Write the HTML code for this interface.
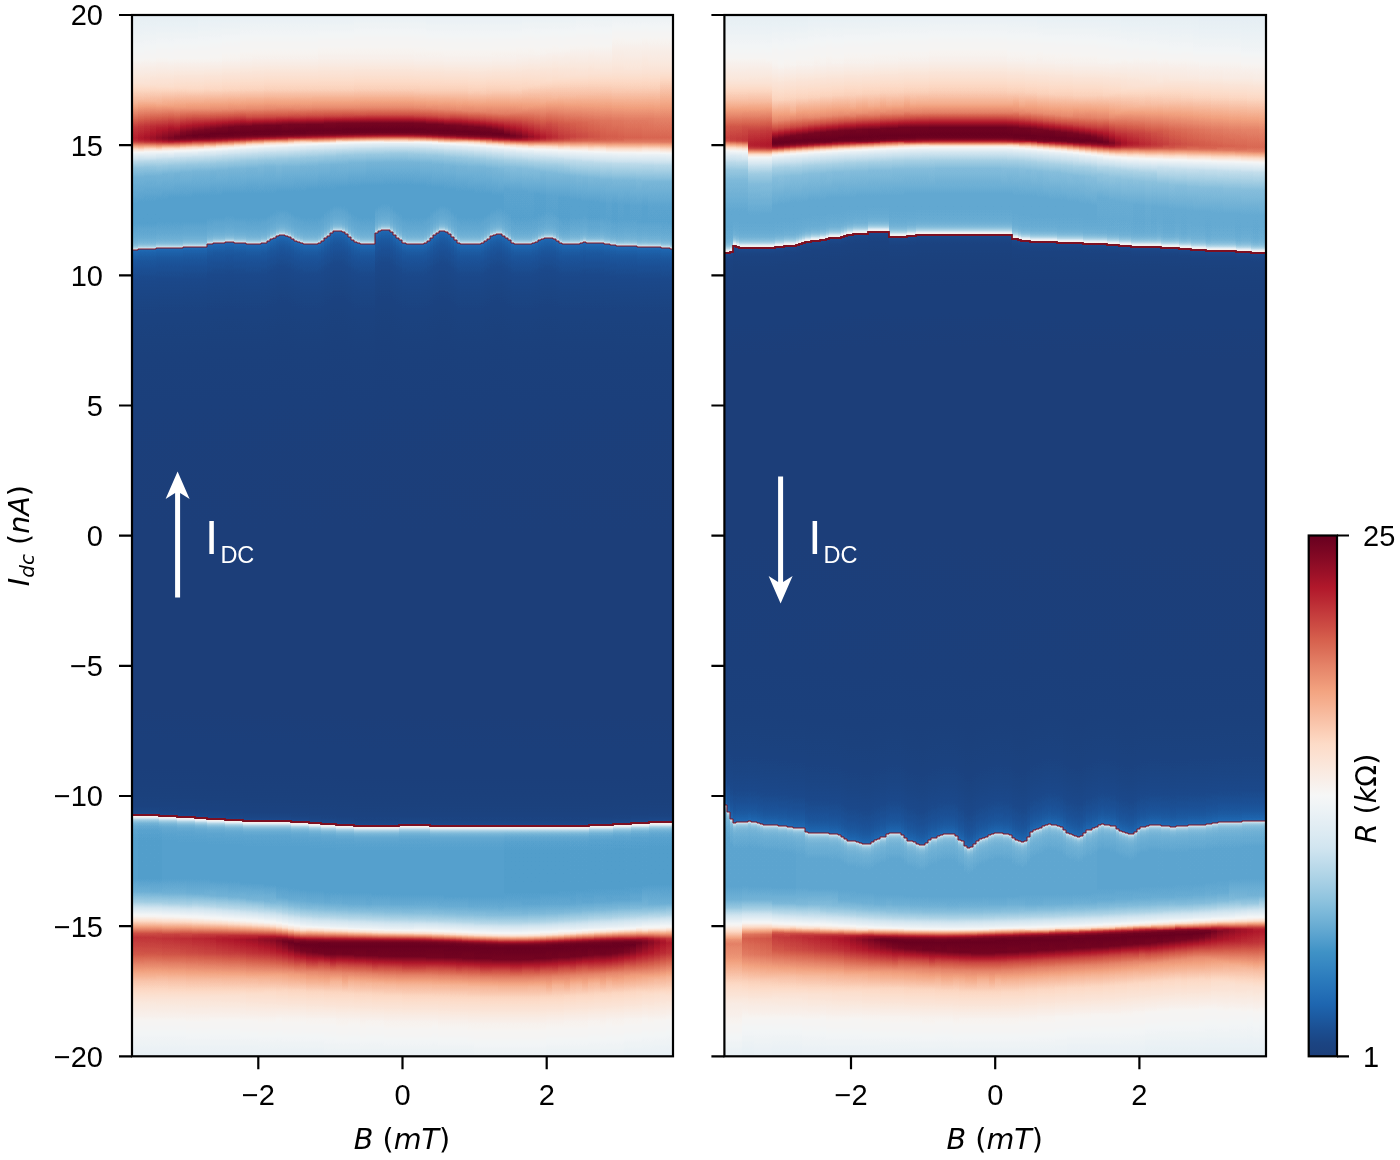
<!DOCTYPE html>
<html lang="en"><head><meta charset="utf-8"><title>Figure</title>
<style>
html,body{margin:0;padding:0;background:#fff;}
body{width:1400px;height:1160px;overflow:hidden;}
svg{display:block;}
.t{font-family:"Liberation Sans",Arial,Helvetica,sans-serif;font-size:29px;fill:#000;}
.m{font-family:"DejaVu Sans","Liberation Sans",sans-serif;font-size:28.6px;fill:#000;}
.i{font-style:oblique;}
.w{font-family:"Liberation Sans",Arial,Helvetica,sans-serif;fill:#fff;}
</style></head><body>
<svg width="1400" height="1160" viewBox="0 0 1400 1160">

<defs>
<filter id="cm" filterUnits="userSpaceOnUse" x="127" y="10" width="1144" height="1051" color-interpolation-filters="sRGB"><feComponentTransfer><feFuncR type="table" tableValues="0.11 0.107 0.106 0.106 0.111 0.117 0.137 0.159 0.183 0.212 0.241 0.298 0.361 0.422 0.481 0.539 0.595 0.648 0.701 0.751 0.8 0.837 0.866 0.896 0.923 0.951 0.968 0.974 0.98 0.985 0.989 0.989 0.981 0.974 0.966 0.958 0.946 0.925 0.903 0.881 0.858 0.834 0.806 0.778 0.75 0.72 0.688 0.628 0.568 0.512 0.458 0.404"/><feFuncG type="table" tableValues="0.247 0.262 0.286 0.32 0.358 0.396 0.43 0.464 0.498 0.532 0.566 0.605 0.645 0.683 0.719 0.754 0.784 0.812 0.839 0.864 0.888 0.906 0.92 0.934 0.948 0.962 0.958 0.936 0.915 0.893 0.872 0.842 0.799 0.755 0.714 0.672 0.628 0.577 0.526 0.473 0.42 0.365 0.308 0.251 0.196 0.143 0.092 0.072 0.052 0.034 0.017 0"/><feFuncB type="table" tableValues="0.478 0.504 0.542 0.593 0.639 0.686 0.708 0.728 0.746 0.76 0.774 0.792 0.812 0.832 0.849 0.866 0.88 0.894 0.908 0.922 0.936 0.945 0.951 0.957 0.962 0.966 0.95 0.913 0.876 0.839 0.803 0.759 0.705 0.651 0.597 0.544 0.494 0.456 0.417 0.377 0.335 0.297 0.271 0.244 0.218 0.192 0.168 0.158 0.149 0.14 0.131 0.122"/></feComponentTransfer></filter>
<linearGradient id="gsu" x2="0" y2="1"><stop offset="0" stop-color="#8c8c8c" stop-opacity="0.000"/><stop offset=".231" stop-color="#8c8c8c" stop-opacity="0.032"/><stop offset=".423" stop-color="#8c8c8c" stop-opacity="0.052"/><stop offset=".577" stop-color="#8c8c8c" stop-opacity="0.079"/><stop offset=".692" stop-color="#8c8c8c" stop-opacity="0.111"/><stop offset=".769" stop-color="#8c8c8c" stop-opacity="0.148"/><stop offset=".827" stop-color="#8c8c8c" stop-opacity="0.195"/><stop offset=".885" stop-color="#8c8c8c" stop-opacity="0.280"/><stop offset=".923" stop-color="#8c8c8c" stop-opacity="0.378"/><stop offset=".962" stop-color="#8c8c8c" stop-opacity="0.536"/><stop offset="1" stop-color="#8c8c8c" stop-opacity="0.800"/></linearGradient>
<linearGradient id="gsd" x2="0" y2="1"><stop offset="0" stop-color="#8c8c8c" stop-opacity="0.800"/><stop offset=".038" stop-color="#8c8c8c" stop-opacity="0.536"/><stop offset=".077" stop-color="#8c8c8c" stop-opacity="0.378"/><stop offset=".115" stop-color="#8c8c8c" stop-opacity="0.280"/><stop offset=".173" stop-color="#8c8c8c" stop-opacity="0.195"/><stop offset=".231" stop-color="#8c8c8c" stop-opacity="0.148"/><stop offset=".308" stop-color="#8c8c8c" stop-opacity="0.111"/><stop offset=".423" stop-color="#8c8c8c" stop-opacity="0.079"/><stop offset=".577" stop-color="#8c8c8c" stop-opacity="0.052"/><stop offset=".769" stop-color="#8c8c8c" stop-opacity="0.032"/><stop offset="1" stop-color="#8c8c8c" stop-opacity="0.000"/></linearGradient>
<linearGradient id="gru" x2="0" y2="1"><stop offset="0" stop-color="#8c8c8c" stop-opacity="0.000"/><stop offset=".231" stop-color="#8c8c8c" stop-opacity="0.012"/><stop offset=".423" stop-color="#8c8c8c" stop-opacity="0.028"/><stop offset=".577" stop-color="#8c8c8c" stop-opacity="0.066"/><stop offset=".692" stop-color="#8c8c8c" stop-opacity="0.141"/><stop offset=".769" stop-color="#8c8c8c" stop-opacity="0.246"/><stop offset=".827" stop-color="#8c8c8c" stop-opacity="0.381"/><stop offset=".885" stop-color="#8c8c8c" stop-opacity="0.598"/><stop offset=".923" stop-color="#8c8c8c" stop-opacity="0.812"/><stop offset=".962" stop-color="#8c8c8c" stop-opacity="1.000"/><stop offset="1" stop-color="#8c8c8c" stop-opacity="1.000"/></linearGradient>
<linearGradient id="grd" x2="0" y2="1"><stop offset="0" stop-color="#8c8c8c" stop-opacity="1.000"/><stop offset=".038" stop-color="#8c8c8c" stop-opacity="1.000"/><stop offset=".077" stop-color="#8c8c8c" stop-opacity="0.812"/><stop offset=".115" stop-color="#8c8c8c" stop-opacity="0.598"/><stop offset=".173" stop-color="#8c8c8c" stop-opacity="0.381"/><stop offset=".231" stop-color="#8c8c8c" stop-opacity="0.246"/><stop offset=".308" stop-color="#8c8c8c" stop-opacity="0.141"/><stop offset=".423" stop-color="#8c8c8c" stop-opacity="0.066"/><stop offset=".577" stop-color="#8c8c8c" stop-opacity="0.028"/><stop offset=".769" stop-color="#8c8c8c" stop-opacity="0.012"/><stop offset="1" stop-color="#8c8c8c" stop-opacity="0.000"/></linearGradient>
<linearGradient id="scl" x2="0" y2="1"><stop offset="0" stop-color="#1d1d1d"/><stop offset=".003" stop-color="#1b1b1b"/><stop offset=".006" stop-color="#181818"/><stop offset=".010" stop-color="#161616"/><stop offset=".016" stop-color="#131313"/><stop offset=".022" stop-color="#111"/><stop offset=".034" stop-color="#0e0e0e"/><stop offset=".055" stop-color="#0a0a0a"/><stop offset=".086" stop-color="#070707"/><stop offset=".129" stop-color="#040404"/><stop offset=".190" stop-color="#020202"/><stop offset=".276" stop-color="#010101"/><stop offset=".500" stop-color="#000"/><stop offset=".724" stop-color="#000"/><stop offset=".810" stop-color="#000"/><stop offset=".871" stop-color="#010101"/><stop offset=".914" stop-color="#010101"/><stop offset=".945" stop-color="#020202"/><stop offset=".966" stop-color="#030303"/><stop offset=".978" stop-color="#040404"/><stop offset=".984" stop-color="#050505"/><stop offset=".990" stop-color="#060606"/><stop offset=".994" stop-color="#080808"/><stop offset=".997" stop-color="#0a0a0a"/><stop offset="1" stop-color="#0d0d0d"/></linearGradient>
<linearGradient id="scr" x2="0" y2="1"><stop offset="0" stop-color="#0d0d0d"/><stop offset=".003" stop-color="#0a0a0a"/><stop offset=".006" stop-color="#080808"/><stop offset=".010" stop-color="#060606"/><stop offset=".016" stop-color="#050505"/><stop offset=".022" stop-color="#040404"/><stop offset=".034" stop-color="#030303"/><stop offset=".055" stop-color="#020202"/><stop offset=".086" stop-color="#010101"/><stop offset=".129" stop-color="#010101"/><stop offset=".190" stop-color="#000"/><stop offset=".276" stop-color="#000"/><stop offset=".500" stop-color="#000"/><stop offset=".724" stop-color="#010101"/><stop offset=".810" stop-color="#020202"/><stop offset=".871" stop-color="#040404"/><stop offset=".914" stop-color="#070707"/><stop offset=".945" stop-color="#0a0a0a"/><stop offset=".966" stop-color="#0e0e0e"/><stop offset=".978" stop-color="#111"/><stop offset=".984" stop-color="#131313"/><stop offset=".990" stop-color="#161616"/><stop offset=".994" stop-color="#181818"/><stop offset=".997" stop-color="#1b1b1b"/><stop offset="1" stop-color="#1d1d1d"/></linearGradient>
<linearGradient id="l0" x2="0" y2="1"><stop offset="0" stop-color="#747474"/><stop offset=".038" stop-color="#7f7f7f"/><stop offset=".065" stop-color="#919191"/><stop offset=".084" stop-color="#aaa"/><stop offset=".108" stop-color="#dadada"/><stop offset=".118" stop-color="#e3e3e3"/><stop offset=".120" stop-color="#e0e0e0"/><stop offset=".122" stop-color="#d7d7d7"/><stop offset=".130" stop-color="#8d8d8d"/><stop offset=".133" stop-color="#797979"/><stop offset=".141" stop-color="#5c5c5c"/><stop offset=".147" stop-color="#4d4d4d"/><stop offset=".156" stop-color="#434343"/><stop offset=".181" stop-color="#3a3a3a"/><stop offset=".829" stop-color="#3a3a3a"/><stop offset=".842" stop-color="#424242"/><stop offset=".852" stop-color="#555"/><stop offset=".866" stop-color="#858585"/><stop offset=".882" stop-color="#d2d2d2"/><stop offset=".886" stop-color="#dbdbdb"/><stop offset=".902" stop-color="#cfcfcf"/><stop offset=".928" stop-color="#a3a3a3"/><stop offset=".946" stop-color="#8f8f8f"/><stop offset=".969" stop-color="#808080"/><stop offset="1" stop-color="#767676"/></linearGradient>
<linearGradient id="l1" x2="0" y2="1"><stop offset="0" stop-color="#747474"/><stop offset=".038" stop-color="#7f7f7f"/><stop offset=".065" stop-color="#919191"/><stop offset=".081" stop-color="#a6a6a6"/><stop offset=".107" stop-color="#dadada"/><stop offset=".118" stop-color="#e6e6e6"/><stop offset=".120" stop-color="#e3e3e3"/><stop offset=".122" stop-color="#d8d8d8"/><stop offset=".132" stop-color="#7e7e7e"/><stop offset=".136" stop-color="#6b6b6b"/><stop offset=".141" stop-color="#5b5b5b"/><stop offset=".147" stop-color="#4d4d4d"/><stop offset=".156" stop-color="#434343"/><stop offset=".180" stop-color="#3a3a3a"/><stop offset=".829" stop-color="#393939"/><stop offset=".842" stop-color="#424242"/><stop offset=".852" stop-color="#555"/><stop offset=".866" stop-color="#848484"/><stop offset=".882" stop-color="#d2d2d2"/><stop offset=".886" stop-color="#dbdbdb"/><stop offset=".902" stop-color="#cfcfcf"/><stop offset=".928" stop-color="#a3a3a3"/><stop offset=".946" stop-color="#8f8f8f"/><stop offset=".969" stop-color="#808080"/><stop offset="1" stop-color="#767676"/></linearGradient>
<linearGradient id="l2" x2="0" y2="1"><stop offset="0" stop-color="#747474"/><stop offset=".039" stop-color="#808080"/><stop offset=".066" stop-color="#929292"/><stop offset=".082" stop-color="#a8a8a8"/><stop offset=".107" stop-color="#dcdcdc"/><stop offset=".118" stop-color="#e9e9e9"/><stop offset=".120" stop-color="#e5e5e5"/><stop offset=".122" stop-color="#dbdbdb"/><stop offset=".129" stop-color="#939393"/><stop offset=".132" stop-color="#7c7c7c"/><stop offset=".140" stop-color="#5d5d5d"/><stop offset=".146" stop-color="#4e4e4e"/><stop offset=".155" stop-color="#434343"/><stop offset=".179" stop-color="#3a3a3a"/><stop offset=".829" stop-color="#393939"/><stop offset=".842" stop-color="#424242"/><stop offset=".852" stop-color="#545454"/><stop offset=".866" stop-color="#848484"/><stop offset=".882" stop-color="#d2d2d2"/><stop offset=".886" stop-color="#dbdbdb"/><stop offset=".901" stop-color="#d0d0d0"/><stop offset=".928" stop-color="#a3a3a3"/><stop offset=".946" stop-color="#8f8f8f"/><stop offset=".969" stop-color="#808080"/><stop offset="1" stop-color="#767676"/></linearGradient>
<linearGradient id="l3" x2="0" y2="1"><stop offset="0" stop-color="#747474"/><stop offset=".040" stop-color="#808080"/><stop offset=".067" stop-color="#949494"/><stop offset=".083" stop-color="#aaa"/><stop offset=".107" stop-color="#dedede"/><stop offset=".118" stop-color="#ececec"/><stop offset=".120" stop-color="#e9e9e9"/><stop offset=".122" stop-color="#ddd"/><stop offset=".129" stop-color="#929292"/><stop offset=".132" stop-color="#7b7b7b"/><stop offset=".140" stop-color="#5c5c5c"/><stop offset=".146" stop-color="#4e4e4e"/><stop offset=".155" stop-color="#434343"/><stop offset=".179" stop-color="#3a3a3a"/><stop offset=".829" stop-color="#393939"/><stop offset=".842" stop-color="#414141"/><stop offset=".852" stop-color="#545454"/><stop offset=".866" stop-color="#848484"/><stop offset=".882" stop-color="#d2d2d2"/><stop offset=".886" stop-color="#dbdbdb"/><stop offset=".901" stop-color="#d0d0d0"/><stop offset=".928" stop-color="#a3a3a3"/><stop offset=".946" stop-color="#8f8f8f"/><stop offset=".969" stop-color="#808080"/><stop offset="1" stop-color="#767676"/></linearGradient>
<linearGradient id="l4" x2="0" y2="1"><stop offset="0" stop-color="#747474"/><stop offset=".040" stop-color="#818181"/><stop offset=".068" stop-color="#959595"/><stop offset=".085" stop-color="#adadad"/><stop offset=".108" stop-color="#e2e2e2"/><stop offset=".118" stop-color="#f0f0f0"/><stop offset=".120" stop-color="#ececec"/><stop offset=".122" stop-color="#dfdfdf"/><stop offset=".131" stop-color="#818181"/><stop offset=".134" stop-color="#707070"/><stop offset=".139" stop-color="#5e5e5e"/><stop offset=".146" stop-color="#4f4f4f"/><stop offset=".154" stop-color="#444"/><stop offset=".178" stop-color="#3a3a3a"/><stop offset=".829" stop-color="#393939"/><stop offset=".842" stop-color="#414141"/><stop offset=".852" stop-color="#545454"/><stop offset=".867" stop-color="#878787"/><stop offset=".882" stop-color="#d3d3d3"/><stop offset=".887" stop-color="#dbdbdb"/><stop offset=".902" stop-color="#cfcfcf"/><stop offset=".927" stop-color="#a4a4a4"/><stop offset=".945" stop-color="#909090"/><stop offset=".969" stop-color="#808080"/><stop offset="1" stop-color="#767676"/></linearGradient>
<linearGradient id="l5" x2="0" y2="1"><stop offset="0" stop-color="#747474"/><stop offset=".040" stop-color="#818181"/><stop offset=".068" stop-color="#959595"/><stop offset=".086" stop-color="#b0b0b0"/><stop offset=".108" stop-color="#e3e3e3"/><stop offset=".118" stop-color="#f4f4f4"/><stop offset=".120" stop-color="#efefef"/><stop offset=".122" stop-color="#e2e2e2"/><stop offset=".128" stop-color="#999"/><stop offset=".131" stop-color="#7f7f7f"/><stop offset=".134" stop-color="#6f6f6f"/><stop offset=".138" stop-color="#616161"/><stop offset=".145" stop-color="#505050"/><stop offset=".153" stop-color="#444"/><stop offset=".177" stop-color="#3a3a3a"/><stop offset=".829" stop-color="#3a3a3a"/><stop offset=".843" stop-color="#424242"/><stop offset=".853" stop-color="#565656"/><stop offset=".867" stop-color="#868686"/><stop offset=".883" stop-color="#d6d6d6"/><stop offset=".887" stop-color="#dcdcdc"/><stop offset=".902" stop-color="#d0d0d0"/><stop offset=".927" stop-color="#a4a4a4"/><stop offset=".945" stop-color="#909090"/><stop offset=".969" stop-color="#808080"/><stop offset="1" stop-color="#767676"/></linearGradient>
<linearGradient id="l6" x2="0" y2="1"><stop offset="0" stop-color="#747474"/><stop offset=".041" stop-color="#818181"/><stop offset=".069" stop-color="#969696"/><stop offset=".087" stop-color="#b2b2b2"/><stop offset=".109" stop-color="#e8e8e8"/><stop offset=".118" stop-color="#f7f7f7"/><stop offset=".120" stop-color="#f2f2f2"/><stop offset=".122" stop-color="#e4e4e4"/><stop offset=".128" stop-color="#989898"/><stop offset=".131" stop-color="#7e7e7e"/><stop offset=".138" stop-color="#606060"/><stop offset=".145" stop-color="#4f4f4f"/><stop offset=".152" stop-color="#454545"/><stop offset=".176" stop-color="#3a3a3a"/><stop offset=".829" stop-color="#3a3a3a"/><stop offset=".843" stop-color="#424242"/><stop offset=".853" stop-color="#555"/><stop offset=".867" stop-color="#868686"/><stop offset=".883" stop-color="#d6d6d6"/><stop offset=".887" stop-color="#dcdcdc"/><stop offset=".902" stop-color="#d0d0d0"/><stop offset=".927" stop-color="#a5a5a5"/><stop offset=".945" stop-color="#909090"/><stop offset=".969" stop-color="#808080"/><stop offset="1" stop-color="#767676"/></linearGradient>
<linearGradient id="l7" x2="0" y2="1"><stop offset="0" stop-color="#747474"/><stop offset=".042" stop-color="#828282"/><stop offset=".070" stop-color="#989898"/><stop offset=".089" stop-color="#b6b6b6"/><stop offset=".117" stop-color="#fafafa"/><stop offset=".119" stop-color="#f8f8f8"/><stop offset=".121" stop-color="#ececec"/><stop offset=".130" stop-color="#838383"/><stop offset=".133" stop-color="#717171"/><stop offset=".137" stop-color="#626262"/><stop offset=".144" stop-color="#515151"/><stop offset=".152" stop-color="#444"/><stop offset=".176" stop-color="#3a3a3a"/><stop offset=".829" stop-color="#3a3a3a"/><stop offset=".843" stop-color="#424242"/><stop offset=".853" stop-color="#555"/><stop offset=".867" stop-color="#858585"/><stop offset=".883" stop-color="#d7d7d7"/><stop offset=".887" stop-color="#ddd"/><stop offset=".902" stop-color="#d0d0d0"/><stop offset=".927" stop-color="#a5a5a5"/><stop offset=".945" stop-color="#909090"/><stop offset=".969" stop-color="#808080"/><stop offset="1" stop-color="#767676"/></linearGradient>
<linearGradient id="l8" x2="0" y2="1"><stop offset="0" stop-color="#747474"/><stop offset=".042" stop-color="#828282"/><stop offset=".070" stop-color="#989898"/><stop offset=".089" stop-color="#b6b6b6"/><stop offset=".113" stop-color="#f6f6f6"/><stop offset=".117" stop-color="#fcfcfc"/><stop offset=".119" stop-color="#f8f8f8"/><stop offset=".121" stop-color="#eaeaea"/><stop offset=".128" stop-color="#939393"/><stop offset=".130" stop-color="#828282"/><stop offset=".133" stop-color="#707070"/><stop offset=".137" stop-color="#616161"/><stop offset=".144" stop-color="#505050"/><stop offset=".151" stop-color="#454545"/><stop offset=".175" stop-color="#3a3a3a"/><stop offset=".829" stop-color="#3a3a3a"/><stop offset=".843" stop-color="#424242"/><stop offset=".854" stop-color="#575757"/><stop offset=".867" stop-color="#848484"/><stop offset=".882" stop-color="#d3d3d3"/><stop offset=".887" stop-color="#dedede"/><stop offset=".901" stop-color="#d2d2d2"/><stop offset=".927" stop-color="#a5a5a5"/><stop offset=".945" stop-color="#909090"/><stop offset=".969" stop-color="#808080"/><stop offset="1" stop-color="#767676"/></linearGradient>
<linearGradient id="l9" x2="0" y2="1"><stop offset="0" stop-color="#747474"/><stop offset=".042" stop-color="#828282"/><stop offset=".071" stop-color="#999"/><stop offset=".090" stop-color="#b9b9b9"/><stop offset=".112" stop-color="#f6f6f6"/><stop offset=".116" stop-color="#fdfdfd"/><stop offset=".119" stop-color="#f7f7f7"/><stop offset=".121" stop-color="#e9e9e9"/><stop offset=".127" stop-color="#9b9b9b"/><stop offset=".130" stop-color="#808080"/><stop offset=".133" stop-color="#6f6f6f"/><stop offset=".137" stop-color="#606060"/><stop offset=".144" stop-color="#4f4f4f"/><stop offset=".151" stop-color="#454545"/><stop offset=".175" stop-color="#3a3a3a"/><stop offset=".829" stop-color="#3a3a3a"/><stop offset=".843" stop-color="#414141"/><stop offset=".854" stop-color="#565656"/><stop offset=".867" stop-color="#838383"/><stop offset=".882" stop-color="#d3d3d3"/><stop offset=".887" stop-color="#dedede"/><stop offset=".901" stop-color="#d3d3d3"/><stop offset=".927" stop-color="#a6a6a6"/><stop offset=".944" stop-color="#919191"/><stop offset=".968" stop-color="#818181"/><stop offset="1" stop-color="#767676"/></linearGradient>
<linearGradient id="l10" x2="0" y2="1"><stop offset="0" stop-color="#747474"/><stop offset=".042" stop-color="#828282"/><stop offset=".071" stop-color="#999"/><stop offset=".090" stop-color="#b9b9b9"/><stop offset=".112" stop-color="#f9f9f9"/><stop offset=".116" stop-color="#fefefe"/><stop offset=".118" stop-color="#fbfbfb"/><stop offset=".120" stop-color="#f0f0f0"/><stop offset=".127" stop-color="#999"/><stop offset=".130" stop-color="#7e7e7e"/><stop offset=".136" stop-color="#626262"/><stop offset=".143" stop-color="#515151"/><stop offset=".150" stop-color="#454545"/><stop offset=".174" stop-color="#3a3a3a"/><stop offset=".830" stop-color="#3a3a3a"/><stop offset=".844" stop-color="#424242"/><stop offset=".854" stop-color="#585858"/><stop offset=".868" stop-color="#868686"/><stop offset=".883" stop-color="#d7d7d7"/><stop offset=".887" stop-color="#e0e0e0"/><stop offset=".901" stop-color="#d3d3d3"/><stop offset=".927" stop-color="#a6a6a6"/><stop offset=".944" stop-color="#919191"/><stop offset=".968" stop-color="#818181"/><stop offset="1" stop-color="#767676"/></linearGradient>
<linearGradient id="l11" x2="0" y2="1"><stop offset="0" stop-color="#757575"/><stop offset=".042" stop-color="#828282"/><stop offset=".071" stop-color="#999"/><stop offset=".090" stop-color="#b9b9b9"/><stop offset=".098" stop-color="#d0d0d0"/><stop offset=".111" stop-color="#f8f8f8"/><stop offset=".115" stop-color="#fefefe"/><stop offset=".118" stop-color="#fafafa"/><stop offset=".120" stop-color="#efefef"/><stop offset=".129" stop-color="#838383"/><stop offset=".132" stop-color="#717171"/><stop offset=".136" stop-color="#626262"/><stop offset=".143" stop-color="#505050"/><stop offset=".150" stop-color="#454545"/><stop offset=".174" stop-color="#3a3a3a"/><stop offset=".830" stop-color="#3a3a3a"/><stop offset=".844" stop-color="#424242"/><stop offset=".854" stop-color="#575757"/><stop offset=".868" stop-color="#858585"/><stop offset=".883" stop-color="#d8d8d8"/><stop offset=".887" stop-color="#e0e0e0"/><stop offset=".901" stop-color="#d4d4d4"/><stop offset=".927" stop-color="#a6a6a6"/><stop offset=".944" stop-color="#919191"/><stop offset=".968" stop-color="#818181"/><stop offset="1" stop-color="#767676"/></linearGradient>
<linearGradient id="l12" x2="0" y2="1"><stop offset="0" stop-color="#757575"/><stop offset=".042" stop-color="#828282"/><stop offset=".071" stop-color="#9a9a9a"/><stop offset=".090" stop-color="#b9b9b9"/><stop offset=".098" stop-color="#d0d0d0"/><stop offset=".110" stop-color="#f8f8f8"/><stop offset=".115" stop-color="#fefefe"/><stop offset=".117" stop-color="#fdfdfd"/><stop offset=".119" stop-color="#f5f5f5"/><stop offset=".121" stop-color="#e4e4e4"/><stop offset=".126" stop-color="#9e9e9e"/><stop offset=".129" stop-color="#818181"/><stop offset=".132" stop-color="#6f6f6f"/><stop offset=".136" stop-color="#616161"/><stop offset=".143" stop-color="#505050"/><stop offset=".150" stop-color="#454545"/><stop offset=".174" stop-color="#3a3a3a"/><stop offset=".830" stop-color="#3a3a3a"/><stop offset=".845" stop-color="#434343"/><stop offset=".855" stop-color="#595959"/><stop offset=".868" stop-color="#838383"/><stop offset=".883" stop-color="#d8d8d8"/><stop offset=".887" stop-color="#e1e1e1"/><stop offset=".901" stop-color="#d5d5d5"/><stop offset=".927" stop-color="#a6a6a6"/><stop offset=".944" stop-color="#919191"/><stop offset=".968" stop-color="#818181"/><stop offset="1" stop-color="#767676"/></linearGradient>
<linearGradient id="l13" x2="0" y2="1"><stop offset="0" stop-color="#757575"/><stop offset=".043" stop-color="#838383"/><stop offset=".072" stop-color="#9b9b9b"/><stop offset=".091" stop-color="#bcbcbc"/><stop offset=".099" stop-color="#d4d4d4"/><stop offset=".109" stop-color="#f7f7f7"/><stop offset=".114" stop-color="#fefefe"/><stop offset=".117" stop-color="#fcfcfc"/><stop offset=".119" stop-color="#f3f3f3"/><stop offset=".121" stop-color="#e1e1e1"/><stop offset=".128" stop-color="#878787"/><stop offset=".131" stop-color="#737373"/><stop offset=".136" stop-color="#606060"/><stop offset=".143" stop-color="#4f4f4f"/><stop offset=".150" stop-color="#444"/><stop offset=".173" stop-color="#3a3a3a"/><stop offset=".831" stop-color="#3a3a3a"/><stop offset=".846" stop-color="#444"/><stop offset=".856" stop-color="#5b5b5b"/><stop offset=".869" stop-color="#868686"/><stop offset=".883" stop-color="#d8d8d8"/><stop offset=".887" stop-color="#e2e2e2"/><stop offset=".901" stop-color="#d5d5d5"/><stop offset=".926" stop-color="#a8a8a8"/><stop offset=".943" stop-color="#929292"/><stop offset=".967" stop-color="#818181"/><stop offset="1" stop-color="#767676"/></linearGradient>
<linearGradient id="l14" x2="0" y2="1"><stop offset="0" stop-color="#757575"/><stop offset=".043" stop-color="#838383"/><stop offset=".072" stop-color="#9b9b9b"/><stop offset=".091" stop-color="#bcbcbc"/><stop offset=".099" stop-color="#d5d5d5"/><stop offset=".109" stop-color="#f9f9f9"/><stop offset=".114" stop-color="#fefefe"/><stop offset=".117" stop-color="#fbfbfb"/><stop offset=".119" stop-color="#f2f2f2"/><stop offset=".121" stop-color="#dfdfdf"/><stop offset=".126" stop-color="#979797"/><stop offset=".128" stop-color="#848484"/><stop offset=".131" stop-color="#717171"/><stop offset=".135" stop-color="#626262"/><stop offset=".142" stop-color="#505050"/><stop offset=".149" stop-color="#454545"/><stop offset=".173" stop-color="#3a3a3a"/><stop offset=".831" stop-color="#3a3a3a"/><stop offset=".846" stop-color="#434343"/><stop offset=".856" stop-color="#595959"/><stop offset=".869" stop-color="#858585"/><stop offset=".883" stop-color="#d8d8d8"/><stop offset=".885" stop-color="#e0e0e0"/><stop offset=".888" stop-color="#e4e4e4"/><stop offset=".901" stop-color="#d6d6d6"/><stop offset=".926" stop-color="#a8a8a8"/><stop offset=".943" stop-color="#929292"/><stop offset=".967" stop-color="#818181"/><stop offset="1" stop-color="#767676"/></linearGradient>
<linearGradient id="l15" x2="0" y2="1"><stop offset="0" stop-color="#757575"/><stop offset=".043" stop-color="#848484"/><stop offset=".072" stop-color="#9c9c9c"/><stop offset=".090" stop-color="#bababa"/><stop offset=".098" stop-color="#d2d2d2"/><stop offset=".108" stop-color="#f8f8f8"/><stop offset=".114" stop-color="#fefefe"/><stop offset=".117" stop-color="#fbfbfb"/><stop offset=".119" stop-color="#f0f0f0"/><stop offset=".121" stop-color="#dcdcdc"/><stop offset=".126" stop-color="#939393"/><stop offset=".128" stop-color="#818181"/><stop offset=".131" stop-color="#6f6f6f"/><stop offset=".135" stop-color="#606060"/><stop offset=".142" stop-color="#505050"/><stop offset=".149" stop-color="#454545"/><stop offset=".172" stop-color="#3a3a3a"/><stop offset=".831" stop-color="#3a3a3a"/><stop offset=".846" stop-color="#434343"/><stop offset=".857" stop-color="#5b5b5b"/><stop offset=".869" stop-color="#838383"/><stop offset=".883" stop-color="#d8d8d8"/><stop offset=".886" stop-color="#e3e3e3"/><stop offset=".888" stop-color="#e5e5e5"/><stop offset=".901" stop-color="#d7d7d7"/><stop offset=".925" stop-color="#aaa"/><stop offset=".942" stop-color="#939393"/><stop offset=".967" stop-color="#818181"/><stop offset="1" stop-color="#767676"/></linearGradient>
<linearGradient id="l16" x2="0" y2="1"><stop offset="0" stop-color="#757575"/><stop offset=".043" stop-color="#848484"/><stop offset=".072" stop-color="#9c9c9c"/><stop offset=".091" stop-color="#bdbdbd"/><stop offset=".098" stop-color="#d3d3d3"/><stop offset=".108" stop-color="#fafafa"/><stop offset=".113" stop-color="#fefefe"/><stop offset=".116" stop-color="#fdfdfd"/><stop offset=".118" stop-color="#f5f5f5"/><stop offset=".120" stop-color="#e4e4e4"/><stop offset=".127" stop-color="#868686"/><stop offset=".130" stop-color="#727272"/><stop offset=".134" stop-color="#626262"/><stop offset=".141" stop-color="#515151"/><stop offset=".148" stop-color="#454545"/><stop offset=".172" stop-color="#3a3a3a"/><stop offset=".832" stop-color="#3a3a3a"/><stop offset=".847" stop-color="#434343"/><stop offset=".858" stop-color="#5d5d5d"/><stop offset=".870" stop-color="#868686"/><stop offset=".884" stop-color="#dedede"/><stop offset=".888" stop-color="#e6e6e6"/><stop offset=".901" stop-color="#d8d8d8"/><stop offset=".925" stop-color="#aaa"/><stop offset=".942" stop-color="#939393"/><stop offset=".967" stop-color="#818181"/><stop offset="1" stop-color="#767676"/></linearGradient>
<linearGradient id="l17" x2="0" y2="1"><stop offset="0" stop-color="#757575"/><stop offset=".043" stop-color="#848484"/><stop offset=".072" stop-color="#9c9c9c"/><stop offset=".090" stop-color="#bbb"/><stop offset=".098" stop-color="#d4d4d4"/><stop offset=".107" stop-color="#f8f8f8"/><stop offset=".113" stop-color="#fefefe"/><stop offset=".116" stop-color="#fcfcfc"/><stop offset=".118" stop-color="#f4f4f4"/><stop offset=".120" stop-color="#e2e2e2"/><stop offset=".125" stop-color="#979797"/><stop offset=".127" stop-color="#838383"/><stop offset=".130" stop-color="#707070"/><stop offset=".134" stop-color="#616161"/><stop offset=".141" stop-color="#505050"/><stop offset=".148" stop-color="#454545"/><stop offset=".172" stop-color="#3a3a3a"/><stop offset=".832" stop-color="#3a3a3a"/><stop offset=".847" stop-color="#434343"/><stop offset=".858" stop-color="#5c5c5c"/><stop offset=".870" stop-color="#848484"/><stop offset=".884" stop-color="#dedede"/><stop offset=".888" stop-color="#e8e8e8"/><stop offset=".900" stop-color="#dadada"/><stop offset=".925" stop-color="#aaa"/><stop offset=".942" stop-color="#939393"/><stop offset=".967" stop-color="#818181"/><stop offset="1" stop-color="#767676"/></linearGradient>
<linearGradient id="l18" x2="0" y2="1"><stop offset="0" stop-color="#767676"/><stop offset=".043" stop-color="#858585"/><stop offset=".072" stop-color="#9d9d9d"/><stop offset=".090" stop-color="#bbb"/><stop offset=".098" stop-color="#d5d5d5"/><stop offset=".107" stop-color="#fafafa"/><stop offset=".113" stop-color="#fefefe"/><stop offset=".116" stop-color="#fcfcfc"/><stop offset=".118" stop-color="#f2f2f2"/><stop offset=".120" stop-color="#dfdfdf"/><stop offset=".126" stop-color="#888"/><stop offset=".129" stop-color="#737373"/><stop offset=".133" stop-color="#636363"/><stop offset=".140" stop-color="#515151"/><stop offset=".147" stop-color="#464646"/><stop offset=".171" stop-color="#3a3a3a"/><stop offset=".833" stop-color="#3a3a3a"/><stop offset=".848" stop-color="#444"/><stop offset=".859" stop-color="#5d5d5d"/><stop offset=".871" stop-color="#878787"/><stop offset=".884" stop-color="#dedede"/><stop offset=".888" stop-color="#e9e9e9"/><stop offset=".900" stop-color="#dbdbdb"/><stop offset=".924" stop-color="#acacac"/><stop offset=".941" stop-color="#949494"/><stop offset=".966" stop-color="#828282"/><stop offset="1" stop-color="#767676"/></linearGradient>
<linearGradient id="l19" x2="0" y2="1"><stop offset="0" stop-color="#767676"/><stop offset=".043" stop-color="#858585"/><stop offset=".072" stop-color="#9d9d9d"/><stop offset=".090" stop-color="#bcbcbc"/><stop offset=".098" stop-color="#d2d2d2"/><stop offset=".107" stop-color="#fafafa"/><stop offset=".113" stop-color="#fefefe"/><stop offset=".116" stop-color="#fbfbfb"/><stop offset=".118" stop-color="#f0f0f0"/><stop offset=".120" stop-color="#dcdcdc"/><stop offset=".124" stop-color="#9a9a9a"/><stop offset=".126" stop-color="#858585"/><stop offset=".129" stop-color="#717171"/><stop offset=".133" stop-color="#626262"/><stop offset=".140" stop-color="#505050"/><stop offset=".147" stop-color="#454545"/><stop offset=".171" stop-color="#3a3a3a"/><stop offset=".833" stop-color="#3a3a3a"/><stop offset=".849" stop-color="#444"/><stop offset=".860" stop-color="#5f5f5f"/><stop offset=".871" stop-color="#858585"/><stop offset=".884" stop-color="#dedede"/><stop offset=".888" stop-color="#ebebeb"/><stop offset=".901" stop-color="#dbdbdb"/><stop offset=".926" stop-color="#a9a9a9"/><stop offset=".941" stop-color="#959595"/><stop offset=".966" stop-color="#828282"/><stop offset="1" stop-color="#767676"/></linearGradient>
<linearGradient id="l20" x2="0" y2="1"><stop offset="0" stop-color="#767676"/><stop offset=".042" stop-color="#858585"/><stop offset=".072" stop-color="#9d9d9d"/><stop offset=".090" stop-color="#bcbcbc"/><stop offset=".098" stop-color="#d3d3d3"/><stop offset=".106" stop-color="#f9f9f9"/><stop offset=".112" stop-color="#fefefe"/><stop offset=".115" stop-color="#fdfdfd"/><stop offset=".117" stop-color="#f6f6f6"/><stop offset=".119" stop-color="#e5e5e5"/><stop offset=".124" stop-color="#979797"/><stop offset=".126" stop-color="#828282"/><stop offset=".129" stop-color="#707070"/><stop offset=".133" stop-color="#616161"/><stop offset=".140" stop-color="#505050"/><stop offset=".147" stop-color="#454545"/><stop offset=".171" stop-color="#3a3a3a"/><stop offset=".834" stop-color="#3a3a3a"/><stop offset=".850" stop-color="#454545"/><stop offset=".861" stop-color="#616161"/><stop offset=".872" stop-color="#888"/><stop offset=".884" stop-color="#dedede"/><stop offset=".888" stop-color="#ececec"/><stop offset=".901" stop-color="#dcdcdc"/><stop offset=".926" stop-color="#a9a9a9"/><stop offset=".941" stop-color="#959595"/><stop offset=".966" stop-color="#828282"/><stop offset="1" stop-color="#767676"/></linearGradient>
<linearGradient id="l21" x2="0" y2="1"><stop offset="0" stop-color="#767676"/><stop offset=".042" stop-color="#858585"/><stop offset=".072" stop-color="#9d9d9d"/><stop offset=".090" stop-color="#bcbcbc"/><stop offset=".098" stop-color="#d3d3d3"/><stop offset=".106" stop-color="#f9f9f9"/><stop offset=".112" stop-color="#fefefe"/><stop offset=".115" stop-color="#fdfdfd"/><stop offset=".117" stop-color="#f5f5f5"/><stop offset=".119" stop-color="#e2e2e2"/><stop offset=".125" stop-color="#888"/><stop offset=".128" stop-color="#737373"/><stop offset=".132" stop-color="#636363"/><stop offset=".139" stop-color="#515151"/><stop offset=".146" stop-color="#464646"/><stop offset=".171" stop-color="#3a3a3a"/><stop offset=".834" stop-color="#3a3a3a"/><stop offset=".850" stop-color="#454545"/><stop offset=".861" stop-color="#5f5f5f"/><stop offset=".872" stop-color="#868686"/><stop offset=".885" stop-color="#e5e5e5"/><stop offset=".887" stop-color="#ededed"/><stop offset=".889" stop-color="#eee"/><stop offset=".901" stop-color="#ddd"/><stop offset=".924" stop-color="#adadad"/><stop offset=".940" stop-color="#969696"/><stop offset=".965" stop-color="#838383"/><stop offset="1" stop-color="#767676"/></linearGradient>
<linearGradient id="l22" x2="0" y2="1"><stop offset="0" stop-color="#767676"/><stop offset=".042" stop-color="#858585"/><stop offset=".072" stop-color="#9e9e9e"/><stop offset=".090" stop-color="#bdbdbd"/><stop offset=".098" stop-color="#d4d4d4"/><stop offset=".106" stop-color="#fafafa"/><stop offset=".112" stop-color="#fefefe"/><stop offset=".115" stop-color="#fdfdfd"/><stop offset=".117" stop-color="#f4f4f4"/><stop offset=".119" stop-color="#e0e0e0"/><stop offset=".123" stop-color="#9c9c9c"/><stop offset=".125" stop-color="#868686"/><stop offset=".128" stop-color="#717171"/><stop offset=".132" stop-color="#626262"/><stop offset=".139" stop-color="#505050"/><stop offset=".146" stop-color="#454545"/><stop offset=".171" stop-color="#3a3a3a"/><stop offset=".835" stop-color="#3a3a3a"/><stop offset=".851" stop-color="#454545"/><stop offset=".856" stop-color="#505050"/><stop offset=".863" stop-color="#646464"/><stop offset=".872" stop-color="#838383"/><stop offset=".885" stop-color="#e5e5e5"/><stop offset=".887" stop-color="#eee"/><stop offset=".889" stop-color="#f0f0f0"/><stop offset=".901" stop-color="#dedede"/><stop offset=".924" stop-color="#adadad"/><stop offset=".939" stop-color="#979797"/><stop offset=".965" stop-color="#838383"/><stop offset="1" stop-color="#767676"/></linearGradient>
<linearGradient id="l23" x2="0" y2="1"><stop offset="0" stop-color="#767676"/><stop offset=".042" stop-color="#858585"/><stop offset=".072" stop-color="#9e9e9e"/><stop offset=".090" stop-color="#bdbdbd"/><stop offset=".098" stop-color="#d4d4d4"/><stop offset=".106" stop-color="#fafafa"/><stop offset=".112" stop-color="#fefefe"/><stop offset=".115" stop-color="#fcfcfc"/><stop offset=".117" stop-color="#f3f3f3"/><stop offset=".119" stop-color="#dedede"/><stop offset=".123" stop-color="#9a9a9a"/><stop offset=".125" stop-color="#848484"/><stop offset=".128" stop-color="#707070"/><stop offset=".132" stop-color="#616161"/><stop offset=".139" stop-color="#505050"/><stop offset=".146" stop-color="#454545"/><stop offset=".171" stop-color="#3a3a3a"/><stop offset=".835" stop-color="#3a3a3a"/><stop offset=".852" stop-color="#464646"/><stop offset=".857" stop-color="#515151"/><stop offset=".864" stop-color="#666"/><stop offset=".873" stop-color="#868686"/><stop offset=".885" stop-color="#e6e6e6"/><stop offset=".887" stop-color="#efefef"/><stop offset=".889" stop-color="#f2f2f2"/><stop offset=".901" stop-color="#e0e0e0"/><stop offset=".923" stop-color="#afafaf"/><stop offset=".939" stop-color="#979797"/><stop offset=".965" stop-color="#838383"/><stop offset="1" stop-color="#767676"/></linearGradient>
<linearGradient id="l24" x2="0" y2="1"><stop offset="0" stop-color="#767676"/><stop offset=".042" stop-color="#858585"/><stop offset=".072" stop-color="#9e9e9e"/><stop offset=".089" stop-color="#bbb"/><stop offset=".097" stop-color="#d1d1d1"/><stop offset=".106" stop-color="#fbfbfb"/><stop offset=".112" stop-color="#fefefe"/><stop offset=".115" stop-color="#fcfcfc"/><stop offset=".117" stop-color="#f1f1f1"/><stop offset=".119" stop-color="#dcdcdc"/><stop offset=".123" stop-color="#979797"/><stop offset=".125" stop-color="#828282"/><stop offset=".127" stop-color="#747474"/><stop offset=".131" stop-color="#636363"/><stop offset=".138" stop-color="#515151"/><stop offset=".146" stop-color="#464646"/><stop offset=".170" stop-color="#3a3a3a"/><stop offset=".836" stop-color="#3a3a3a"/><stop offset=".847" stop-color="#3f3f3f"/><stop offset=".854" stop-color="#4a4a4a"/><stop offset=".861" stop-color="#5a5a5a"/><stop offset=".871" stop-color="#7b7b7b"/><stop offset=".875" stop-color="#8f8f8f"/><stop offset=".886" stop-color="#ededed"/><stop offset=".889" stop-color="#f7f7f7"/><stop offset=".900" stop-color="#e5e5e5"/><stop offset=".922" stop-color="#b1b1b1"/><stop offset=".938" stop-color="#999"/><stop offset=".964" stop-color="#838383"/><stop offset="1" stop-color="#767676"/></linearGradient>
<linearGradient id="l25" x2="0" y2="1"><stop offset="0" stop-color="#767676"/><stop offset=".042" stop-color="#858585"/><stop offset=".072" stop-color="#9e9e9e"/><stop offset=".089" stop-color="#bbb"/><stop offset=".097" stop-color="#d1d1d1"/><stop offset=".105" stop-color="#f8f8f8"/><stop offset=".112" stop-color="#fefefe"/><stop offset=".115" stop-color="#fbfbfb"/><stop offset=".117" stop-color="#f0f0f0"/><stop offset=".119" stop-color="#dadada"/><stop offset=".124" stop-color="#898989"/><stop offset=".127" stop-color="#737373"/><stop offset=".131" stop-color="#636363"/><stop offset=".138" stop-color="#515151"/><stop offset=".146" stop-color="#454545"/><stop offset=".170" stop-color="#3a3a3a"/><stop offset=".837" stop-color="#3a3a3a"/><stop offset=".848" stop-color="#3f3f3f"/><stop offset=".855" stop-color="#4a4a4a"/><stop offset=".862" stop-color="#5a5a5a"/><stop offset=".872" stop-color="#7b7b7b"/><stop offset=".876" stop-color="#909090"/><stop offset=".886" stop-color="#ececec"/><stop offset=".888" stop-color="#f7f7f7"/><stop offset=".890" stop-color="#fbfbfb"/><stop offset=".900" stop-color="#e8e8e8"/><stop offset=".921" stop-color="#b4b4b4"/><stop offset=".937" stop-color="#9a9a9a"/><stop offset=".963" stop-color="#848484"/><stop offset="1" stop-color="#767676"/></linearGradient>
<linearGradient id="l26" x2="0" y2="1"><stop offset="0" stop-color="#767676"/><stop offset=".042" stop-color="#858585"/><stop offset=".072" stop-color="#9e9e9e"/><stop offset=".089" stop-color="#bbb"/><stop offset=".097" stop-color="#d2d2d2"/><stop offset=".105" stop-color="#f9f9f9"/><stop offset=".112" stop-color="#fefefe"/><stop offset=".115" stop-color="#fbfbfb"/><stop offset=".117" stop-color="#efefef"/><stop offset=".124" stop-color="#868686"/><stop offset=".127" stop-color="#717171"/><stop offset=".131" stop-color="#626262"/><stop offset=".138" stop-color="#505050"/><stop offset=".146" stop-color="#454545"/><stop offset=".170" stop-color="#3a3a3a"/><stop offset=".838" stop-color="#3a3a3a"/><stop offset=".849" stop-color="#3f3f3f"/><stop offset=".856" stop-color="#4a4a4a"/><stop offset=".863" stop-color="#5a5a5a"/><stop offset=".873" stop-color="#7b7b7b"/><stop offset=".877" stop-color="#919191"/><stop offset=".887" stop-color="#efefef"/><stop offset=".889" stop-color="#fafafa"/><stop offset=".891" stop-color="#fdfdfd"/><stop offset=".897" stop-color="#f4f4f4"/><stop offset=".920" stop-color="#b7b7b7"/><stop offset=".937" stop-color="#9b9b9b"/><stop offset=".963" stop-color="#848484"/><stop offset="1" stop-color="#767676"/></linearGradient>
<linearGradient id="l27" x2="0" y2="1"><stop offset="0" stop-color="#767676"/><stop offset=".042" stop-color="#858585"/><stop offset=".072" stop-color="#9e9e9e"/><stop offset=".090" stop-color="#bdbdbd"/><stop offset=".098" stop-color="#d6d6d6"/><stop offset=".105" stop-color="#f9f9f9"/><stop offset=".111" stop-color="#fefefe"/><stop offset=".114" stop-color="#fdfdfd"/><stop offset=".116" stop-color="#f5f5f5"/><stop offset=".118" stop-color="#e2e2e2"/><stop offset=".122" stop-color="#9b9b9b"/><stop offset=".124" stop-color="#848484"/><stop offset=".127" stop-color="#707070"/><stop offset=".131" stop-color="#616161"/><stop offset=".138" stop-color="#505050"/><stop offset=".146" stop-color="#454545"/><stop offset=".169" stop-color="#3a3a3a"/><stop offset=".839" stop-color="#3a3a3a"/><stop offset=".850" stop-color="#404040"/><stop offset=".857" stop-color="#4a4a4a"/><stop offset=".864" stop-color="#5b5b5b"/><stop offset=".874" stop-color="#7c7c7c"/><stop offset=".878" stop-color="#939393"/><stop offset=".888" stop-color="#f3f3f3"/><stop offset=".892" stop-color="#fefefe"/><stop offset=".898" stop-color="#f7f7f7"/><stop offset=".921" stop-color="#b6b6b6"/><stop offset=".937" stop-color="#9b9b9b"/><stop offset=".963" stop-color="#848484"/><stop offset="1" stop-color="#767676"/></linearGradient>
<linearGradient id="l28" x2="0" y2="1"><stop offset="0" stop-color="#767676"/><stop offset=".042" stop-color="#858585"/><stop offset=".072" stop-color="#9e9e9e"/><stop offset=".089" stop-color="#bbb"/><stop offset=".097" stop-color="#d2d2d2"/><stop offset=".105" stop-color="#f9f9f9"/><stop offset=".111" stop-color="#fefefe"/><stop offset=".114" stop-color="#fdfdfd"/><stop offset=".116" stop-color="#f4f4f4"/><stop offset=".118" stop-color="#e0e0e0"/><stop offset=".122" stop-color="#989898"/><stop offset=".124" stop-color="#828282"/><stop offset=".126" stop-color="#747474"/><stop offset=".130" stop-color="#636363"/><stop offset=".137" stop-color="#515151"/><stop offset=".145" stop-color="#454545"/><stop offset=".169" stop-color="#3a3a3a"/><stop offset=".840" stop-color="#3a3a3a"/><stop offset=".851" stop-color="#404040"/><stop offset=".858" stop-color="#4a4a4a"/><stop offset=".865" stop-color="#5b5b5b"/><stop offset=".874" stop-color="#797979"/><stop offset=".878" stop-color="#8d8d8d"/><stop offset=".888" stop-color="#f1f1f1"/><stop offset=".890" stop-color="#fbfbfb"/><stop offset=".893" stop-color="#fefefe"/><stop offset=".899" stop-color="#f9f9f9"/><stop offset=".912" stop-color="#cecece"/><stop offset=".921" stop-color="#b7b7b7"/><stop offset=".937" stop-color="#9b9b9b"/><stop offset=".963" stop-color="#848484"/><stop offset="1" stop-color="#767676"/></linearGradient>
<linearGradient id="l29" x2="0" y2="1"><stop offset="0" stop-color="#767676"/><stop offset=".042" stop-color="#858585"/><stop offset=".072" stop-color="#9e9e9e"/><stop offset=".089" stop-color="#bbb"/><stop offset=".097" stop-color="#d3d3d3"/><stop offset=".105" stop-color="#fafafa"/><stop offset=".111" stop-color="#fefefe"/><stop offset=".114" stop-color="#fcfcfc"/><stop offset=".116" stop-color="#f3f3f3"/><stop offset=".118" stop-color="#dedede"/><stop offset=".123" stop-color="#898989"/><stop offset=".126" stop-color="#727272"/><stop offset=".130" stop-color="#626262"/><stop offset=".137" stop-color="#505050"/><stop offset=".145" stop-color="#454545"/><stop offset=".168" stop-color="#3a3a3a"/><stop offset=".841" stop-color="#3a3a3a"/><stop offset=".851" stop-color="#3f3f3f"/><stop offset=".858" stop-color="#494949"/><stop offset=".865" stop-color="#5a5a5a"/><stop offset=".875" stop-color="#7a7a7a"/><stop offset=".878" stop-color="#919191"/><stop offset=".888" stop-color="#efefef"/><stop offset=".890" stop-color="#fafafa"/><stop offset=".893" stop-color="#fefefe"/><stop offset=".900" stop-color="#f9f9f9"/><stop offset=".919" stop-color="#bdbdbd"/><stop offset=".938" stop-color="#9b9b9b"/><stop offset=".964" stop-color="#848484"/><stop offset="1" stop-color="#767676"/></linearGradient>
<linearGradient id="l30" x2="0" y2="1"><stop offset="0" stop-color="#767676"/><stop offset=".042" stop-color="#858585"/><stop offset=".072" stop-color="#9e9e9e"/><stop offset=".089" stop-color="#bcbcbc"/><stop offset=".097" stop-color="#d3d3d3"/><stop offset=".105" stop-color="#fafafa"/><stop offset=".111" stop-color="#fefefe"/><stop offset=".114" stop-color="#fcfcfc"/><stop offset=".116" stop-color="#f2f2f2"/><stop offset=".118" stop-color="#dcdcdc"/><stop offset=".122" stop-color="#a0a0a0"/><stop offset=".123" stop-color="#878787"/><stop offset=".126" stop-color="#717171"/><stop offset=".130" stop-color="#616161"/><stop offset=".137" stop-color="#505050"/><stop offset=".145" stop-color="#454545"/><stop offset=".168" stop-color="#3a3a3a"/><stop offset=".841" stop-color="#3a3a3a"/><stop offset=".852" stop-color="#404040"/><stop offset=".859" stop-color="#4b4b4b"/><stop offset=".866" stop-color="#5b5b5b"/><stop offset=".875" stop-color="#797979"/><stop offset=".878" stop-color="#8f8f8f"/><stop offset=".888" stop-color="#efefef"/><stop offset=".890" stop-color="#fafafa"/><stop offset=".893" stop-color="#fefefe"/><stop offset=".900" stop-color="#fbfbfb"/><stop offset=".919" stop-color="#bdbdbd"/><stop offset=".938" stop-color="#9b9b9b"/><stop offset=".964" stop-color="#848484"/><stop offset="1" stop-color="#767676"/></linearGradient>
<linearGradient id="l31" x2="0" y2="1"><stop offset="0" stop-color="#767676"/><stop offset=".042" stop-color="#868686"/><stop offset=".072" stop-color="#9e9e9e"/><stop offset=".089" stop-color="#bcbcbc"/><stop offset=".097" stop-color="#d3d3d3"/><stop offset=".105" stop-color="#fafafa"/><stop offset=".111" stop-color="#fefefe"/><stop offset=".114" stop-color="#fcfcfc"/><stop offset=".116" stop-color="#f1f1f1"/><stop offset=".118" stop-color="#dadada"/><stop offset=".122" stop-color="#9d9d9d"/><stop offset=".123" stop-color="#858585"/><stop offset=".125" stop-color="#757575"/><stop offset=".129" stop-color="#646464"/><stop offset=".136" stop-color="#515151"/><stop offset=".144" stop-color="#454545"/><stop offset=".167" stop-color="#3a3a3a"/><stop offset=".841" stop-color="#3a3a3a"/><stop offset=".852" stop-color="#404040"/><stop offset=".859" stop-color="#4a4a4a"/><stop offset=".866" stop-color="#5a5a5a"/><stop offset=".875" stop-color="#787878"/><stop offset=".878" stop-color="#8d8d8d"/><stop offset=".888" stop-color="#efefef"/><stop offset=".891" stop-color="#fdfdfd"/><stop offset=".894" stop-color="#fefefe"/><stop offset=".901" stop-color="#fafafa"/><stop offset=".911" stop-color="#d4d4d4"/><stop offset=".919" stop-color="#bebebe"/><stop offset=".938" stop-color="#9b9b9b"/><stop offset=".964" stop-color="#848484"/><stop offset="1" stop-color="#767676"/></linearGradient>
<linearGradient id="l32" x2="0" y2="1"><stop offset="0" stop-color="#767676"/><stop offset=".042" stop-color="#868686"/><stop offset=".072" stop-color="#9e9e9e"/><stop offset=".089" stop-color="#bcbcbc"/><stop offset=".097" stop-color="#d4d4d4"/><stop offset=".104" stop-color="#f8f8f8"/><stop offset=".111" stop-color="#fefefe"/><stop offset=".114" stop-color="#fbfbfb"/><stop offset=".116" stop-color="#f0f0f0"/><stop offset=".118" stop-color="#d8d8d8"/><stop offset=".122" stop-color="#9b9b9b"/><stop offset=".123" stop-color="#838383"/><stop offset=".125" stop-color="#747474"/><stop offset=".129" stop-color="#636363"/><stop offset=".136" stop-color="#505050"/><stop offset=".144" stop-color="#454545"/><stop offset=".167" stop-color="#3a3a3a"/><stop offset=".842" stop-color="#3a3a3a"/><stop offset=".852" stop-color="#3f3f3f"/><stop offset=".859" stop-color="#494949"/><stop offset=".866" stop-color="#5a5a5a"/><stop offset=".876" stop-color="#7b7b7b"/><stop offset=".879" stop-color="#939393"/><stop offset=".888" stop-color="#eee"/><stop offset=".891" stop-color="#fdfdfd"/><stop offset=".894" stop-color="#fefefe"/><stop offset=".902" stop-color="#fafafa"/><stop offset=".911" stop-color="#d6d6d6"/><stop offset=".919" stop-color="#bfbfbf"/><stop offset=".938" stop-color="#9c9c9c"/><stop offset=".964" stop-color="#848484"/><stop offset="1" stop-color="#777"/></linearGradient>
<linearGradient id="l33" x2="0" y2="1"><stop offset="0" stop-color="#767676"/><stop offset=".042" stop-color="#868686"/><stop offset=".072" stop-color="#9e9e9e"/><stop offset=".089" stop-color="#bcbcbc"/><stop offset=".097" stop-color="#d4d4d4"/><stop offset=".104" stop-color="#f8f8f8"/><stop offset=".111" stop-color="#fefefe"/><stop offset=".114" stop-color="#fbfbfb"/><stop offset=".116" stop-color="#efefef"/><stop offset=".118" stop-color="#d6d6d6"/><stop offset=".122" stop-color="#989898"/><stop offset=".123" stop-color="#818181"/><stop offset=".125" stop-color="#737373"/><stop offset=".129" stop-color="#626262"/><stop offset=".136" stop-color="#505050"/><stop offset=".144" stop-color="#444"/><stop offset=".167" stop-color="#3a3a3a"/><stop offset=".842" stop-color="#3a3a3a"/><stop offset=".853" stop-color="#404040"/><stop offset=".860" stop-color="#4b4b4b"/><stop offset=".867" stop-color="#5c5c5c"/><stop offset=".876" stop-color="#797979"/><stop offset=".879" stop-color="#919191"/><stop offset=".887" stop-color="#e5e5e5"/><stop offset=".889" stop-color="#f5f5f5"/><stop offset=".891" stop-color="#fcfcfc"/><stop offset=".894" stop-color="#fefefe"/><stop offset=".902" stop-color="#fbfbfb"/><stop offset=".919" stop-color="#c0c0c0"/><stop offset=".928" stop-color="#ababab"/><stop offset=".939" stop-color="#9b9b9b"/><stop offset=".964" stop-color="#848484"/><stop offset="1" stop-color="#777"/></linearGradient>
<linearGradient id="l34" x2="0" y2="1"><stop offset="0" stop-color="#767676"/><stop offset=".042" stop-color="#868686"/><stop offset=".072" stop-color="#9e9e9e"/><stop offset=".089" stop-color="#bcbcbc"/><stop offset=".097" stop-color="#d4d4d4"/><stop offset=".104" stop-color="#f9f9f9"/><stop offset=".111" stop-color="#fefefe"/><stop offset=".114" stop-color="#fbfbfb"/><stop offset=".116" stop-color="#ededed"/><stop offset=".118" stop-color="#d4d4d4"/><stop offset=".122" stop-color="#898989"/><stop offset=".125" stop-color="#717171"/><stop offset=".129" stop-color="#616161"/><stop offset=".135" stop-color="#515151"/><stop offset=".143" stop-color="#454545"/><stop offset=".166" stop-color="#3a3a3a"/><stop offset=".842" stop-color="#3a3a3a"/><stop offset=".853" stop-color="#404040"/><stop offset=".860" stop-color="#4a4a4a"/><stop offset=".867" stop-color="#5b5b5b"/><stop offset=".876" stop-color="#787878"/><stop offset=".879" stop-color="#8f8f8f"/><stop offset=".887" stop-color="#e4e4e4"/><stop offset=".889" stop-color="#f4f4f4"/><stop offset=".891" stop-color="#fcfcfc"/><stop offset=".894" stop-color="#fefefe"/><stop offset=".902" stop-color="#fafafa"/><stop offset=".912" stop-color="#d5d5d5"/><stop offset=".919" stop-color="#c0c0c0"/><stop offset=".928" stop-color="#ababab"/><stop offset=".939" stop-color="#9b9b9b"/><stop offset=".964" stop-color="#858585"/><stop offset="1" stop-color="#777"/></linearGradient>
<linearGradient id="l35" x2="0" y2="1"><stop offset="0" stop-color="#767676"/><stop offset=".042" stop-color="#868686"/><stop offset=".072" stop-color="#9e9e9e"/><stop offset=".089" stop-color="#bcbcbc"/><stop offset=".097" stop-color="#d5d5d5"/><stop offset=".104" stop-color="#f9f9f9"/><stop offset=".110" stop-color="#fefefe"/><stop offset=".113" stop-color="#fdfdfd"/><stop offset=".115" stop-color="#f5f5f5"/><stop offset=".117" stop-color="#e0e0e0"/><stop offset=".121" stop-color="#a1a1a1"/><stop offset=".122" stop-color="#878787"/><stop offset=".125" stop-color="#707070"/><stop offset=".129" stop-color="#606060"/><stop offset=".135" stop-color="#505050"/><stop offset=".143" stop-color="#454545"/><stop offset=".166" stop-color="#3a3a3a"/><stop offset=".842" stop-color="#3a3a3a"/><stop offset=".853" stop-color="#3f3f3f"/><stop offset=".860" stop-color="#4a4a4a"/><stop offset=".867" stop-color="#5a5a5a"/><stop offset=".876" stop-color="#787878"/><stop offset=".879" stop-color="#8d8d8d"/><stop offset=".887" stop-color="#e4e4e4"/><stop offset=".889" stop-color="#f4f4f4"/><stop offset=".891" stop-color="#fcfcfc"/><stop offset=".894" stop-color="#fefefe"/><stop offset=".902" stop-color="#fbfbfb"/><stop offset=".912" stop-color="#d6d6d6"/><stop offset=".920" stop-color="#bfbfbf"/><stop offset=".939" stop-color="#9b9b9b"/><stop offset=".964" stop-color="#858585"/><stop offset="1" stop-color="#777"/></linearGradient>
<linearGradient id="l36" x2="0" y2="1"><stop offset="0" stop-color="#767676"/><stop offset=".042" stop-color="#868686"/><stop offset=".072" stop-color="#9e9e9e"/><stop offset=".089" stop-color="#bcbcbc"/><stop offset=".097" stop-color="#d5d5d5"/><stop offset=".104" stop-color="#f9f9f9"/><stop offset=".110" stop-color="#fefefe"/><stop offset=".113" stop-color="#fdfdfd"/><stop offset=".115" stop-color="#f4f4f4"/><stop offset=".117" stop-color="#dfdfdf"/><stop offset=".121" stop-color="#9f9f9f"/><stop offset=".122" stop-color="#858585"/><stop offset=".124" stop-color="#757575"/><stop offset=".128" stop-color="#636363"/><stop offset=".134" stop-color="#525252"/><stop offset=".142" stop-color="#454545"/><stop offset=".165" stop-color="#3a3a3a"/><stop offset=".843" stop-color="#3a3a3a"/><stop offset=".854" stop-color="#404040"/><stop offset=".861" stop-color="#4b4b4b"/><stop offset=".868" stop-color="#5c5c5c"/><stop offset=".877" stop-color="#7a7a7a"/><stop offset=".878" stop-color="#848484"/><stop offset=".880" stop-color="#949494"/><stop offset=".887" stop-color="#e3e3e3"/><stop offset=".889" stop-color="#f4f4f4"/><stop offset=".891" stop-color="#fcfcfc"/><stop offset=".894" stop-color="#fefefe"/><stop offset=".902" stop-color="#fbfbfb"/><stop offset=".913" stop-color="#d4d4d4"/><stop offset=".920" stop-color="#bfbfbf"/><stop offset=".929" stop-color="#aaa"/><stop offset=".940" stop-color="#9a9a9a"/><stop offset=".965" stop-color="#848484"/><stop offset="1" stop-color="#777"/></linearGradient>
<linearGradient id="l37" x2="0" y2="1"><stop offset="0" stop-color="#777"/><stop offset=".042" stop-color="#868686"/><stop offset=".072" stop-color="#9f9f9f"/><stop offset=".089" stop-color="#bcbcbc"/><stop offset=".096" stop-color="#d1d1d1"/><stop offset=".104" stop-color="#f9f9f9"/><stop offset=".110" stop-color="#fefefe"/><stop offset=".113" stop-color="#fdfdfd"/><stop offset=".115" stop-color="#f3f3f3"/><stop offset=".117" stop-color="#ddd"/><stop offset=".121" stop-color="#9d9d9d"/><stop offset=".122" stop-color="#848484"/><stop offset=".124" stop-color="#747474"/><stop offset=".128" stop-color="#626262"/><stop offset=".134" stop-color="#515151"/><stop offset=".142" stop-color="#454545"/><stop offset=".165" stop-color="#3a3a3a"/><stop offset=".843" stop-color="#3a3a3a"/><stop offset=".854" stop-color="#404040"/><stop offset=".861" stop-color="#4b4b4b"/><stop offset=".868" stop-color="#5c5c5c"/><stop offset=".877" stop-color="#797979"/><stop offset=".878" stop-color="#838383"/><stop offset=".880" stop-color="#929292"/><stop offset=".887" stop-color="#e2e2e2"/><stop offset=".889" stop-color="#f4f4f4"/><stop offset=".891" stop-color="#fcfcfc"/><stop offset=".894" stop-color="#fefefe"/><stop offset=".903" stop-color="#fafafa"/><stop offset=".913" stop-color="#d5d5d5"/><stop offset=".920" stop-color="#c0c0c0"/><stop offset=".929" stop-color="#ababab"/><stop offset=".940" stop-color="#9b9b9b"/><stop offset=".965" stop-color="#848484"/><stop offset="1" stop-color="#777"/></linearGradient>
<linearGradient id="l38" x2="0" y2="1"><stop offset="0" stop-color="#777"/><stop offset=".042" stop-color="#868686"/><stop offset=".072" stop-color="#9f9f9f"/><stop offset=".089" stop-color="#bdbdbd"/><stop offset=".096" stop-color="#d1d1d1"/><stop offset=".104" stop-color="#fafafa"/><stop offset=".110" stop-color="#fefefe"/><stop offset=".113" stop-color="#fcfcfc"/><stop offset=".115" stop-color="#f3f3f3"/><stop offset=".117" stop-color="#dcdcdc"/><stop offset=".121" stop-color="#9b9b9b"/><stop offset=".122" stop-color="#828282"/><stop offset=".124" stop-color="#737373"/><stop offset=".128" stop-color="#616161"/><stop offset=".134" stop-color="#515151"/><stop offset=".142" stop-color="#454545"/><stop offset=".164" stop-color="#3a3a3a"/><stop offset=".843" stop-color="#3a3a3a"/><stop offset=".854" stop-color="#404040"/><stop offset=".861" stop-color="#4a4a4a"/><stop offset=".868" stop-color="#5b5b5b"/><stop offset=".877" stop-color="#787878"/><stop offset=".880" stop-color="#909090"/><stop offset=".887" stop-color="#e2e2e2"/><stop offset=".889" stop-color="#f3f3f3"/><stop offset=".891" stop-color="#fcfcfc"/><stop offset=".894" stop-color="#fefefe"/><stop offset=".903" stop-color="#fafafa"/><stop offset=".913" stop-color="#d5d5d5"/><stop offset=".920" stop-color="#c1c1c1"/><stop offset=".929" stop-color="#acacac"/><stop offset=".940" stop-color="#9b9b9b"/><stop offset=".965" stop-color="#858585"/><stop offset="1" stop-color="#777"/></linearGradient>
<linearGradient id="l39" x2="0" y2="1"><stop offset="0" stop-color="#777"/><stop offset=".042" stop-color="#868686"/><stop offset=".072" stop-color="#9f9f9f"/><stop offset=".089" stop-color="#bdbdbd"/><stop offset=".096" stop-color="#d2d2d2"/><stop offset=".104" stop-color="#fafafa"/><stop offset=".110" stop-color="#fefefe"/><stop offset=".113" stop-color="#fcfcfc"/><stop offset=".115" stop-color="#f2f2f2"/><stop offset=".117" stop-color="#dbdbdb"/><stop offset=".121" stop-color="#999"/><stop offset=".122" stop-color="#818181"/><stop offset=".124" stop-color="#727272"/><stop offset=".128" stop-color="#616161"/><stop offset=".134" stop-color="#505050"/><stop offset=".142" stop-color="#444"/><stop offset=".164" stop-color="#3a3a3a"/><stop offset=".843" stop-color="#3a3a3a"/><stop offset=".854" stop-color="#3f3f3f"/><stop offset=".861" stop-color="#4a4a4a"/><stop offset=".868" stop-color="#5a5a5a"/><stop offset=".877" stop-color="#787878"/><stop offset=".880" stop-color="#8e8e8e"/><stop offset=".887" stop-color="#e1e1e1"/><stop offset=".889" stop-color="#f3f3f3"/><stop offset=".891" stop-color="#fcfcfc"/><stop offset=".894" stop-color="#fefefe"/><stop offset=".903" stop-color="#fbfbfb"/><stop offset=".914" stop-color="#d3d3d3"/><stop offset=".921" stop-color="#bfbfbf"/><stop offset=".930" stop-color="#aaa"/><stop offset=".941" stop-color="#9a9a9a"/><stop offset=".966" stop-color="#848484"/><stop offset="1" stop-color="#777"/></linearGradient>
<linearGradient id="l40" x2="0" y2="1"><stop offset="0" stop-color="#777"/><stop offset=".042" stop-color="#868686"/><stop offset=".072" stop-color="#9f9f9f"/><stop offset=".089" stop-color="#bdbdbd"/><stop offset=".096" stop-color="#d2d2d2"/><stop offset=".104" stop-color="#fafafa"/><stop offset=".110" stop-color="#fefefe"/><stop offset=".113" stop-color="#fcfcfc"/><stop offset=".115" stop-color="#f2f2f2"/><stop offset=".117" stop-color="#dadada"/><stop offset=".121" stop-color="#989898"/><stop offset=".122" stop-color="#808080"/><stop offset=".124" stop-color="#717171"/><stop offset=".128" stop-color="#606060"/><stop offset=".134" stop-color="#505050"/><stop offset=".142" stop-color="#444"/><stop offset=".164" stop-color="#3a3a3a"/><stop offset=".844" stop-color="#3a3a3a"/><stop offset=".854" stop-color="#404040"/><stop offset=".862" stop-color="#4b4b4b"/><stop offset=".869" stop-color="#5c5c5c"/><stop offset=".878" stop-color="#7b7b7b"/><stop offset=".879" stop-color="#858585"/><stop offset=".881" stop-color="#969696"/><stop offset=".887" stop-color="#e0e0e0"/><stop offset=".889" stop-color="#f3f3f3"/><stop offset=".891" stop-color="#fcfcfc"/><stop offset=".894" stop-color="#fefefe"/><stop offset=".903" stop-color="#fbfbfb"/><stop offset=".921" stop-color="#c0c0c0"/><stop offset=".930" stop-color="#ababab"/><stop offset=".941" stop-color="#9b9b9b"/><stop offset=".966" stop-color="#848484"/><stop offset="1" stop-color="#777"/></linearGradient>
<linearGradient id="l41" x2="0" y2="1"><stop offset="0" stop-color="#777"/><stop offset=".042" stop-color="#868686"/><stop offset=".072" stop-color="#9f9f9f"/><stop offset=".089" stop-color="#bdbdbd"/><stop offset=".096" stop-color="#d2d2d2"/><stop offset=".104" stop-color="#fafafa"/><stop offset=".110" stop-color="#fefefe"/><stop offset=".113" stop-color="#fcfcfc"/><stop offset=".115" stop-color="#f1f1f1"/><stop offset=".117" stop-color="#d9d9d9"/><stop offset=".121" stop-color="#979797"/><stop offset=".122" stop-color="#7f7f7f"/><stop offset=".124" stop-color="#717171"/><stop offset=".128" stop-color="#606060"/><stop offset=".134" stop-color="#505050"/><stop offset=".142" stop-color="#444"/><stop offset=".164" stop-color="#3a3a3a"/><stop offset=".844" stop-color="#3a3a3a"/><stop offset=".854" stop-color="#404040"/><stop offset=".862" stop-color="#4b4b4b"/><stop offset=".869" stop-color="#5c5c5c"/><stop offset=".878" stop-color="#7a7a7a"/><stop offset=".879" stop-color="#848484"/><stop offset=".881" stop-color="#949494"/><stop offset=".887" stop-color="#dfdfdf"/><stop offset=".889" stop-color="#f3f3f3"/><stop offset=".891" stop-color="#fcfcfc"/><stop offset=".894" stop-color="#fefefe"/><stop offset=".904" stop-color="#fafafa"/><stop offset=".914" stop-color="#d5d5d5"/><stop offset=".921" stop-color="#c1c1c1"/><stop offset=".930" stop-color="#ababab"/><stop offset=".941" stop-color="#9b9b9b"/><stop offset=".966" stop-color="#848484"/><stop offset="1" stop-color="#777"/></linearGradient>
<linearGradient id="l42" x2="0" y2="1"><stop offset="0" stop-color="#777"/><stop offset=".042" stop-color="#868686"/><stop offset=".072" stop-color="#9f9f9f"/><stop offset=".089" stop-color="#bdbdbd"/><stop offset=".096" stop-color="#d2d2d2"/><stop offset=".104" stop-color="#fafafa"/><stop offset=".110" stop-color="#fefefe"/><stop offset=".113" stop-color="#fcfcfc"/><stop offset=".115" stop-color="#f1f1f1"/><stop offset=".117" stop-color="#d8d8d8"/><stop offset=".122" stop-color="#898989"/><stop offset=".123" stop-color="#767676"/><stop offset=".127" stop-color="#636363"/><stop offset=".133" stop-color="#525252"/><stop offset=".141" stop-color="#454545"/><stop offset=".163" stop-color="#3a3a3a"/><stop offset=".844" stop-color="#3a3a3a"/><stop offset=".854" stop-color="#404040"/><stop offset=".862" stop-color="#4a4a4a"/><stop offset=".869" stop-color="#5b5b5b"/><stop offset=".878" stop-color="#797979"/><stop offset=".879" stop-color="#828282"/><stop offset=".881" stop-color="#939393"/><stop offset=".887" stop-color="#dfdfdf"/><stop offset=".889" stop-color="#f2f2f2"/><stop offset=".891" stop-color="#fcfcfc"/><stop offset=".894" stop-color="#fefefe"/><stop offset=".904" stop-color="#fafafa"/><stop offset=".914" stop-color="#d6d6d6"/><stop offset=".922" stop-color="#bfbfbf"/><stop offset=".931" stop-color="#aaa"/><stop offset=".942" stop-color="#9a9a9a"/><stop offset=".966" stop-color="#858585"/><stop offset="1" stop-color="#777"/></linearGradient>
<linearGradient id="l43" x2="0" y2="1"><stop offset="0" stop-color="#777"/><stop offset=".042" stop-color="#868686"/><stop offset=".072" stop-color="#9f9f9f"/><stop offset=".089" stop-color="#bdbdbd"/><stop offset=".096" stop-color="#d2d2d2"/><stop offset=".104" stop-color="#fafafa"/><stop offset=".110" stop-color="#fefefe"/><stop offset=".113" stop-color="#fcfcfc"/><stop offset=".115" stop-color="#f1f1f1"/><stop offset=".117" stop-color="#d8d8d8"/><stop offset=".120" stop-color="#a5a5a5"/><stop offset=".122" stop-color="#888"/><stop offset=".123" stop-color="#767676"/><stop offset=".127" stop-color="#636363"/><stop offset=".133" stop-color="#515151"/><stop offset=".141" stop-color="#454545"/><stop offset=".163" stop-color="#3a3a3a"/><stop offset=".844" stop-color="#3a3a3a"/><stop offset=".854" stop-color="#3f3f3f"/><stop offset=".862" stop-color="#4a4a4a"/><stop offset=".869" stop-color="#5a5a5a"/><stop offset=".878" stop-color="#787878"/><stop offset=".879" stop-color="#818181"/><stop offset=".881" stop-color="#919191"/><stop offset=".887" stop-color="#dedede"/><stop offset=".889" stop-color="#f2f2f2"/><stop offset=".891" stop-color="#fcfcfc"/><stop offset=".894" stop-color="#fefefe"/><stop offset=".904" stop-color="#fbfbfb"/><stop offset=".915" stop-color="#d3d3d3"/><stop offset=".922" stop-color="#bfbfbf"/><stop offset=".931" stop-color="#aaa"/><stop offset=".942" stop-color="#9a9a9a"/><stop offset=".966" stop-color="#858585"/><stop offset="1" stop-color="#777"/></linearGradient>
<linearGradient id="l44" x2="0" y2="1"><stop offset="0" stop-color="#777"/><stop offset=".042" stop-color="#868686"/><stop offset=".072" stop-color="#9f9f9f"/><stop offset=".089" stop-color="#bdbdbd"/><stop offset=".096" stop-color="#d2d2d2"/><stop offset=".104" stop-color="#fafafa"/><stop offset=".110" stop-color="#fefefe"/><stop offset=".113" stop-color="#fcfcfc"/><stop offset=".115" stop-color="#f1f1f1"/><stop offset=".117" stop-color="#d8d8d8"/><stop offset=".120" stop-color="#a5a5a5"/><stop offset=".122" stop-color="#888"/><stop offset=".123" stop-color="#767676"/><stop offset=".127" stop-color="#636363"/><stop offset=".133" stop-color="#515151"/><stop offset=".141" stop-color="#454545"/><stop offset=".163" stop-color="#3a3a3a"/><stop offset=".844" stop-color="#3a3a3a"/><stop offset=".854" stop-color="#3f3f3f"/><stop offset=".862" stop-color="#4a4a4a"/><stop offset=".869" stop-color="#5a5a5a"/><stop offset=".878" stop-color="#787878"/><stop offset=".879" stop-color="#808080"/><stop offset=".881" stop-color="#909090"/><stop offset=".887" stop-color="#ddd"/><stop offset=".889" stop-color="#f2f2f2"/><stop offset=".891" stop-color="#fcfcfc"/><stop offset=".894" stop-color="#fefefe"/><stop offset=".904" stop-color="#fbfbfb"/><stop offset=".915" stop-color="#d4d4d4"/><stop offset=".922" stop-color="#c0c0c0"/><stop offset=".931" stop-color="#ababab"/><stop offset=".942" stop-color="#9a9a9a"/><stop offset=".966" stop-color="#858585"/><stop offset="1" stop-color="#777"/></linearGradient>
<linearGradient id="l45" x2="0" y2="1"><stop offset="0" stop-color="#777"/><stop offset=".042" stop-color="#868686"/><stop offset=".072" stop-color="#9f9f9f"/><stop offset=".089" stop-color="#bdbdbd"/><stop offset=".096" stop-color="#d2d2d2"/><stop offset=".104" stop-color="#fafafa"/><stop offset=".110" stop-color="#fefefe"/><stop offset=".113" stop-color="#fcfcfc"/><stop offset=".115" stop-color="#f1f1f1"/><stop offset=".117" stop-color="#d8d8d8"/><stop offset=".120" stop-color="#a5a5a5"/><stop offset=".122" stop-color="#898989"/><stop offset=".123" stop-color="#767676"/><stop offset=".127" stop-color="#636363"/><stop offset=".133" stop-color="#515151"/><stop offset=".141" stop-color="#454545"/><stop offset=".163" stop-color="#3a3a3a"/><stop offset=".845" stop-color="#3a3a3a"/><stop offset=".854" stop-color="#3f3f3f"/><stop offset=".862" stop-color="#494949"/><stop offset=".869" stop-color="#5a5a5a"/><stop offset=".878" stop-color="#777"/><stop offset=".879" stop-color="#808080"/><stop offset=".881" stop-color="#8f8f8f"/><stop offset=".887" stop-color="#ddd"/><stop offset=".889" stop-color="#f2f2f2"/><stop offset=".891" stop-color="#fcfcfc"/><stop offset=".894" stop-color="#fefefe"/><stop offset=".904" stop-color="#fbfbfb"/><stop offset=".922" stop-color="#c0c0c0"/><stop offset=".931" stop-color="#ababab"/><stop offset=".942" stop-color="#9b9b9b"/><stop offset=".966" stop-color="#858585"/><stop offset="1" stop-color="#777"/></linearGradient>
<linearGradient id="l46" x2="0" y2="1"><stop offset="0" stop-color="#777"/><stop offset=".042" stop-color="#868686"/><stop offset=".072" stop-color="#9f9f9f"/><stop offset=".089" stop-color="#bdbdbd"/><stop offset=".096" stop-color="#d2d2d2"/><stop offset=".104" stop-color="#fafafa"/><stop offset=".110" stop-color="#fefefe"/><stop offset=".113" stop-color="#fcfcfc"/><stop offset=".115" stop-color="#f1f1f1"/><stop offset=".117" stop-color="#d9d9d9"/><stop offset=".122" stop-color="#8a8a8a"/><stop offset=".123" stop-color="#777"/><stop offset=".127" stop-color="#636363"/><stop offset=".133" stop-color="#525252"/><stop offset=".141" stop-color="#454545"/><stop offset=".163" stop-color="#3a3a3a"/><stop offset=".845" stop-color="#3a3a3a"/><stop offset=".854" stop-color="#3f3f3f"/><stop offset=".862" stop-color="#494949"/><stop offset=".869" stop-color="#595959"/><stop offset=".878" stop-color="#777"/><stop offset=".879" stop-color="#808080"/><stop offset=".881" stop-color="#8e8e8e"/><stop offset=".887" stop-color="#ddd"/><stop offset=".889" stop-color="#f2f2f2"/><stop offset=".891" stop-color="#fcfcfc"/><stop offset=".894" stop-color="#fefefe"/><stop offset=".904" stop-color="#fbfbfb"/><stop offset=".922" stop-color="#c0c0c0"/><stop offset=".931" stop-color="#ababab"/><stop offset=".942" stop-color="#9b9b9b"/><stop offset=".966" stop-color="#858585"/><stop offset="1" stop-color="#777"/></linearGradient>
<linearGradient id="l47" x2="0" y2="1"><stop offset="0" stop-color="#777"/><stop offset=".043" stop-color="#868686"/><stop offset=".073" stop-color="#a0a0a0"/><stop offset=".089" stop-color="#bcbcbc"/><stop offset=".097" stop-color="#d5d5d5"/><stop offset=".104" stop-color="#f9f9f9"/><stop offset=".110" stop-color="#fefefe"/><stop offset=".113" stop-color="#fcfcfc"/><stop offset=".115" stop-color="#f2f2f2"/><stop offset=".117" stop-color="#dbdbdb"/><stop offset=".121" stop-color="#999"/><stop offset=".122" stop-color="#808080"/><stop offset=".124" stop-color="#727272"/><stop offset=".128" stop-color="#606060"/><stop offset=".134" stop-color="#505050"/><stop offset=".142" stop-color="#444"/><stop offset=".164" stop-color="#3a3a3a"/><stop offset=".845" stop-color="#3a3a3a"/><stop offset=".855" stop-color="#404040"/><stop offset=".863" stop-color="#4b4b4b"/><stop offset=".870" stop-color="#5c5c5c"/><stop offset=".878" stop-color="#7a7a7a"/><stop offset=".880" stop-color="#858585"/><stop offset=".882" stop-color="#989898"/><stop offset=".887" stop-color="#dcdcdc"/><stop offset=".889" stop-color="#f1f1f1"/><stop offset=".891" stop-color="#fcfcfc"/><stop offset=".894" stop-color="#fefefe"/><stop offset=".904" stop-color="#fbfbfb"/><stop offset=".922" stop-color="#c0c0c0"/><stop offset=".931" stop-color="#ababab"/><stop offset=".942" stop-color="#9b9b9b"/><stop offset=".966" stop-color="#858585"/><stop offset="1" stop-color="#777"/></linearGradient>
<linearGradient id="l48" x2="0" y2="1"><stop offset="0" stop-color="#777"/><stop offset=".043" stop-color="#868686"/><stop offset=".073" stop-color="#9f9f9f"/><stop offset=".090" stop-color="#bebebe"/><stop offset=".097" stop-color="#d4d4d4"/><stop offset=".104" stop-color="#f9f9f9"/><stop offset=".110" stop-color="#fefefe"/><stop offset=".113" stop-color="#fdfdfd"/><stop offset=".115" stop-color="#f4f4f4"/><stop offset=".117" stop-color="#ddd"/><stop offset=".121" stop-color="#9c9c9c"/><stop offset=".122" stop-color="#838383"/><stop offset=".124" stop-color="#737373"/><stop offset=".128" stop-color="#616161"/><stop offset=".134" stop-color="#515151"/><stop offset=".142" stop-color="#454545"/><stop offset=".164" stop-color="#3a3a3a"/><stop offset=".845" stop-color="#3a3a3a"/><stop offset=".855" stop-color="#404040"/><stop offset=".863" stop-color="#4b4b4b"/><stop offset=".870" stop-color="#5c5c5c"/><stop offset=".878" stop-color="#7a7a7a"/><stop offset=".880" stop-color="#858585"/><stop offset=".882" stop-color="#979797"/><stop offset=".887" stop-color="#dbdbdb"/><stop offset=".889" stop-color="#f0f0f0"/><stop offset=".891" stop-color="#fbfbfb"/><stop offset=".894" stop-color="#fefefe"/><stop offset=".904" stop-color="#fbfbfb"/><stop offset=".922" stop-color="#c0c0c0"/><stop offset=".931" stop-color="#ababab"/><stop offset=".942" stop-color="#9b9b9b"/><stop offset=".966" stop-color="#858585"/><stop offset="1" stop-color="#777"/></linearGradient>
<linearGradient id="l49" x2="0" y2="1"><stop offset="0" stop-color="#767676"/><stop offset=".043" stop-color="#868686"/><stop offset=".073" stop-color="#9f9f9f"/><stop offset=".089" stop-color="#bbb"/><stop offset=".097" stop-color="#d3d3d3"/><stop offset=".105" stop-color="#fafafa"/><stop offset=".111" stop-color="#fefefe"/><stop offset=".113" stop-color="#fdfdfd"/><stop offset=".115" stop-color="#f5f5f5"/><stop offset=".117" stop-color="#e0e0e0"/><stop offset=".121" stop-color="#9f9f9f"/><stop offset=".122" stop-color="#858585"/><stop offset=".124" stop-color="#747474"/><stop offset=".128" stop-color="#626262"/><stop offset=".134" stop-color="#525252"/><stop offset=".142" stop-color="#454545"/><stop offset=".165" stop-color="#3a3a3a"/><stop offset=".845" stop-color="#3a3a3a"/><stop offset=".855" stop-color="#404040"/><stop offset=".863" stop-color="#4b4b4b"/><stop offset=".870" stop-color="#5b5b5b"/><stop offset=".878" stop-color="#797979"/><stop offset=".880" stop-color="#848484"/><stop offset=".882" stop-color="#969696"/><stop offset=".887" stop-color="#d9d9d9"/><stop offset=".889" stop-color="#efefef"/><stop offset=".891" stop-color="#fbfbfb"/><stop offset=".894" stop-color="#fefefe"/><stop offset=".905" stop-color="#fafafa"/><stop offset=".915" stop-color="#d5d5d5"/><stop offset=".922" stop-color="#c0c0c0"/><stop offset=".931" stop-color="#ababab"/><stop offset=".942" stop-color="#9b9b9b"/><stop offset=".966" stop-color="#858585"/><stop offset="1" stop-color="#777"/></linearGradient>
<linearGradient id="l50" x2="0" y2="1"><stop offset="0" stop-color="#767676"/><stop offset=".043" stop-color="#868686"/><stop offset=".073" stop-color="#9f9f9f"/><stop offset=".090" stop-color="#bdbdbd"/><stop offset=".097" stop-color="#d2d2d2"/><stop offset=".105" stop-color="#fafafa"/><stop offset=".111" stop-color="#fefefe"/><stop offset=".114" stop-color="#fbfbfb"/><stop offset=".116" stop-color="#eee"/><stop offset=".118" stop-color="#d5d5d5"/><stop offset=".121" stop-color="#a3a3a3"/><stop offset=".122" stop-color="#888"/><stop offset=".125" stop-color="#707070"/><stop offset=".129" stop-color="#606060"/><stop offset=".135" stop-color="#505050"/><stop offset=".143" stop-color="#454545"/><stop offset=".166" stop-color="#3a3a3a"/><stop offset=".845" stop-color="#3a3a3a"/><stop offset=".855" stop-color="#404040"/><stop offset=".863" stop-color="#4a4a4a"/><stop offset=".870" stop-color="#5b5b5b"/><stop offset=".878" stop-color="#797979"/><stop offset=".880" stop-color="#828282"/><stop offset=".882" stop-color="#939393"/><stop offset=".889" stop-color="#eee"/><stop offset=".891" stop-color="#fbfbfb"/><stop offset=".894" stop-color="#fefefe"/><stop offset=".905" stop-color="#fafafa"/><stop offset=".915" stop-color="#d5d5d5"/><stop offset=".923" stop-color="#bebebe"/><stop offset=".932" stop-color="#aaa"/><stop offset=".943" stop-color="#9a9a9a"/><stop offset=".967" stop-color="#848484"/><stop offset="1" stop-color="#777"/></linearGradient>
<linearGradient id="l51" x2="0" y2="1"><stop offset="0" stop-color="#767676"/><stop offset=".043" stop-color="#868686"/><stop offset=".073" stop-color="#9f9f9f"/><stop offset=".090" stop-color="#bcbcbc"/><stop offset=".098" stop-color="#d4d4d4"/><stop offset=".105" stop-color="#f9f9f9"/><stop offset=".111" stop-color="#fefefe"/><stop offset=".114" stop-color="#fcfcfc"/><stop offset=".116" stop-color="#f1f1f1"/><stop offset=".118" stop-color="#d8d8d8"/><stop offset=".122" stop-color="#989898"/><stop offset=".123" stop-color="#808080"/><stop offset=".125" stop-color="#727272"/><stop offset=".129" stop-color="#616161"/><stop offset=".135" stop-color="#515151"/><stop offset=".143" stop-color="#454545"/><stop offset=".166" stop-color="#3a3a3a"/><stop offset=".845" stop-color="#3a3a3a"/><stop offset=".855" stop-color="#3f3f3f"/><stop offset=".863" stop-color="#4a4a4a"/><stop offset=".870" stop-color="#5a5a5a"/><stop offset=".878" stop-color="#787878"/><stop offset=".880" stop-color="#818181"/><stop offset=".882" stop-color="#929292"/><stop offset=".889" stop-color="#ededed"/><stop offset=".891" stop-color="#fafafa"/><stop offset=".894" stop-color="#fefefe"/><stop offset=".905" stop-color="#fafafa"/><stop offset=".915" stop-color="#d6d6d6"/><stop offset=".923" stop-color="#bfbfbf"/><stop offset=".932" stop-color="#aaa"/><stop offset=".943" stop-color="#9a9a9a"/><stop offset=".967" stop-color="#858585"/><stop offset="1" stop-color="#777"/></linearGradient>
<linearGradient id="l52" x2="0" y2="1"><stop offset="0" stop-color="#767676"/><stop offset=".044" stop-color="#868686"/><stop offset=".073" stop-color="#9f9f9f"/><stop offset=".091" stop-color="#bebebe"/><stop offset=".098" stop-color="#d3d3d3"/><stop offset=".106" stop-color="#fafafa"/><stop offset=".111" stop-color="#fefefe"/><stop offset=".114" stop-color="#fcfcfc"/><stop offset=".116" stop-color="#f3f3f3"/><stop offset=".118" stop-color="#dcdcdc"/><stop offset=".122" stop-color="#9c9c9c"/><stop offset=".123" stop-color="#838383"/><stop offset=".125" stop-color="#747474"/><stop offset=".129" stop-color="#636363"/><stop offset=".136" stop-color="#505050"/><stop offset=".144" stop-color="#454545"/><stop offset=".167" stop-color="#3a3a3a"/><stop offset=".846" stop-color="#3a3a3a"/><stop offset=".856" stop-color="#404040"/><stop offset=".864" stop-color="#4b4b4b"/><stop offset=".871" stop-color="#5d5d5d"/><stop offset=".879" stop-color="#7b7b7b"/><stop offset=".881" stop-color="#878787"/><stop offset=".883" stop-color="#9b9b9b"/><stop offset=".889" stop-color="#ebebeb"/><stop offset=".891" stop-color="#f9f9f9"/><stop offset=".894" stop-color="#fefefe"/><stop offset=".905" stop-color="#fbfbfb"/><stop offset=".916" stop-color="#d3d3d3"/><stop offset=".923" stop-color="#bfbfbf"/><stop offset=".932" stop-color="#aaa"/><stop offset=".943" stop-color="#9a9a9a"/><stop offset=".967" stop-color="#858585"/><stop offset="1" stop-color="#777"/></linearGradient>
<linearGradient id="l53" x2="0" y2="1"><stop offset="0" stop-color="#767676"/><stop offset=".044" stop-color="#868686"/><stop offset=".073" stop-color="#9f9f9f"/><stop offset=".091" stop-color="#bdbdbd"/><stop offset=".098" stop-color="#d5d5d5"/><stop offset=".106" stop-color="#f9f9f9"/><stop offset=".111" stop-color="#fefefe"/><stop offset=".114" stop-color="#fdfdfd"/><stop offset=".116" stop-color="#f4f4f4"/><stop offset=".118" stop-color="#dfdfdf"/><stop offset=".122" stop-color="#a0a0a0"/><stop offset=".123" stop-color="#868686"/><stop offset=".126" stop-color="#707070"/><stop offset=".130" stop-color="#616161"/><stop offset=".137" stop-color="#4f4f4f"/><stop offset=".145" stop-color="#444"/><stop offset=".168" stop-color="#3a3a3a"/><stop offset=".846" stop-color="#3a3a3a"/><stop offset=".856" stop-color="#404040"/><stop offset=".864" stop-color="#4b4b4b"/><stop offset=".871" stop-color="#5c5c5c"/><stop offset=".879" stop-color="#7a7a7a"/><stop offset=".881" stop-color="#858585"/><stop offset=".883" stop-color="#989898"/><stop offset=".888" stop-color="#ddd"/><stop offset=".890" stop-color="#f2f2f2"/><stop offset=".892" stop-color="#fcfcfc"/><stop offset=".895" stop-color="#fefefe"/><stop offset=".905" stop-color="#fbfbfb"/><stop offset=".916" stop-color="#d4d4d4"/><stop offset=".923" stop-color="#c0c0c0"/><stop offset=".932" stop-color="#ababab"/><stop offset=".943" stop-color="#9b9b9b"/><stop offset=".967" stop-color="#858585"/><stop offset="1" stop-color="#777"/></linearGradient>
<linearGradient id="l54" x2="0" y2="1"><stop offset="0" stop-color="#767676"/><stop offset=".044" stop-color="#868686"/><stop offset=".073" stop-color="#9f9f9f"/><stop offset=".091" stop-color="#bcbcbc"/><stop offset=".098" stop-color="#d4d4d4"/><stop offset=".106" stop-color="#f8f8f8"/><stop offset=".112" stop-color="#fefefe"/><stop offset=".115" stop-color="#fbfbfb"/><stop offset=".117" stop-color="#eee"/><stop offset=".119" stop-color="#d4d4d4"/><stop offset=".123" stop-color="#8a8a8a"/><stop offset=".126" stop-color="#727272"/><stop offset=".130" stop-color="#626262"/><stop offset=".137" stop-color="#505050"/><stop offset=".145" stop-color="#454545"/><stop offset=".169" stop-color="#3a3a3a"/><stop offset=".846" stop-color="#3a3a3a"/><stop offset=".856" stop-color="#404040"/><stop offset=".864" stop-color="#4a4a4a"/><stop offset=".871" stop-color="#5b5b5b"/><stop offset=".879" stop-color="#797979"/><stop offset=".881" stop-color="#838383"/><stop offset=".883" stop-color="#959595"/><stop offset=".888" stop-color="#dadada"/><stop offset=".890" stop-color="#f0f0f0"/><stop offset=".892" stop-color="#fbfbfb"/><stop offset=".895" stop-color="#fefefe"/><stop offset=".905" stop-color="#fbfbfb"/><stop offset=".923" stop-color="#c0c0c0"/><stop offset=".932" stop-color="#ababab"/><stop offset=".943" stop-color="#9b9b9b"/><stop offset=".967" stop-color="#858585"/><stop offset="1" stop-color="#777"/></linearGradient>
<linearGradient id="l55" x2="0" y2="1"><stop offset="0" stop-color="#767676"/><stop offset=".044" stop-color="#868686"/><stop offset=".073" stop-color="#9f9f9f"/><stop offset=".092" stop-color="#bebebe"/><stop offset=".098" stop-color="#d3d3d3"/><stop offset=".107" stop-color="#fafafa"/><stop offset=".112" stop-color="#fefefe"/><stop offset=".115" stop-color="#fbfbfb"/><stop offset=".117" stop-color="#f0f0f0"/><stop offset=".119" stop-color="#d8d8d8"/><stop offset=".122" stop-color="#9a9a9a"/><stop offset=".124" stop-color="#828282"/><stop offset=".126" stop-color="#747474"/><stop offset=".130" stop-color="#636363"/><stop offset=".137" stop-color="#515151"/><stop offset=".145" stop-color="#454545"/><stop offset=".169" stop-color="#3a3a3a"/><stop offset=".846" stop-color="#3a3a3a"/><stop offset=".856" stop-color="#404040"/><stop offset=".864" stop-color="#4a4a4a"/><stop offset=".871" stop-color="#5a5a5a"/><stop offset=".879" stop-color="#787878"/><stop offset=".881" stop-color="#828282"/><stop offset=".883" stop-color="#939393"/><stop offset=".890" stop-color="#eee"/><stop offset=".892" stop-color="#fbfbfb"/><stop offset=".895" stop-color="#fefefe"/><stop offset=".906" stop-color="#fafafa"/><stop offset=".916" stop-color="#d5d5d5"/><stop offset=".923" stop-color="#c1c1c1"/><stop offset=".932" stop-color="#ababab"/><stop offset=".943" stop-color="#9b9b9b"/><stop offset=".967" stop-color="#858585"/><stop offset="1" stop-color="#777"/></linearGradient>
<linearGradient id="l56" x2="0" y2="1"><stop offset="0" stop-color="#767676"/><stop offset=".044" stop-color="#868686"/><stop offset=".074" stop-color="#9f9f9f"/><stop offset=".093" stop-color="#c0c0c0"/><stop offset=".099" stop-color="#d5d5d5"/><stop offset=".107" stop-color="#f8f8f8"/><stop offset=".112" stop-color="#fefefe"/><stop offset=".115" stop-color="#fcfcfc"/><stop offset=".117" stop-color="#f2f2f2"/><stop offset=".119" stop-color="#dbdbdb"/><stop offset=".122" stop-color="#9e9e9e"/><stop offset=".124" stop-color="#858585"/><stop offset=".127" stop-color="#707070"/><stop offset=".131" stop-color="#616161"/><stop offset=".138" stop-color="#505050"/><stop offset=".146" stop-color="#454545"/><stop offset=".170" stop-color="#3a3a3a"/><stop offset=".847" stop-color="#3a3a3a"/><stop offset=".856" stop-color="#3f3f3f"/><stop offset=".864" stop-color="#4a4a4a"/><stop offset=".871" stop-color="#5a5a5a"/><stop offset=".879" stop-color="#777"/><stop offset=".881" stop-color="#808080"/><stop offset=".883" stop-color="#909090"/><stop offset=".890" stop-color="#ececec"/><stop offset=".892" stop-color="#fafafa"/><stop offset=".895" stop-color="#fefefe"/><stop offset=".906" stop-color="#fafafa"/><stop offset=".916" stop-color="#d6d6d6"/><stop offset=".924" stop-color="#bfbfbf"/><stop offset=".933" stop-color="#aaa"/><stop offset=".944" stop-color="#9a9a9a"/><stop offset=".968" stop-color="#858585"/><stop offset="1" stop-color="#777"/></linearGradient>
<linearGradient id="l57" x2="0" y2="1"><stop offset="0" stop-color="#767676"/><stop offset=".044" stop-color="#868686"/><stop offset=".073" stop-color="#9e9e9e"/><stop offset=".092" stop-color="#bdbdbd"/><stop offset=".099" stop-color="#d4d4d4"/><stop offset=".108" stop-color="#fafafa"/><stop offset=".113" stop-color="#fefefe"/><stop offset=".115" stop-color="#fcfcfc"/><stop offset=".117" stop-color="#f3f3f3"/><stop offset=".119" stop-color="#dedede"/><stop offset=".122" stop-color="#a2a2a2"/><stop offset=".124" stop-color="#888"/><stop offset=".127" stop-color="#727272"/><stop offset=".131" stop-color="#636363"/><stop offset=".138" stop-color="#515151"/><stop offset=".146" stop-color="#454545"/><stop offset=".171" stop-color="#3a3a3a"/><stop offset=".847" stop-color="#3a3a3a"/><stop offset=".857" stop-color="#404040"/><stop offset=".865" stop-color="#4b4b4b"/><stop offset=".872" stop-color="#5c5c5c"/><stop offset=".880" stop-color="#7a7a7a"/><stop offset=".882" stop-color="#868686"/><stop offset=".884" stop-color="#999"/><stop offset=".889" stop-color="#dfdfdf"/><stop offset=".891" stop-color="#f3f3f3"/><stop offset=".893" stop-color="#fcfcfc"/><stop offset=".895" stop-color="#fefefe"/><stop offset=".906" stop-color="#fbfbfb"/><stop offset=".917" stop-color="#d3d3d3"/><stop offset=".924" stop-color="#bfbfbf"/><stop offset=".933" stop-color="#aaa"/><stop offset=".944" stop-color="#9a9a9a"/><stop offset=".968" stop-color="#858585"/><stop offset="1" stop-color="#787878"/></linearGradient>
<linearGradient id="l58" x2="0" y2="1"><stop offset="0" stop-color="#767676"/><stop offset=".044" stop-color="#868686"/><stop offset=".074" stop-color="#9f9f9f"/><stop offset=".093" stop-color="#bfbfbf"/><stop offset=".100" stop-color="#d6d6d6"/><stop offset=".108" stop-color="#f8f8f8"/><stop offset=".113" stop-color="#fefefe"/><stop offset=".115" stop-color="#fdfdfd"/><stop offset=".117" stop-color="#f5f5f5"/><stop offset=".119" stop-color="#e1e1e1"/><stop offset=".123" stop-color="#999"/><stop offset=".125" stop-color="#838383"/><stop offset=".127" stop-color="#757575"/><stop offset=".131" stop-color="#646464"/><stop offset=".138" stop-color="#525252"/><stop offset=".146" stop-color="#454545"/><stop offset=".171" stop-color="#3a3a3a"/><stop offset=".847" stop-color="#3a3a3a"/><stop offset=".857" stop-color="#404040"/><stop offset=".865" stop-color="#4b4b4b"/><stop offset=".872" stop-color="#5b5b5b"/><stop offset=".880" stop-color="#7a7a7a"/><stop offset=".882" stop-color="#848484"/><stop offset=".884" stop-color="#979797"/><stop offset=".889" stop-color="#dcdcdc"/><stop offset=".891" stop-color="#f2f2f2"/><stop offset=".893" stop-color="#fcfcfc"/><stop offset=".896" stop-color="#fefefe"/><stop offset=".906" stop-color="#fbfbfb"/><stop offset=".924" stop-color="#c0c0c0"/><stop offset=".933" stop-color="#ababab"/><stop offset=".944" stop-color="#9b9b9b"/><stop offset=".968" stop-color="#858585"/><stop offset="1" stop-color="#787878"/></linearGradient>
<linearGradient id="l59" x2="0" y2="1"><stop offset="0" stop-color="#767676"/><stop offset=".044" stop-color="#868686"/><stop offset=".074" stop-color="#a0a0a0"/><stop offset=".094" stop-color="#c1c1c1"/><stop offset=".101" stop-color="#d8d8d8"/><stop offset=".109" stop-color="#f9f9f9"/><stop offset=".113" stop-color="#fefefe"/><stop offset=".116" stop-color="#fbfbfb"/><stop offset=".118" stop-color="#efefef"/><stop offset=".125" stop-color="#878787"/><stop offset=".128" stop-color="#727272"/><stop offset=".132" stop-color="#636363"/><stop offset=".139" stop-color="#525252"/><stop offset=".147" stop-color="#454545"/><stop offset=".172" stop-color="#3a3a3a"/><stop offset=".847" stop-color="#3a3a3a"/><stop offset=".857" stop-color="#404040"/><stop offset=".865" stop-color="#4a4a4a"/><stop offset=".872" stop-color="#5b5b5b"/><stop offset=".880" stop-color="#797979"/><stop offset=".882" stop-color="#838383"/><stop offset=".884" stop-color="#959595"/><stop offset=".889" stop-color="#dadada"/><stop offset=".891" stop-color="#f0f0f0"/><stop offset=".893" stop-color="#fbfbfb"/><stop offset=".896" stop-color="#fefefe"/><stop offset=".906" stop-color="#fbfbfb"/><stop offset=".924" stop-color="#c0c0c0"/><stop offset=".933" stop-color="#ababab"/><stop offset=".944" stop-color="#9b9b9b"/><stop offset=".968" stop-color="#858585"/><stop offset="1" stop-color="#787878"/></linearGradient>
<linearGradient id="l60" x2="0" y2="1"><stop offset="0" stop-color="#767676"/><stop offset=".043" stop-color="#868686"/><stop offset=".073" stop-color="#9f9f9f"/><stop offset=".094" stop-color="#c0c0c0"/><stop offset=".101" stop-color="#d6d6d6"/><stop offset=".110" stop-color="#f9f9f9"/><stop offset=".114" stop-color="#fefefe"/><stop offset=".116" stop-color="#fcfcfc"/><stop offset=".118" stop-color="#f1f1f1"/><stop offset=".120" stop-color="#dcdcdc"/><stop offset=".124" stop-color="#979797"/><stop offset=".126" stop-color="#828282"/><stop offset=".128" stop-color="#757575"/><stop offset=".132" stop-color="#656565"/><stop offset=".139" stop-color="#535353"/><stop offset=".147" stop-color="#464646"/><stop offset=".173" stop-color="#3a3a3a"/><stop offset=".847" stop-color="#3a3a3a"/><stop offset=".857" stop-color="#404040"/><stop offset=".865" stop-color="#4a4a4a"/><stop offset=".872" stop-color="#5b5b5b"/><stop offset=".880" stop-color="#787878"/><stop offset=".882" stop-color="#828282"/><stop offset=".884" stop-color="#939393"/><stop offset=".889" stop-color="#d8d8d8"/><stop offset=".891" stop-color="#efefef"/><stop offset=".893" stop-color="#fbfbfb"/><stop offset=".896" stop-color="#fefefe"/><stop offset=".907" stop-color="#fafafa"/><stop offset=".917" stop-color="#d5d5d5"/><stop offset=".924" stop-color="#c1c1c1"/><stop offset=".933" stop-color="#ababab"/><stop offset=".944" stop-color="#9b9b9b"/><stop offset=".968" stop-color="#858585"/><stop offset="1" stop-color="#787878"/></linearGradient>
<linearGradient id="l61" x2="0" y2="1"><stop offset="0" stop-color="#767676"/><stop offset=".043" stop-color="#868686"/><stop offset=".073" stop-color="#9f9f9f"/><stop offset=".095" stop-color="#c2c2c2"/><stop offset=".102" stop-color="#d8d8d8"/><stop offset=".111" stop-color="#f9f9f9"/><stop offset=".114" stop-color="#fefefe"/><stop offset=".116" stop-color="#fcfcfc"/><stop offset=".118" stop-color="#f3f3f3"/><stop offset=".120" stop-color="#dfdfdf"/><stop offset=".124" stop-color="#9c9c9c"/><stop offset=".126" stop-color="#868686"/><stop offset=".129" stop-color="#727272"/><stop offset=".133" stop-color="#636363"/><stop offset=".140" stop-color="#525252"/><stop offset=".148" stop-color="#464646"/><stop offset=".174" stop-color="#3a3a3a"/><stop offset=".847" stop-color="#3a3a3a"/><stop offset=".857" stop-color="#3f3f3f"/><stop offset=".865" stop-color="#4a4a4a"/><stop offset=".872" stop-color="#5a5a5a"/><stop offset=".880" stop-color="#787878"/><stop offset=".882" stop-color="#818181"/><stop offset=".884" stop-color="#929292"/><stop offset=".891" stop-color="#eee"/><stop offset=".893" stop-color="#fafafa"/><stop offset=".896" stop-color="#fefefe"/><stop offset=".907" stop-color="#fafafa"/><stop offset=".917" stop-color="#d5d5d5"/><stop offset=".924" stop-color="#c1c1c1"/><stop offset=".933" stop-color="#acacac"/><stop offset=".944" stop-color="#9b9b9b"/><stop offset=".968" stop-color="#858585"/><stop offset="1" stop-color="#787878"/></linearGradient>
<linearGradient id="l62" x2="0" y2="1"><stop offset="0" stop-color="#767676"/><stop offset=".043" stop-color="#868686"/><stop offset=".073" stop-color="#9f9f9f"/><stop offset=".095" stop-color="#c2c2c2"/><stop offset=".115" stop-color="#fdfdfd"/><stop offset=".117" stop-color="#fafafa"/><stop offset=".119" stop-color="#ededed"/><stop offset=".126" stop-color="#8a8a8a"/><stop offset=".128" stop-color="#7a7a7a"/><stop offset=".132" stop-color="#696969"/><stop offset=".139" stop-color="#565656"/><stop offset=".146" stop-color="#494949"/><stop offset=".168" stop-color="#3c3c3c"/><stop offset=".225" stop-color="#383838"/><stop offset=".843" stop-color="#393939"/><stop offset=".855" stop-color="#3e3e3e"/><stop offset=".864" stop-color="#484848"/><stop offset=".872" stop-color="#5a5a5a"/><stop offset=".880" stop-color="#787878"/><stop offset=".882" stop-color="#818181"/><stop offset=".884" stop-color="#919191"/><stop offset=".890" stop-color="#e2e2e2"/><stop offset=".892" stop-color="#f5f5f5"/><stop offset=".894" stop-color="#fdfdfd"/><stop offset=".897" stop-color="#fefefe"/><stop offset=".907" stop-color="#fafafa"/><stop offset=".917" stop-color="#d5d5d5"/><stop offset=".924" stop-color="#c1c1c1"/><stop offset=".933" stop-color="#acacac"/><stop offset=".944" stop-color="#9b9b9b"/><stop offset=".968" stop-color="#858585"/><stop offset="1" stop-color="#787878"/></linearGradient>
<linearGradient id="l63" x2="0" y2="1"><stop offset="0" stop-color="#767676"/><stop offset=".043" stop-color="#868686"/><stop offset=".073" stop-color="#9e9e9e"/><stop offset=".094" stop-color="#c0c0c0"/><stop offset=".116" stop-color="#fbfbfb"/><stop offset=".118" stop-color="#f5f5f5"/><stop offset=".120" stop-color="#e5e5e5"/><stop offset=".125" stop-color="#999"/><stop offset=".127" stop-color="#858585"/><stop offset=".129" stop-color="#777"/><stop offset=".132" stop-color="#6a6a6a"/><stop offset=".139" stop-color="#575757"/><stop offset=".146" stop-color="#4a4a4a"/><stop offset=".169" stop-color="#3c3c3c"/><stop offset=".227" stop-color="#383838"/><stop offset=".843" stop-color="#393939"/><stop offset=".855" stop-color="#3e3e3e"/><stop offset=".864" stop-color="#484848"/><stop offset=".872" stop-color="#5a5a5a"/><stop offset=".880" stop-color="#777"/><stop offset=".882" stop-color="#808080"/><stop offset=".884" stop-color="#909090"/><stop offset=".890" stop-color="#e1e1e1"/><stop offset=".892" stop-color="#f5f5f5"/><stop offset=".894" stop-color="#fdfdfd"/><stop offset=".897" stop-color="#fefefe"/><stop offset=".907" stop-color="#fafafa"/><stop offset=".924" stop-color="#c1c1c1"/><stop offset=".933" stop-color="#acacac"/><stop offset=".944" stop-color="#9b9b9b"/><stop offset=".968" stop-color="#858585"/><stop offset="1" stop-color="#787878"/></linearGradient>
<linearGradient id="l64" x2="0" y2="1"><stop offset="0" stop-color="#767676"/><stop offset=".042" stop-color="#868686"/><stop offset=".072" stop-color="#9d9d9d"/><stop offset=".093" stop-color="#bebebe"/><stop offset=".116" stop-color="#f7f7f7"/><stop offset=".118" stop-color="#f4f4f4"/><stop offset=".120" stop-color="#e6e6e6"/><stop offset=".125" stop-color="#9d9d9d"/><stop offset=".128" stop-color="#7f7f7f"/><stop offset=".133" stop-color="#686868"/><stop offset=".140" stop-color="#565656"/><stop offset=".147" stop-color="#494949"/><stop offset=".169" stop-color="#3c3c3c"/><stop offset=".227" stop-color="#383838"/><stop offset=".843" stop-color="#393939"/><stop offset=".855" stop-color="#3e3e3e"/><stop offset=".864" stop-color="#484848"/><stop offset=".872" stop-color="#5a5a5a"/><stop offset=".880" stop-color="#777"/><stop offset=".882" stop-color="#808080"/><stop offset=".884" stop-color="#919191"/><stop offset=".890" stop-color="#e2e2e2"/><stop offset=".892" stop-color="#f5f5f5"/><stop offset=".894" stop-color="#fdfdfd"/><stop offset=".897" stop-color="#fefefe"/><stop offset=".907" stop-color="#fafafa"/><stop offset=".924" stop-color="#c1c1c1"/><stop offset=".933" stop-color="#acacac"/><stop offset=".944" stop-color="#9b9b9b"/><stop offset=".968" stop-color="#858585"/><stop offset="1" stop-color="#787878"/></linearGradient>
<linearGradient id="l65" x2="0" y2="1"><stop offset="0" stop-color="#777"/><stop offset=".040" stop-color="#858585"/><stop offset=".070" stop-color="#9c9c9c"/><stop offset=".090" stop-color="#b8b8b8"/><stop offset=".117" stop-color="#f3f3f3"/><stop offset=".120" stop-color="#e5e5e5"/><stop offset=".126" stop-color="#949494"/><stop offset=".128" stop-color="#828282"/><stop offset=".133" stop-color="#6a6a6a"/><stop offset=".140" stop-color="#575757"/><stop offset=".147" stop-color="#4a4a4a"/><stop offset=".170" stop-color="#3c3c3c"/><stop offset=".229" stop-color="#383838"/><stop offset=".843" stop-color="#393939"/><stop offset=".854" stop-color="#3d3d3d"/><stop offset=".863" stop-color="#464646"/><stop offset=".871" stop-color="#575757"/><stop offset=".879" stop-color="#747474"/><stop offset=".882" stop-color="#818181"/><stop offset=".884" stop-color="#919191"/><stop offset=".890" stop-color="#e2e2e2"/><stop offset=".892" stop-color="#f5f5f5"/><stop offset=".894" stop-color="#fdfdfd"/><stop offset=".897" stop-color="#fefefe"/><stop offset=".907" stop-color="#fafafa"/><stop offset=".917" stop-color="#d5d5d5"/><stop offset=".924" stop-color="#c1c1c1"/><stop offset=".933" stop-color="#acacac"/><stop offset=".944" stop-color="#9b9b9b"/><stop offset=".968" stop-color="#858585"/><stop offset="1" stop-color="#787878"/></linearGradient>
<linearGradient id="l66" x2="0" y2="1"><stop offset="0" stop-color="#777"/><stop offset=".039" stop-color="#858585"/><stop offset=".068" stop-color="#9a9a9a"/><stop offset=".088" stop-color="#b5b5b5"/><stop offset=".117" stop-color="#eee"/><stop offset=".120" stop-color="#e2e2e2"/><stop offset=".128" stop-color="#848484"/><stop offset=".130" stop-color="#777"/><stop offset=".134" stop-color="#686868"/><stop offset=".141" stop-color="#565656"/><stop offset=".148" stop-color="#494949"/><stop offset=".171" stop-color="#3c3c3c"/><stop offset=".232" stop-color="#383838"/><stop offset=".843" stop-color="#393939"/><stop offset=".854" stop-color="#3d3d3d"/><stop offset=".863" stop-color="#474747"/><stop offset=".871" stop-color="#585858"/><stop offset=".879" stop-color="#757575"/><stop offset=".882" stop-color="#828282"/><stop offset=".884" stop-color="#939393"/><stop offset=".890" stop-color="#e3e3e3"/><stop offset=".892" stop-color="#f6f6f6"/><stop offset=".894" stop-color="#fdfdfd"/><stop offset=".897" stop-color="#fefefe"/><stop offset=".907" stop-color="#fafafa"/><stop offset=".917" stop-color="#d5d5d5"/><stop offset=".924" stop-color="#c1c1c1"/><stop offset=".933" stop-color="#ababab"/><stop offset=".944" stop-color="#9b9b9b"/><stop offset=".968" stop-color="#858585"/><stop offset="1" stop-color="#787878"/></linearGradient>
<linearGradient id="l67" x2="0" y2="1"><stop offset="0" stop-color="#777"/><stop offset=".038" stop-color="#848484"/><stop offset=".067" stop-color="#999"/><stop offset=".086" stop-color="#b2b2b2"/><stop offset=".117" stop-color="#e9e9e9"/><stop offset=".119" stop-color="#e5e5e5"/><stop offset=".121" stop-color="#d6d6d6"/><stop offset=".126" stop-color="#989898"/><stop offset=".129" stop-color="#7f7f7f"/><stop offset=".135" stop-color="#666"/><stop offset=".142" stop-color="#555"/><stop offset=".149" stop-color="#494949"/><stop offset=".172" stop-color="#3b3b3b"/><stop offset=".233" stop-color="#383838"/><stop offset=".843" stop-color="#393939"/><stop offset=".854" stop-color="#3d3d3d"/><stop offset=".863" stop-color="#474747"/><stop offset=".871" stop-color="#585858"/><stop offset=".879" stop-color="#757575"/><stop offset=".882" stop-color="#838383"/><stop offset=".884" stop-color="#959595"/><stop offset=".889" stop-color="#d9d9d9"/><stop offset=".891" stop-color="#efefef"/><stop offset=".893" stop-color="#fbfbfb"/><stop offset=".896" stop-color="#fefefe"/><stop offset=".906" stop-color="#fbfbfb"/><stop offset=".924" stop-color="#c0c0c0"/><stop offset=".933" stop-color="#ababab"/><stop offset=".944" stop-color="#9b9b9b"/><stop offset=".968" stop-color="#858585"/><stop offset="1" stop-color="#787878"/></linearGradient>
<linearGradient id="l68" x2="0" y2="1"><stop offset="0" stop-color="#777"/><stop offset=".037" stop-color="#848484"/><stop offset=".065" stop-color="#989898"/><stop offset=".083" stop-color="#adadad"/><stop offset=".117" stop-color="#e5e5e5"/><stop offset=".119" stop-color="#e1e1e1"/><stop offset=".121" stop-color="#d4d4d4"/><stop offset=".126" stop-color="#999"/><stop offset=".129" stop-color="#808080"/><stop offset=".136" stop-color="#646464"/><stop offset=".143" stop-color="#545454"/><stop offset=".151" stop-color="#474747"/><stop offset=".173" stop-color="#3b3b3b"/><stop offset=".234" stop-color="#383838"/><stop offset=".842" stop-color="#393939"/><stop offset=".854" stop-color="#3e3e3e"/><stop offset=".863" stop-color="#474747"/><stop offset=".871" stop-color="#595959"/><stop offset=".879" stop-color="#767676"/><stop offset=".883" stop-color="#8d8d8d"/><stop offset=".885" stop-color="#a4a4a4"/><stop offset=".889" stop-color="#dbdbdb"/><stop offset=".891" stop-color="#f1f1f1"/><stop offset=".893" stop-color="#fbfbfb"/><stop offset=".896" stop-color="#fefefe"/><stop offset=".906" stop-color="#fbfbfb"/><stop offset=".917" stop-color="#d3d3d3"/><stop offset=".924" stop-color="#bfbfbf"/><stop offset=".933" stop-color="#ababab"/><stop offset=".944" stop-color="#9a9a9a"/><stop offset=".968" stop-color="#858585"/><stop offset="1" stop-color="#787878"/></linearGradient>
<linearGradient id="l69" x2="0" y2="1"><stop offset="0" stop-color="#777"/><stop offset=".036" stop-color="#848484"/><stop offset=".063" stop-color="#969696"/><stop offset=".081" stop-color="#ababab"/><stop offset=".105" stop-color="#d3d3d3"/><stop offset=".117" stop-color="#e1e1e1"/><stop offset=".119" stop-color="#ddd"/><stop offset=".121" stop-color="#d2d2d2"/><stop offset=".127" stop-color="#919191"/><stop offset=".130" stop-color="#7c7c7c"/><stop offset=".137" stop-color="#626262"/><stop offset=".144" stop-color="#535353"/><stop offset=".151" stop-color="#484848"/><stop offset=".173" stop-color="#3c3c3c"/><stop offset=".235" stop-color="#383838"/><stop offset=".842" stop-color="#393939"/><stop offset=".854" stop-color="#3e3e3e"/><stop offset=".863" stop-color="#484848"/><stop offset=".871" stop-color="#5a5a5a"/><stop offset=".879" stop-color="#777"/><stop offset=".881" stop-color="#808080"/><stop offset=".883" stop-color="#8f8f8f"/><stop offset=".889" stop-color="#dedede"/><stop offset=".891" stop-color="#f3f3f3"/><stop offset=".893" stop-color="#fcfcfc"/><stop offset=".896" stop-color="#fefefe"/><stop offset=".906" stop-color="#fafafa"/><stop offset=".916" stop-color="#d6d6d6"/><stop offset=".924" stop-color="#bfbfbf"/><stop offset=".943" stop-color="#9b9b9b"/><stop offset=".967" stop-color="#858585"/><stop offset="1" stop-color="#777"/></linearGradient>
<linearGradient id="l70" x2="0" y2="1"><stop offset="0" stop-color="#777"/><stop offset=".035" stop-color="#848484"/><stop offset=".062" stop-color="#969696"/><stop offset=".079" stop-color="#a8a8a8"/><stop offset=".104" stop-color="#d0d0d0"/><stop offset=".117" stop-color="#dedede"/><stop offset=".119" stop-color="#dadada"/><stop offset=".121" stop-color="#d0d0d0"/><stop offset=".127" stop-color="#939393"/><stop offset=".130" stop-color="#7d7d7d"/><stop offset=".137" stop-color="#636363"/><stop offset=".144" stop-color="#535353"/><stop offset=".152" stop-color="#474747"/><stop offset=".174" stop-color="#3c3c3c"/><stop offset=".237" stop-color="#383838"/><stop offset=".842" stop-color="#393939"/><stop offset=".854" stop-color="#3e3e3e"/><stop offset=".863" stop-color="#484848"/><stop offset=".870" stop-color="#585858"/><stop offset=".879" stop-color="#787878"/><stop offset=".881" stop-color="#828282"/><stop offset=".883" stop-color="#929292"/><stop offset=".889" stop-color="#e1e1e1"/><stop offset=".891" stop-color="#f4f4f4"/><stop offset=".893" stop-color="#fdfdfd"/><stop offset=".896" stop-color="#fefefe"/><stop offset=".905" stop-color="#fbfbfb"/><stop offset=".923" stop-color="#c0c0c0"/><stop offset=".932" stop-color="#ababab"/><stop offset=".943" stop-color="#9b9b9b"/><stop offset=".967" stop-color="#858585"/><stop offset="1" stop-color="#777"/></linearGradient>
<linearGradient id="l71" x2="0" y2="1"><stop offset="0" stop-color="#777"/><stop offset=".034" stop-color="#838383"/><stop offset=".060" stop-color="#949494"/><stop offset=".077" stop-color="#a6a6a6"/><stop offset=".104" stop-color="#cecece"/><stop offset=".117" stop-color="#dadada"/><stop offset=".119" stop-color="#d8d8d8"/><stop offset=".121" stop-color="#cecece"/><stop offset=".130" stop-color="#7f7f7f"/><stop offset=".138" stop-color="#616161"/><stop offset=".145" stop-color="#525252"/><stop offset=".153" stop-color="#474747"/><stop offset=".175" stop-color="#3b3b3b"/><stop offset=".238" stop-color="#383838"/><stop offset=".841" stop-color="#393939"/><stop offset=".854" stop-color="#3e3e3e"/><stop offset=".862" stop-color="#474747"/><stop offset=".870" stop-color="#595959"/><stop offset=".878" stop-color="#767676"/><stop offset=".882" stop-color="#8c8c8c"/><stop offset=".884" stop-color="#a2a2a2"/><stop offset=".889" stop-color="#e4e4e4"/><stop offset=".891" stop-color="#f6f6f6"/><stop offset=".893" stop-color="#fdfdfd"/><stop offset=".896" stop-color="#fefefe"/><stop offset=".905" stop-color="#fafafa"/><stop offset=".916" stop-color="#d3d3d3"/><stop offset=".923" stop-color="#c0c0c0"/><stop offset=".932" stop-color="#ababab"/><stop offset=".943" stop-color="#9b9b9b"/><stop offset=".967" stop-color="#858585"/><stop offset="1" stop-color="#777"/></linearGradient>
<linearGradient id="l72" x2="0" y2="1"><stop offset="0" stop-color="#777"/><stop offset=".033" stop-color="#838383"/><stop offset=".059" stop-color="#939393"/><stop offset=".078" stop-color="#a7a7a7"/><stop offset=".105" stop-color="#cecece"/><stop offset=".117" stop-color="#d8d8d8"/><stop offset=".119" stop-color="#d5d5d5"/><stop offset=".121" stop-color="#ccc"/><stop offset=".128" stop-color="#8e8e8e"/><stop offset=".131" stop-color="#7b7b7b"/><stop offset=".139" stop-color="#606060"/><stop offset=".146" stop-color="#525252"/><stop offset=".154" stop-color="#464646"/><stop offset=".176" stop-color="#3b3b3b"/><stop offset=".239" stop-color="#383838"/><stop offset=".841" stop-color="#393939"/><stop offset=".854" stop-color="#3e3e3e"/><stop offset=".862" stop-color="#484848"/><stop offset=".870" stop-color="#5a5a5a"/><stop offset=".878" stop-color="#777"/><stop offset=".880" stop-color="#808080"/><stop offset=".882" stop-color="#8f8f8f"/><stop offset=".888" stop-color="#dbdbdb"/><stop offset=".890" stop-color="#f0f0f0"/><stop offset=".892" stop-color="#fbfbfb"/><stop offset=".895" stop-color="#fefefe"/><stop offset=".905" stop-color="#fafafa"/><stop offset=".915" stop-color="#d5d5d5"/><stop offset=".923" stop-color="#bfbfbf"/><stop offset=".942" stop-color="#9b9b9b"/><stop offset=".966" stop-color="#858585"/><stop offset="1" stop-color="#777"/></linearGradient>
<linearGradient id="l73" x2="0" y2="1"><stop offset="0" stop-color="#777"/><stop offset=".032" stop-color="#838383"/><stop offset=".058" stop-color="#939393"/><stop offset=".077" stop-color="#a6a6a6"/><stop offset=".104" stop-color="#ccc"/><stop offset=".117" stop-color="#d6d6d6"/><stop offset=".121" stop-color="#ccc"/><stop offset=".131" stop-color="#7c7c7c"/><stop offset=".140" stop-color="#5e5e5e"/><stop offset=".155" stop-color="#464646"/><stop offset=".177" stop-color="#3b3b3b"/><stop offset=".841" stop-color="#393939"/><stop offset=".853" stop-color="#3d3d3d"/><stop offset=".861" stop-color="#474747"/><stop offset=".869" stop-color="#585858"/><stop offset=".878" stop-color="#757575"/><stop offset=".880" stop-color="#828282"/><stop offset=".882" stop-color="#929292"/><stop offset=".888" stop-color="#dedede"/><stop offset=".890" stop-color="#f2f2f2"/><stop offset=".892" stop-color="#fcfcfc"/><stop offset=".895" stop-color="#fefefe"/><stop offset=".904" stop-color="#fbfbfb"/><stop offset=".922" stop-color="#c0c0c0"/><stop offset=".931" stop-color="#ababab"/><stop offset=".942" stop-color="#9b9b9b"/><stop offset=".966" stop-color="#858585"/><stop offset="1" stop-color="#777"/></linearGradient>
<linearGradient id="l74" x2="0" y2="1"><stop offset="0" stop-color="#787878"/><stop offset=".032" stop-color="#838383"/><stop offset=".057" stop-color="#929292"/><stop offset=".076" stop-color="#a5a5a5"/><stop offset=".103" stop-color="#cacaca"/><stop offset=".117" stop-color="#d4d4d4"/><stop offset=".121" stop-color="#cbcbcb"/><stop offset=".131" stop-color="#7d7d7d"/><stop offset=".140" stop-color="#5f5f5f"/><stop offset=".155" stop-color="#474747"/><stop offset=".178" stop-color="#3b3b3b"/><stop offset=".840" stop-color="#393939"/><stop offset=".853" stop-color="#3e3e3e"/><stop offset=".861" stop-color="#474747"/><stop offset=".869" stop-color="#595959"/><stop offset=".878" stop-color="#777"/><stop offset=".881" stop-color="#8c8c8c"/><stop offset=".888" stop-color="#e1e1e1"/><stop offset=".890" stop-color="#f4f4f4"/><stop offset=".892" stop-color="#fdfdfd"/><stop offset=".895" stop-color="#fefefe"/><stop offset=".904" stop-color="#fafafa"/><stop offset=".914" stop-color="#d6d6d6"/><stop offset=".922" stop-color="#bfbfbf"/><stop offset=".931" stop-color="#aaa"/><stop offset=".942" stop-color="#9a9a9a"/><stop offset=".966" stop-color="#858585"/><stop offset="1" stop-color="#777"/></linearGradient>
<linearGradient id="l75" x2="0" y2="1"><stop offset="0" stop-color="#787878"/><stop offset=".032" stop-color="#838383"/><stop offset=".057" stop-color="#929292"/><stop offset=".076" stop-color="#a5a5a5"/><stop offset=".103" stop-color="#c9c9c9"/><stop offset=".117" stop-color="#d3d3d3"/><stop offset=".121" stop-color="#cacaca"/><stop offset=".129" stop-color="#8b8b8b"/><stop offset=".132" stop-color="#7a7a7a"/><stop offset=".141" stop-color="#5e5e5e"/><stop offset=".156" stop-color="#464646"/><stop offset=".179" stop-color="#3b3b3b"/><stop offset=".840" stop-color="#393939"/><stop offset=".852" stop-color="#3d3d3d"/><stop offset=".860" stop-color="#474747"/><stop offset=".868" stop-color="#575757"/><stop offset=".877" stop-color="#747474"/><stop offset=".879" stop-color="#818181"/><stop offset=".881" stop-color="#909090"/><stop offset=".888" stop-color="#e4e4e4"/><stop offset=".890" stop-color="#f5f5f5"/><stop offset=".892" stop-color="#fdfdfd"/><stop offset=".895" stop-color="#fefefe"/><stop offset=".903" stop-color="#fbfbfb"/><stop offset=".914" stop-color="#d4d4d4"/><stop offset=".922" stop-color="#bebebe"/><stop offset=".941" stop-color="#9b9b9b"/><stop offset=".966" stop-color="#858585"/><stop offset="1" stop-color="#777"/></linearGradient>
<linearGradient id="l76" x2="0" y2="1"><stop offset="0" stop-color="#787878"/><stop offset=".031" stop-color="#838383"/><stop offset=".056" stop-color="#929292"/><stop offset=".075" stop-color="#a4a4a4"/><stop offset=".102" stop-color="#c7c7c7"/><stop offset=".117" stop-color="#d1d1d1"/><stop offset=".121" stop-color="#c9c9c9"/><stop offset=".132" stop-color="#7b7b7b"/><stop offset=".141" stop-color="#5e5e5e"/><stop offset=".156" stop-color="#474747"/><stop offset=".179" stop-color="#3b3b3b"/><stop offset=".244" stop-color="#383838"/><stop offset=".839" stop-color="#393939"/><stop offset=".852" stop-color="#3d3d3d"/><stop offset=".860" stop-color="#474747"/><stop offset=".868" stop-color="#595959"/><stop offset=".877" stop-color="#767676"/><stop offset=".879" stop-color="#838383"/><stop offset=".881" stop-color="#939393"/><stop offset=".889" stop-color="#f0f0f0"/><stop offset=".891" stop-color="#fbfbfb"/><stop offset=".894" stop-color="#fefefe"/><stop offset=".903" stop-color="#f9f9f9"/><stop offset=".921" stop-color="#c0c0c0"/><stop offset=".930" stop-color="#ababab"/><stop offset=".941" stop-color="#9b9b9b"/><stop offset=".966" stop-color="#848484"/><stop offset="1" stop-color="#777"/></linearGradient>
<linearGradient id="l77" x2="0" y2="1"><stop offset="0" stop-color="#787878"/><stop offset=".030" stop-color="#828282"/><stop offset=".055" stop-color="#919191"/><stop offset=".074" stop-color="#a3a3a3"/><stop offset=".102" stop-color="#c6c6c6"/><stop offset=".117" stop-color="#d0d0d0"/><stop offset=".120" stop-color="#ccc"/><stop offset=".122" stop-color="#c3c3c3"/><stop offset=".129" stop-color="#8d8d8d"/><stop offset=".133" stop-color="#787878"/><stop offset=".142" stop-color="#5d5d5d"/><stop offset=".157" stop-color="#464646"/><stop offset=".180" stop-color="#3b3b3b"/><stop offset=".245" stop-color="#383838"/><stop offset=".839" stop-color="#393939"/><stop offset=".852" stop-color="#3e3e3e"/><stop offset=".860" stop-color="#484848"/><stop offset=".868" stop-color="#5a5a5a"/><stop offset=".877" stop-color="#777"/><stop offset=".880" stop-color="#8d8d8d"/><stop offset=".887" stop-color="#dedede"/><stop offset=".889" stop-color="#f1f1f1"/><stop offset=".891" stop-color="#fbfbfb"/><stop offset=".894" stop-color="#fefefe"/><stop offset=".902" stop-color="#fafafa"/><stop offset=".921" stop-color="#bfbfbf"/><stop offset=".930" stop-color="#aaa"/><stop offset=".941" stop-color="#9a9a9a"/><stop offset=".966" stop-color="#848484"/><stop offset="1" stop-color="#777"/></linearGradient>
<linearGradient id="l78" x2="0" y2="1"><stop offset="0" stop-color="#787878"/><stop offset=".030" stop-color="#828282"/><stop offset=".054" stop-color="#909090"/><stop offset=".073" stop-color="#a2a2a2"/><stop offset=".102" stop-color="#c5c5c5"/><stop offset=".117" stop-color="#cecece"/><stop offset=".120" stop-color="#cbcbcb"/><stop offset=".122" stop-color="#c3c3c3"/><stop offset=".130" stop-color="#888"/><stop offset=".133" stop-color="#797979"/><stop offset=".142" stop-color="#5e5e5e"/><stop offset=".158" stop-color="#464646"/><stop offset=".181" stop-color="#3b3b3b"/><stop offset=".839" stop-color="#393939"/><stop offset=".852" stop-color="#3e3e3e"/><stop offset=".860" stop-color="#484848"/><stop offset=".867" stop-color="#585858"/><stop offset=".877" stop-color="#787878"/><stop offset=".880" stop-color="#8f8f8f"/><stop offset=".887" stop-color="#e0e0e0"/><stop offset=".889" stop-color="#f3f3f3"/><stop offset=".891" stop-color="#fcfcfc"/><stop offset=".894" stop-color="#fefefe"/><stop offset=".902" stop-color="#fbfbfb"/><stop offset=".921" stop-color="#bebebe"/><stop offset=".940" stop-color="#9b9b9b"/><stop offset=".965" stop-color="#858585"/><stop offset="1" stop-color="#777"/></linearGradient>
<linearGradient id="l79" x2="0" y2="1"><stop offset="0" stop-color="#787878"/><stop offset=".030" stop-color="#828282"/><stop offset=".054" stop-color="#909090"/><stop offset=".073" stop-color="#a2a2a2"/><stop offset=".101" stop-color="#c4c4c4"/><stop offset=".117" stop-color="#cdcdcd"/><stop offset=".120" stop-color="#cacaca"/><stop offset=".122" stop-color="#c3c3c3"/><stop offset=".133" stop-color="#797979"/><stop offset=".143" stop-color="#5c5c5c"/><stop offset=".158" stop-color="#464646"/><stop offset=".181" stop-color="#3c3c3c"/><stop offset=".247" stop-color="#383838"/><stop offset=".838" stop-color="#393939"/><stop offset=".851" stop-color="#3d3d3d"/><stop offset=".859" stop-color="#474747"/><stop offset=".867" stop-color="#585858"/><stop offset=".876" stop-color="#767676"/><stop offset=".878" stop-color="#828282"/><stop offset=".880" stop-color="#929292"/><stop offset=".887" stop-color="#e2e2e2"/><stop offset=".889" stop-color="#f4f4f4"/><stop offset=".891" stop-color="#fcfcfc"/><stop offset=".894" stop-color="#fefefe"/><stop offset=".902" stop-color="#fafafa"/><stop offset=".920" stop-color="#bfbfbf"/><stop offset=".929" stop-color="#ababab"/><stop offset=".940" stop-color="#9b9b9b"/><stop offset=".965" stop-color="#848484"/><stop offset="1" stop-color="#777"/></linearGradient>
<linearGradient id="l80" x2="0" y2="1"><stop offset="0" stop-color="#787878"/><stop offset=".053" stop-color="#909090"/><stop offset=".073" stop-color="#a1a1a1"/><stop offset=".101" stop-color="#c3c3c3"/><stop offset=".117" stop-color="#cdcdcd"/><stop offset=".120" stop-color="#cacaca"/><stop offset=".122" stop-color="#c2c2c2"/><stop offset=".133" stop-color="#7a7a7a"/><stop offset=".143" stop-color="#5d5d5d"/><stop offset=".159" stop-color="#464646"/><stop offset=".182" stop-color="#3b3b3b"/><stop offset=".248" stop-color="#383838"/><stop offset=".838" stop-color="#393939"/><stop offset=".850" stop-color="#3d3d3d"/><stop offset=".858" stop-color="#464646"/><stop offset=".866" stop-color="#575757"/><stop offset=".875" stop-color="#737373"/><stop offset=".878" stop-color="#7f7f7f"/><stop offset=".879" stop-color="#8b8b8b"/><stop offset=".887" stop-color="#e4e4e4"/><stop offset=".889" stop-color="#f5f5f5"/><stop offset=".891" stop-color="#fdfdfd"/><stop offset=".894" stop-color="#fefefe"/><stop offset=".901" stop-color="#fafafa"/><stop offset=".920" stop-color="#bebebe"/><stop offset=".939" stop-color="#9b9b9b"/><stop offset=".964" stop-color="#858585"/><stop offset="1" stop-color="#777"/></linearGradient>
<linearGradient id="l81" x2="0" y2="1"><stop offset="0" stop-color="#787878"/><stop offset=".053" stop-color="#909090"/><stop offset=".073" stop-color="#a1a1a1"/><stop offset=".101" stop-color="#c3c3c3"/><stop offset=".117" stop-color="#ccc"/><stop offset=".120" stop-color="#cacaca"/><stop offset=".122" stop-color="#c2c2c2"/><stop offset=".133" stop-color="#7b7b7b"/><stop offset=".143" stop-color="#5d5d5d"/><stop offset=".159" stop-color="#464646"/><stop offset=".182" stop-color="#3c3c3c"/><stop offset=".249" stop-color="#383838"/><stop offset=".838" stop-color="#393939"/><stop offset=".850" stop-color="#3d3d3d"/><stop offset=".858" stop-color="#474747"/><stop offset=".866" stop-color="#585858"/><stop offset=".875" stop-color="#747474"/><stop offset=".878" stop-color="#808080"/><stop offset=".879" stop-color="#8e8e8e"/><stop offset=".887" stop-color="#e5e5e5"/><stop offset=".889" stop-color="#f5f5f5"/><stop offset=".891" stop-color="#fdfdfd"/><stop offset=".894" stop-color="#fefefe"/><stop offset=".900" stop-color="#fafafa"/><stop offset=".920" stop-color="#bdbdbd"/><stop offset=".939" stop-color="#9b9b9b"/><stop offset=".964" stop-color="#858585"/><stop offset="1" stop-color="#777"/></linearGradient>
<linearGradient id="l82" x2="0" y2="1"><stop offset="0" stop-color="#787878"/><stop offset=".052" stop-color="#8f8f8f"/><stop offset=".072" stop-color="#a0a0a0"/><stop offset=".101" stop-color="#c2c2c2"/><stop offset=".118" stop-color="#cbcbcb"/><stop offset=".122" stop-color="#c2c2c2"/><stop offset=".133" stop-color="#7b7b7b"/><stop offset=".143" stop-color="#5d5d5d"/><stop offset=".159" stop-color="#464646"/><stop offset=".183" stop-color="#3b3b3b"/><stop offset=".837" stop-color="#393939"/><stop offset=".850" stop-color="#3d3d3d"/><stop offset=".858" stop-color="#474747"/><stop offset=".866" stop-color="#595959"/><stop offset=".875" stop-color="#767676"/><stop offset=".878" stop-color="#828282"/><stop offset=".879" stop-color="#919191"/><stop offset=".888" stop-color="#efefef"/><stop offset=".890" stop-color="#fbfbfb"/><stop offset=".893" stop-color="#fefefe"/><stop offset=".900" stop-color="#f7f7f7"/><stop offset=".914" stop-color="#cbcbcb"/><stop offset=".923" stop-color="#b5b5b5"/><stop offset=".939" stop-color="#9a9a9a"/><stop offset=".964" stop-color="#848484"/><stop offset="1" stop-color="#767676"/></linearGradient>
<linearGradient id="l83" x2="0" y2="1"><stop offset="0" stop-color="#787878"/><stop offset=".052" stop-color="#8f8f8f"/><stop offset=".072" stop-color="#a0a0a0"/><stop offset=".101" stop-color="#c2c2c2"/><stop offset=".118" stop-color="#cbcbcb"/><stop offset=".122" stop-color="#c2c2c2"/><stop offset=".133" stop-color="#7b7b7b"/><stop offset=".143" stop-color="#5e5e5e"/><stop offset=".159" stop-color="#464646"/><stop offset=".183" stop-color="#3c3c3c"/><stop offset=".250" stop-color="#383838"/><stop offset=".837" stop-color="#393939"/><stop offset=".850" stop-color="#3e3e3e"/><stop offset=".858" stop-color="#484848"/><stop offset=".866" stop-color="#5a5a5a"/><stop offset=".875" stop-color="#777"/><stop offset=".878" stop-color="#848484"/><stop offset=".879" stop-color="#939393"/><stop offset=".888" stop-color="#f0f0f0"/><stop offset=".890" stop-color="#fbfbfb"/><stop offset=".893" stop-color="#fefefe"/><stop offset=".900" stop-color="#f3f3f3"/><stop offset=".921" stop-color="#b8b8b8"/><stop offset=".938" stop-color="#9b9b9b"/><stop offset=".964" stop-color="#848484"/><stop offset="1" stop-color="#767676"/></linearGradient>
<linearGradient id="l84" x2="0" y2="1"><stop offset="0" stop-color="#787878"/><stop offset=".052" stop-color="#8f8f8f"/><stop offset=".072" stop-color="#a0a0a0"/><stop offset=".101" stop-color="#c2c2c2"/><stop offset=".118" stop-color="#cbcbcb"/><stop offset=".122" stop-color="#c2c2c2"/><stop offset=".133" stop-color="#7c7c7c"/><stop offset=".143" stop-color="#5e5e5e"/><stop offset=".159" stop-color="#474747"/><stop offset=".183" stop-color="#3c3c3c"/><stop offset=".251" stop-color="#383838"/><stop offset=".837" stop-color="#393939"/><stop offset=".850" stop-color="#3e3e3e"/><stop offset=".858" stop-color="#484848"/><stop offset=".865" stop-color="#585858"/><stop offset=".875" stop-color="#787878"/><stop offset=".878" stop-color="#8d8d8d"/><stop offset=".888" stop-color="#f1f1f1"/><stop offset=".891" stop-color="#fcfcfc"/><stop offset=".900" stop-color="#eee"/><stop offset=".922" stop-color="#b5b5b5"/><stop offset=".938" stop-color="#9a9a9a"/><stop offset=".964" stop-color="#848484"/><stop offset="1" stop-color="#767676"/></linearGradient>
<linearGradient id="l85" x2="0" y2="1"><stop offset="0" stop-color="#787878"/><stop offset=".052" stop-color="#909090"/><stop offset=".072" stop-color="#a0a0a0"/><stop offset=".101" stop-color="#c2c2c2"/><stop offset=".118" stop-color="#cacaca"/><stop offset=".122" stop-color="#c2c2c2"/><stop offset=".130" stop-color="#8b8b8b"/><stop offset=".134" stop-color="#787878"/><stop offset=".144" stop-color="#5c5c5c"/><stop offset=".160" stop-color="#464646"/><stop offset=".184" stop-color="#3b3b3b"/><stop offset=".836" stop-color="#393939"/><stop offset=".855" stop-color="#444"/><stop offset=".862" stop-color="#515151"/><stop offset=".869" stop-color="#656565"/><stop offset=".878" stop-color="#888"/><stop offset=".887" stop-color="#e8e8e8"/><stop offset=".889" stop-color="#f3f3f3"/><stop offset=".891" stop-color="#f7f7f7"/><stop offset=".901" stop-color="#e8e8e8"/><stop offset=".923" stop-color="#b2b2b2"/><stop offset=".939" stop-color="#989898"/><stop offset=".964" stop-color="#838383"/><stop offset="1" stop-color="#767676"/></linearGradient>
<linearGradient id="l86" x2="0" y2="1"><stop offset="0" stop-color="#787878"/><stop offset=".051" stop-color="#8f8f8f"/><stop offset=".071" stop-color="#9f9f9f"/><stop offset=".100" stop-color="#c1c1c1"/><stop offset=".118" stop-color="#cacaca"/><stop offset=".122" stop-color="#c2c2c2"/><stop offset=".131" stop-color="#868686"/><stop offset=".134" stop-color="#787878"/><stop offset=".144" stop-color="#5c5c5c"/><stop offset=".160" stop-color="#464646"/><stop offset=".184" stop-color="#3c3c3c"/><stop offset=".251" stop-color="#383838"/><stop offset=".835" stop-color="#393939"/><stop offset=".854" stop-color="#424242"/><stop offset=".860" stop-color="#4d4d4d"/><stop offset=".867" stop-color="#606060"/><stop offset=".877" stop-color="#838383"/><stop offset=".879" stop-color="#999"/><stop offset=".887" stop-color="#e4e4e4"/><stop offset=".889" stop-color="#efefef"/><stop offset=".891" stop-color="#f2f2f2"/><stop offset=".901" stop-color="#e5e5e5"/><stop offset=".925" stop-color="#adadad"/><stop offset=".940" stop-color="#979797"/><stop offset=".965" stop-color="#838383"/><stop offset="1" stop-color="#767676"/></linearGradient>
<linearGradient id="l87" x2="0" y2="1"><stop offset="0" stop-color="#787878"/><stop offset=".051" stop-color="#8f8f8f"/><stop offset=".071" stop-color="#9f9f9f"/><stop offset=".100" stop-color="#c0c0c0"/><stop offset=".118" stop-color="#cacaca"/><stop offset=".122" stop-color="#c2c2c2"/><stop offset=".131" stop-color="#868686"/><stop offset=".134" stop-color="#787878"/><stop offset=".144" stop-color="#5d5d5d"/><stop offset=".160" stop-color="#464646"/><stop offset=".184" stop-color="#3c3c3c"/><stop offset=".251" stop-color="#383838"/><stop offset=".835" stop-color="#393939"/><stop offset=".854" stop-color="#424242"/><stop offset=".860" stop-color="#4e4e4e"/><stop offset=".866" stop-color="#5d5d5d"/><stop offset=".877" stop-color="#848484"/><stop offset=".879" stop-color="#9a9a9a"/><stop offset=".887" stop-color="#e0e0e0"/><stop offset=".889" stop-color="#eaeaea"/><stop offset=".891" stop-color="#ededed"/><stop offset=".902" stop-color="#dfdfdf"/><stop offset=".926" stop-color="#aaa"/><stop offset=".941" stop-color="#959595"/><stop offset=".966" stop-color="#828282"/><stop offset="1" stop-color="#767676"/></linearGradient>
<linearGradient id="l88" x2="0" y2="1"><stop offset="0" stop-color="#787878"/><stop offset=".051" stop-color="#8f8f8f"/><stop offset=".100" stop-color="#c0c0c0"/><stop offset=".118" stop-color="#cacaca"/><stop offset=".122" stop-color="#c3c3c3"/><stop offset=".134" stop-color="#787878"/><stop offset=".144" stop-color="#5d5d5d"/><stop offset=".160" stop-color="#464646"/><stop offset=".184" stop-color="#3c3c3c"/><stop offset=".250" stop-color="#383838"/><stop offset=".835" stop-color="#393939"/><stop offset=".853" stop-color="#414141"/><stop offset=".859" stop-color="#4c4c4c"/><stop offset=".865" stop-color="#5b5b5b"/><stop offset=".877" stop-color="#868686"/><stop offset=".887" stop-color="#ddd"/><stop offset=".889" stop-color="#e6e6e6"/><stop offset=".891" stop-color="#e8e8e8"/><stop offset=".901" stop-color="#dedede"/><stop offset=".924" stop-color="#adadad"/><stop offset=".941" stop-color="#949494"/><stop offset=".966" stop-color="#828282"/><stop offset="1" stop-color="#767676"/></linearGradient>
<linearGradient id="l89" x2="0" y2="1"><stop offset="0" stop-color="#787878"/><stop offset=".051" stop-color="#8f8f8f"/><stop offset=".100" stop-color="#c0c0c0"/><stop offset=".118" stop-color="#cacaca"/><stop offset=".122" stop-color="#c3c3c3"/><stop offset=".134" stop-color="#797979"/><stop offset=".144" stop-color="#5d5d5d"/><stop offset=".160" stop-color="#464646"/><stop offset=".184" stop-color="#3c3c3c"/><stop offset=".250" stop-color="#383838"/><stop offset=".835" stop-color="#393939"/><stop offset=".853" stop-color="#414141"/><stop offset=".864" stop-color="#595959"/><stop offset=".876" stop-color="#828282"/><stop offset=".878" stop-color="#949494"/><stop offset=".887" stop-color="#dadada"/><stop offset=".891" stop-color="#e4e4e4"/><stop offset=".901" stop-color="#dbdbdb"/><stop offset=".924" stop-color="#ababab"/><stop offset=".942" stop-color="#939393"/><stop offset=".966" stop-color="#818181"/><stop offset="1" stop-color="#767676"/></linearGradient>
<linearGradient id="r0" x2="0" y2="1"><stop offset="0" stop-color="#747474"/><stop offset=".037" stop-color="#7f7f7f"/><stop offset=".063" stop-color="#8f8f8f"/><stop offset=".081" stop-color="#a3a3a3"/><stop offset=".107" stop-color="#cecece"/><stop offset=".118" stop-color="#d6d6d6"/><stop offset=".121" stop-color="#d3d3d3"/><stop offset=".122" stop-color="#c8c8c8"/><stop offset=".128" stop-color="#909090"/><stop offset=".131" stop-color="#7b7b7b"/><stop offset=".141" stop-color="#5e5e5e"/><stop offset=".149" stop-color="#4f4f4f"/><stop offset=".159" stop-color="#474747"/><stop offset=".188" stop-color="#3e3e3e"/><stop offset=".837" stop-color="#3c3c3c"/><stop offset=".849" stop-color="#424242"/><stop offset=".857" stop-color="#4f4f4f"/><stop offset=".875" stop-color="#858585"/><stop offset=".888" stop-color="#b9b9b9"/><stop offset=".892" stop-color="#c0c0c0"/><stop offset=".905" stop-color="#b8b8b8"/><stop offset=".931" stop-color="#999"/><stop offset=".949" stop-color="#8a8a8a"/><stop offset="1" stop-color="#767676"/></linearGradient>
<linearGradient id="r1" x2="0" y2="1"><stop offset="0" stop-color="#747474"/><stop offset=".037" stop-color="#7f7f7f"/><stop offset=".063" stop-color="#8f8f8f"/><stop offset=".082" stop-color="#a5a5a5"/><stop offset=".107" stop-color="#cfcfcf"/><stop offset=".119" stop-color="#d8d8d8"/><stop offset=".121" stop-color="#d5d5d5"/><stop offset=".122" stop-color="#cbcbcb"/><stop offset=".128" stop-color="#929292"/><stop offset=".131" stop-color="#7d7d7d"/><stop offset=".135" stop-color="#6d6d6d"/><stop offset=".141" stop-color="#5e5e5e"/><stop offset=".149" stop-color="#505050"/><stop offset=".159" stop-color="#474747"/><stop offset=".188" stop-color="#3e3e3e"/><stop offset=".837" stop-color="#3c3c3c"/><stop offset=".849" stop-color="#424242"/><stop offset=".857" stop-color="#4f4f4f"/><stop offset=".875" stop-color="#858585"/><stop offset=".888" stop-color="#b9b9b9"/><stop offset=".892" stop-color="#c0c0c0"/><stop offset=".905" stop-color="#b8b8b8"/><stop offset=".931" stop-color="#999"/><stop offset=".949" stop-color="#8a8a8a"/><stop offset="1" stop-color="#767676"/></linearGradient>
<linearGradient id="r2" x2="0" y2="1"><stop offset="0" stop-color="#747474"/><stop offset=".037" stop-color="#7f7f7f"/><stop offset=".063" stop-color="#8f8f8f"/><stop offset=".082" stop-color="#a5a5a5"/><stop offset=".107" stop-color="#cfcfcf"/><stop offset=".119" stop-color="#d9d9d9"/><stop offset=".121" stop-color="#d7d7d7"/><stop offset=".122" stop-color="#cecece"/><stop offset=".129" stop-color="#8c8c8c"/><stop offset=".131" stop-color="#7e7e7e"/><stop offset=".135" stop-color="#6e6e6e"/><stop offset=".141" stop-color="#5f5f5f"/><stop offset=".149" stop-color="#505050"/><stop offset=".159" stop-color="#474747"/><stop offset=".188" stop-color="#3e3e3e"/><stop offset=".837" stop-color="#3c3c3c"/><stop offset=".849" stop-color="#424242"/><stop offset=".857" stop-color="#4f4f4f"/><stop offset=".875" stop-color="#858585"/><stop offset=".888" stop-color="#b9b9b9"/><stop offset=".892" stop-color="#c0c0c0"/><stop offset=".905" stop-color="#b8b8b8"/><stop offset=".931" stop-color="#999"/><stop offset=".949" stop-color="#8a8a8a"/><stop offset="1" stop-color="#767676"/></linearGradient>
<linearGradient id="r3" x2="0" y2="1"><stop offset="0" stop-color="#747474"/><stop offset=".037" stop-color="#7f7f7f"/><stop offset=".063" stop-color="#8f8f8f"/><stop offset=".082" stop-color="#a5a5a5"/><stop offset=".108" stop-color="#d2d2d2"/><stop offset=".119" stop-color="#dadada"/><stop offset=".121" stop-color="#d9d9d9"/><stop offset=".122" stop-color="#d1d1d1"/><stop offset=".129" stop-color="#8f8f8f"/><stop offset=".132" stop-color="#7a7a7a"/><stop offset=".141" stop-color="#5f5f5f"/><stop offset=".149" stop-color="#505050"/><stop offset=".159" stop-color="#474747"/><stop offset=".188" stop-color="#3e3e3e"/><stop offset=".836" stop-color="#3c3c3c"/><stop offset=".850" stop-color="#444"/><stop offset=".859" stop-color="#575757"/><stop offset=".872" stop-color="#818181"/><stop offset=".883" stop-color="#c5c5c5"/><stop offset=".887" stop-color="#ccc"/><stop offset=".902" stop-color="#c2c2c2"/><stop offset=".928" stop-color="#9d9d9d"/><stop offset=".946" stop-color="#8c8c8c"/><stop offset=".969" stop-color="#7f7f7f"/><stop offset="1" stop-color="#757575"/></linearGradient>
<linearGradient id="r4" x2="0" y2="1"><stop offset="0" stop-color="#747474"/><stop offset=".037" stop-color="#7f7f7f"/><stop offset=".064" stop-color="#909090"/><stop offset=".083" stop-color="#a7a7a7"/><stop offset=".111" stop-color="#d7d7d7"/><stop offset=".124" stop-color="#e3e3e3"/><stop offset=".126" stop-color="#e1e1e1"/><stop offset=".128" stop-color="#d8d8d8"/><stop offset=".130" stop-color="#c5c5c5"/><stop offset=".134" stop-color="#959595"/><stop offset=".137" stop-color="#7c7c7c"/><stop offset=".145" stop-color="#626262"/><stop offset=".153" stop-color="#525252"/><stop offset=".163" stop-color="#484848"/><stop offset=".192" stop-color="#3e3e3e"/><stop offset=".837" stop-color="#3c3c3c"/><stop offset=".850" stop-color="#444"/><stop offset=".859" stop-color="#575757"/><stop offset=".872" stop-color="#818181"/><stop offset=".883" stop-color="#c5c5c5"/><stop offset=".887" stop-color="#cdcdcd"/><stop offset=".902" stop-color="#c3c3c3"/><stop offset=".928" stop-color="#9e9e9e"/><stop offset=".946" stop-color="#8d8d8d"/><stop offset=".969" stop-color="#7f7f7f"/><stop offset="1" stop-color="#757575"/></linearGradient>
<linearGradient id="r5" x2="0" y2="1"><stop offset="0" stop-color="#747474"/><stop offset=".037" stop-color="#7f7f7f"/><stop offset=".064" stop-color="#909090"/><stop offset=".083" stop-color="#a7a7a7"/><stop offset=".111" stop-color="#d7d7d7"/><stop offset=".124" stop-color="#e4e4e4"/><stop offset=".126" stop-color="#e2e2e2"/><stop offset=".128" stop-color="#d9d9d9"/><stop offset=".130" stop-color="#c6c6c6"/><stop offset=".134" stop-color="#959595"/><stop offset=".137" stop-color="#7c7c7c"/><stop offset=".145" stop-color="#626262"/><stop offset=".153" stop-color="#525252"/><stop offset=".163" stop-color="#484848"/><stop offset=".192" stop-color="#3e3e3e"/><stop offset=".837" stop-color="#3c3c3c"/><stop offset=".850" stop-color="#444"/><stop offset=".859" stop-color="#575757"/><stop offset=".872" stop-color="#818181"/><stop offset=".883" stop-color="#c6c6c6"/><stop offset=".887" stop-color="#cecece"/><stop offset=".902" stop-color="#c4c4c4"/><stop offset=".928" stop-color="#9e9e9e"/><stop offset=".946" stop-color="#8d8d8d"/><stop offset=".969" stop-color="#7f7f7f"/><stop offset="1" stop-color="#767676"/></linearGradient>
<linearGradient id="r6" x2="0" y2="1"><stop offset="0" stop-color="#747474"/><stop offset=".037" stop-color="#7f7f7f"/><stop offset=".064" stop-color="#909090"/><stop offset=".083" stop-color="#a7a7a7"/><stop offset=".111" stop-color="#d8d8d8"/><stop offset=".124" stop-color="#e5e5e5"/><stop offset=".126" stop-color="#e4e4e4"/><stop offset=".128" stop-color="#dadada"/><stop offset=".130" stop-color="#c7c7c7"/><stop offset=".134" stop-color="#969696"/><stop offset=".137" stop-color="#7c7c7c"/><stop offset=".144" stop-color="#646464"/><stop offset=".152" stop-color="#535353"/><stop offset=".162" stop-color="#494949"/><stop offset=".191" stop-color="#3e3e3e"/><stop offset=".837" stop-color="#3c3c3c"/><stop offset=".850" stop-color="#444"/><stop offset=".859" stop-color="#575757"/><stop offset=".872" stop-color="#818181"/><stop offset=".883" stop-color="#c7c7c7"/><stop offset=".887" stop-color="#cfcfcf"/><stop offset=".902" stop-color="#c5c5c5"/><stop offset=".928" stop-color="#9f9f9f"/><stop offset=".946" stop-color="#8d8d8d"/><stop offset=".969" stop-color="#7f7f7f"/><stop offset="1" stop-color="#767676"/></linearGradient>
<linearGradient id="r7" x2="0" y2="1"><stop offset="0" stop-color="#747474"/><stop offset=".038" stop-color="#7f7f7f"/><stop offset=".065" stop-color="#919191"/><stop offset=".083" stop-color="#a7a7a7"/><stop offset=".111" stop-color="#d9d9d9"/><stop offset=".124" stop-color="#e6e6e6"/><stop offset=".126" stop-color="#e5e5e5"/><stop offset=".128" stop-color="#dcdcdc"/><stop offset=".130" stop-color="#c8c8c8"/><stop offset=".134" stop-color="#969696"/><stop offset=".137" stop-color="#7c7c7c"/><stop offset=".144" stop-color="#646464"/><stop offset=".152" stop-color="#535353"/><stop offset=".162" stop-color="#494949"/><stop offset=".191" stop-color="#3e3e3e"/><stop offset=".837" stop-color="#3c3c3c"/><stop offset=".850" stop-color="#444"/><stop offset=".859" stop-color="#575757"/><stop offset=".872" stop-color="#818181"/><stop offset=".883" stop-color="#c8c8c8"/><stop offset=".887" stop-color="#d0d0d0"/><stop offset=".902" stop-color="#c6c6c6"/><stop offset=".928" stop-color="#9f9f9f"/><stop offset=".946" stop-color="#8d8d8d"/><stop offset=".969" stop-color="#7f7f7f"/><stop offset="1" stop-color="#767676"/></linearGradient>
<linearGradient id="r8" x2="0" y2="1"><stop offset="0" stop-color="#747474"/><stop offset=".049" stop-color="#848484"/><stop offset=".082" stop-color="#9d9d9d"/><stop offset=".102" stop-color="#bebebe"/><stop offset=".110" stop-color="#d5d5d5"/><stop offset=".119" stop-color="#fafafa"/><stop offset=".122" stop-color="#fefefe"/><stop offset=".124" stop-color="#fdfdfd"/><stop offset=".126" stop-color="#f4f4f4"/><stop offset=".128" stop-color="#dfdfdf"/><stop offset=".132" stop-color="#9f9f9f"/><stop offset=".134" stop-color="#868686"/><stop offset=".136" stop-color="#787878"/><stop offset=".140" stop-color="#686868"/><stop offset=".147" stop-color="#565656"/><stop offset=".156" stop-color="#4a4a4a"/><stop offset=".183" stop-color="#3e3e3e"/><stop offset=".838" stop-color="#3c3c3c"/><stop offset=".853" stop-color="#464646"/><stop offset=".863" stop-color="#606060"/><stop offset=".873" stop-color="#828282"/><stop offset=".876" stop-color="#979797"/><stop offset=".881" stop-color="#ccc"/><stop offset=".883" stop-color="#d5d5d5"/><stop offset=".885" stop-color="#d8d8d8"/><stop offset=".898" stop-color="#cfcfcf"/><stop offset=".925" stop-color="#a3a3a3"/><stop offset=".943" stop-color="#8f8f8f"/><stop offset=".967" stop-color="#808080"/><stop offset="1" stop-color="#757575"/></linearGradient>
<linearGradient id="r9" x2="0" y2="1"><stop offset="0" stop-color="#747474"/><stop offset=".049" stop-color="#838383"/><stop offset=".081" stop-color="#9c9c9c"/><stop offset=".101" stop-color="#bdbdbd"/><stop offset=".109" stop-color="#d4d4d4"/><stop offset=".118" stop-color="#fafafa"/><stop offset=".122" stop-color="#fefefe"/><stop offset=".124" stop-color="#fcfcfc"/><stop offset=".126" stop-color="#f1f1f1"/><stop offset=".128" stop-color="#d9d9d9"/><stop offset=".133" stop-color="#8c8c8c"/><stop offset=".135" stop-color="#7b7b7b"/><stop offset=".139" stop-color="#6a6a6a"/><stop offset=".146" stop-color="#575757"/><stop offset=".155" stop-color="#4b4b4b"/><stop offset=".182" stop-color="#3e3e3e"/><stop offset=".838" stop-color="#3c3c3c"/><stop offset=".853" stop-color="#464646"/><stop offset=".863" stop-color="#5f5f5f"/><stop offset=".873" stop-color="#818181"/><stop offset=".876" stop-color="#959595"/><stop offset=".881" stop-color="#cbcbcb"/><stop offset=".883" stop-color="#d5d5d5"/><stop offset=".886" stop-color="#d9d9d9"/><stop offset=".899" stop-color="#cecece"/><stop offset=".924" stop-color="#a5a5a5"/><stop offset=".942" stop-color="#909090"/><stop offset=".967" stop-color="#808080"/><stop offset="1" stop-color="#757575"/></linearGradient>
<linearGradient id="r10" x2="0" y2="1"><stop offset="0" stop-color="#747474"/><stop offset=".049" stop-color="#848484"/><stop offset=".081" stop-color="#9d9d9d"/><stop offset=".100" stop-color="#bcbcbc"/><stop offset=".108" stop-color="#d3d3d3"/><stop offset=".117" stop-color="#fafafa"/><stop offset=".122" stop-color="#fefefe"/><stop offset=".123" stop-color="#fdfdfd"/><stop offset=".125" stop-color="#f5f5f5"/><stop offset=".127" stop-color="#e1e1e1"/><stop offset=".131" stop-color="#a1a1a1"/><stop offset=".133" stop-color="#888"/><stop offset=".135" stop-color="#787878"/><stop offset=".139" stop-color="#696969"/><stop offset=".146" stop-color="#565656"/><stop offset=".155" stop-color="#4a4a4a"/><stop offset=".181" stop-color="#3e3e3e"/><stop offset=".838" stop-color="#3c3c3c"/><stop offset=".853" stop-color="#464646"/><stop offset=".863" stop-color="#5e5e5e"/><stop offset=".873" stop-color="#808080"/><stop offset=".876" stop-color="#949494"/><stop offset=".882" stop-color="#d1d1d1"/><stop offset=".886" stop-color="#dadada"/><stop offset=".898" stop-color="#d1d1d1"/><stop offset=".924" stop-color="#a5a5a5"/><stop offset=".942" stop-color="#909090"/><stop offset=".967" stop-color="#808080"/><stop offset="1" stop-color="#757575"/></linearGradient>
<linearGradient id="r11" x2="0" y2="1"><stop offset="0" stop-color="#747474"/><stop offset=".048" stop-color="#838383"/><stop offset=".080" stop-color="#9c9c9c"/><stop offset=".092" stop-color="#acacac"/><stop offset=".100" stop-color="#bebebe"/><stop offset=".108" stop-color="#d6d6d6"/><stop offset=".116" stop-color="#f9f9f9"/><stop offset=".121" stop-color="#fefefe"/><stop offset=".123" stop-color="#fcfcfc"/><stop offset=".125" stop-color="#f2f2f2"/><stop offset=".127" stop-color="#dbdbdb"/><stop offset=".131" stop-color="#9b9b9b"/><stop offset=".133" stop-color="#848484"/><stop offset=".135" stop-color="#767676"/><stop offset=".138" stop-color="#6a6a6a"/><stop offset=".146" stop-color="#575757"/><stop offset=".154" stop-color="#4a4a4a"/><stop offset=".180" stop-color="#3e3e3e"/><stop offset=".838" stop-color="#3c3c3c"/><stop offset=".853" stop-color="#464646"/><stop offset=".864" stop-color="#616161"/><stop offset=".874" stop-color="#848484"/><stop offset=".882" stop-color="#d1d1d1"/><stop offset=".884" stop-color="#d9d9d9"/><stop offset=".886" stop-color="#dbdbdb"/><stop offset=".898" stop-color="#d2d2d2"/><stop offset=".924" stop-color="#a5a5a5"/><stop offset=".942" stop-color="#909090"/><stop offset=".967" stop-color="#808080"/><stop offset="1" stop-color="#757575"/></linearGradient>
<linearGradient id="r12" x2="0" y2="1"><stop offset="0" stop-color="#747474"/><stop offset=".048" stop-color="#848484"/><stop offset=".080" stop-color="#9d9d9d"/><stop offset=".099" stop-color="#bdbdbd"/><stop offset=".107" stop-color="#d4d4d4"/><stop offset=".115" stop-color="#f8f8f8"/><stop offset=".121" stop-color="#fefefe"/><stop offset=".123" stop-color="#fbfbfb"/><stop offset=".125" stop-color="#eee"/><stop offset=".127" stop-color="#d5d5d5"/><stop offset=".130" stop-color="#a4a4a4"/><stop offset=".132" stop-color="#898989"/><stop offset=".134" stop-color="#797979"/><stop offset=".138" stop-color="#696969"/><stop offset=".146" stop-color="#565656"/><stop offset=".154" stop-color="#4a4a4a"/><stop offset=".180" stop-color="#3e3e3e"/><stop offset=".838" stop-color="#3d3d3d"/><stop offset=".854" stop-color="#474747"/><stop offset=".865" stop-color="#636363"/><stop offset=".874" stop-color="#838383"/><stop offset=".876" stop-color="#919191"/><stop offset=".882" stop-color="#d1d1d1"/><stop offset=".884" stop-color="#dadada"/><stop offset=".886" stop-color="#dcdcdc"/><stop offset=".898" stop-color="#d3d3d3"/><stop offset=".924" stop-color="#a6a6a6"/><stop offset=".942" stop-color="#909090"/><stop offset=".967" stop-color="#808080"/><stop offset="1" stop-color="#757575"/></linearGradient>
<linearGradient id="r13" x2="0" y2="1"><stop offset="0" stop-color="#747474"/><stop offset=".048" stop-color="#848484"/><stop offset=".080" stop-color="#9d9d9d"/><stop offset=".098" stop-color="#bcbcbc"/><stop offset=".106" stop-color="#d3d3d3"/><stop offset=".115" stop-color="#fafafa"/><stop offset=".120" stop-color="#fefefe"/><stop offset=".122" stop-color="#fdfdfd"/><stop offset=".124" stop-color="#f4f4f4"/><stop offset=".126" stop-color="#dedede"/><stop offset=".130" stop-color="#9e9e9e"/><stop offset=".132" stop-color="#868686"/><stop offset=".134" stop-color="#777"/><stop offset=".138" stop-color="#676767"/><stop offset=".145" stop-color="#565656"/><stop offset=".153" stop-color="#4a4a4a"/><stop offset=".179" stop-color="#3e3e3e"/><stop offset=".838" stop-color="#3d3d3d"/><stop offset=".854" stop-color="#474747"/><stop offset=".865" stop-color="#626262"/><stop offset=".874" stop-color="#828282"/><stop offset=".877" stop-color="#989898"/><stop offset=".882" stop-color="#d0d0d0"/><stop offset=".884" stop-color="#dbdbdb"/><stop offset=".886" stop-color="#dedede"/><stop offset=".898" stop-color="#d4d4d4"/><stop offset=".923" stop-color="#a8a8a8"/><stop offset=".941" stop-color="#919191"/><stop offset=".966" stop-color="#818181"/><stop offset="1" stop-color="#767676"/></linearGradient>
<linearGradient id="r14" x2="0" y2="1"><stop offset="0" stop-color="#757575"/><stop offset=".048" stop-color="#848484"/><stop offset=".079" stop-color="#9d9d9d"/><stop offset=".098" stop-color="#bbb"/><stop offset=".105" stop-color="#d2d2d2"/><stop offset=".114" stop-color="#f9f9f9"/><stop offset=".120" stop-color="#fefefe"/><stop offset=".122" stop-color="#fcfcfc"/><stop offset=".124" stop-color="#f1f1f1"/><stop offset=".126" stop-color="#d8d8d8"/><stop offset=".131" stop-color="#8c8c8c"/><stop offset=".133" stop-color="#7a7a7a"/><stop offset=".137" stop-color="#696969"/><stop offset=".144" stop-color="#575757"/><stop offset=".152" stop-color="#4a4a4a"/><stop offset=".178" stop-color="#3e3e3e"/><stop offset=".839" stop-color="#3d3d3d"/><stop offset=".854" stop-color="#484848"/><stop offset=".866" stop-color="#656565"/><stop offset=".874" stop-color="#818181"/><stop offset=".877" stop-color="#979797"/><stop offset=".882" stop-color="#d0d0d0"/><stop offset=".884" stop-color="#dbdbdb"/><stop offset=".887" stop-color="#dfdfdf"/><stop offset=".898" stop-color="#d5d5d5"/><stop offset=".923" stop-color="#a8a8a8"/><stop offset=".941" stop-color="#929292"/><stop offset=".966" stop-color="#818181"/><stop offset="1" stop-color="#767676"/></linearGradient>
<linearGradient id="r15" x2="0" y2="1"><stop offset="0" stop-color="#757575"/><stop offset=".048" stop-color="#858585"/><stop offset=".079" stop-color="#9d9d9d"/><stop offset=".098" stop-color="#bcbcbc"/><stop offset=".105" stop-color="#d4d4d4"/><stop offset=".113" stop-color="#f8f8f8"/><stop offset=".120" stop-color="#fefefe"/><stop offset=".122" stop-color="#fdfdfd"/><stop offset=".123" stop-color="#f5f5f5"/><stop offset=".125" stop-color="#e1e1e1"/><stop offset=".129" stop-color="#a2a2a2"/><stop offset=".131" stop-color="#888"/><stop offset=".133" stop-color="#787878"/><stop offset=".137" stop-color="#686868"/><stop offset=".144" stop-color="#565656"/><stop offset=".152" stop-color="#4a4a4a"/><stop offset=".178" stop-color="#3e3e3e"/><stop offset=".839" stop-color="#3d3d3d"/><stop offset=".854" stop-color="#484848"/><stop offset=".866" stop-color="#646464"/><stop offset=".875" stop-color="#868686"/><stop offset=".883" stop-color="#d7d7d7"/><stop offset=".885" stop-color="#dfdfdf"/><stop offset=".887" stop-color="#e0e0e0"/><stop offset=".898" stop-color="#d7d7d7"/><stop offset=".923" stop-color="#a8a8a8"/><stop offset=".941" stop-color="#929292"/><stop offset=".966" stop-color="#818181"/><stop offset="1" stop-color="#767676"/></linearGradient>
<linearGradient id="r16" x2="0" y2="1"><stop offset="0" stop-color="#757575"/><stop offset=".047" stop-color="#848484"/><stop offset=".078" stop-color="#9d9d9d"/><stop offset=".097" stop-color="#bbb"/><stop offset=".104" stop-color="#d2d2d2"/><stop offset=".113" stop-color="#fafafa"/><stop offset=".119" stop-color="#fefefe"/><stop offset=".122" stop-color="#fcfcfc"/><stop offset=".123" stop-color="#f3f3f3"/><stop offset=".125" stop-color="#dcdcdc"/><stop offset=".129" stop-color="#9d9d9d"/><stop offset=".131" stop-color="#858585"/><stop offset=".133" stop-color="#767676"/><stop offset=".137" stop-color="#666"/><stop offset=".144" stop-color="#565656"/><stop offset=".152" stop-color="#494949"/><stop offset=".177" stop-color="#3e3e3e"/><stop offset=".839" stop-color="#3d3d3d"/><stop offset=".854" stop-color="#484848"/><stop offset=".860" stop-color="#535353"/><stop offset=".867" stop-color="#676767"/><stop offset=".875" stop-color="#858585"/><stop offset=".877" stop-color="#949494"/><stop offset=".883" stop-color="#d7d7d7"/><stop offset=".885" stop-color="#e0e0e0"/><stop offset=".887" stop-color="#e2e2e2"/><stop offset=".898" stop-color="#d8d8d8"/><stop offset=".922" stop-color="#aaa"/><stop offset=".940" stop-color="#939393"/><stop offset=".965" stop-color="#818181"/><stop offset="1" stop-color="#767676"/></linearGradient>
<linearGradient id="r17" x2="0" y2="1"><stop offset="0" stop-color="#757575"/><stop offset=".047" stop-color="#858585"/><stop offset=".078" stop-color="#9d9d9d"/><stop offset=".097" stop-color="#bcbcbc"/><stop offset=".104" stop-color="#d4d4d4"/><stop offset=".112" stop-color="#f9f9f9"/><stop offset=".119" stop-color="#fefefe"/><stop offset=".122" stop-color="#fcfcfc"/><stop offset=".123" stop-color="#f0f0f0"/><stop offset=".125" stop-color="#d8d8d8"/><stop offset=".130" stop-color="#8b8b8b"/><stop offset=".132" stop-color="#7a7a7a"/><stop offset=".136" stop-color="#686868"/><stop offset=".143" stop-color="#575757"/><stop offset=".151" stop-color="#4a4a4a"/><stop offset=".176" stop-color="#3e3e3e"/><stop offset=".839" stop-color="#3d3d3d"/><stop offset=".855" stop-color="#494949"/><stop offset=".861" stop-color="#545454"/><stop offset=".868" stop-color="#696969"/><stop offset=".875" stop-color="#848484"/><stop offset=".877" stop-color="#929292"/><stop offset=".883" stop-color="#d7d7d7"/><stop offset=".885" stop-color="#e1e1e1"/><stop offset=".887" stop-color="#e3e3e3"/><stop offset=".898" stop-color="#d9d9d9"/><stop offset=".922" stop-color="#ababab"/><stop offset=".940" stop-color="#939393"/><stop offset=".965" stop-color="#828282"/><stop offset="1" stop-color="#767676"/></linearGradient>
<linearGradient id="r18" x2="0" y2="1"><stop offset="0" stop-color="#757575"/><stop offset=".046" stop-color="#848484"/><stop offset=".077" stop-color="#9d9d9d"/><stop offset=".096" stop-color="#bbb"/><stop offset=".103" stop-color="#d2d2d2"/><stop offset=".112" stop-color="#fafafa"/><stop offset=".119" stop-color="#fefefe"/><stop offset=".121" stop-color="#fdfdfd"/><stop offset=".122" stop-color="#f5f5f5"/><stop offset=".124" stop-color="#e1e1e1"/><stop offset=".128" stop-color="#a2a2a2"/><stop offset=".130" stop-color="#888"/><stop offset=".132" stop-color="#787878"/><stop offset=".136" stop-color="#676767"/><stop offset=".143" stop-color="#565656"/><stop offset=".151" stop-color="#494949"/><stop offset=".176" stop-color="#3e3e3e"/><stop offset=".839" stop-color="#3d3d3d"/><stop offset=".855" stop-color="#484848"/><stop offset=".861" stop-color="#545454"/><stop offset=".868" stop-color="#686868"/><stop offset=".875" stop-color="#828282"/><stop offset=".878" stop-color="#9a9a9a"/><stop offset=".883" stop-color="#d7d7d7"/><stop offset=".885" stop-color="#e2e2e2"/><stop offset=".887" stop-color="#e5e5e5"/><stop offset=".897" stop-color="#dcdcdc"/><stop offset=".922" stop-color="#ababab"/><stop offset=".940" stop-color="#949494"/><stop offset=".965" stop-color="#828282"/><stop offset="1" stop-color="#767676"/></linearGradient>
<linearGradient id="r19" x2="0" y2="1"><stop offset="0" stop-color="#757575"/><stop offset=".046" stop-color="#848484"/><stop offset=".077" stop-color="#9d9d9d"/><stop offset=".096" stop-color="#bcbcbc"/><stop offset=".103" stop-color="#d4d4d4"/><stop offset=".111" stop-color="#f9f9f9"/><stop offset=".118" stop-color="#fefefe"/><stop offset=".121" stop-color="#fcfcfc"/><stop offset=".122" stop-color="#f3f3f3"/><stop offset=".124" stop-color="#ddd"/><stop offset=".128" stop-color="#9d9d9d"/><stop offset=".130" stop-color="#858585"/><stop offset=".132" stop-color="#767676"/><stop offset=".136" stop-color="#666"/><stop offset=".143" stop-color="#555"/><stop offset=".151" stop-color="#494949"/><stop offset=".175" stop-color="#3e3e3e"/><stop offset=".840" stop-color="#3d3d3d"/><stop offset=".850" stop-color="#414141"/><stop offset=".857" stop-color="#4b4b4b"/><stop offset=".864" stop-color="#5b5b5b"/><stop offset=".872" stop-color="#757575"/><stop offset=".875" stop-color="#818181"/><stop offset=".877" stop-color="#8f8f8f"/><stop offset=".882" stop-color="#cdcdcd"/><stop offset=".884" stop-color="#dedede"/><stop offset=".886" stop-color="#e5e5e5"/><stop offset=".888" stop-color="#e7e7e7"/><stop offset=".898" stop-color="#dcdcdc"/><stop offset=".921" stop-color="#adadad"/><stop offset=".939" stop-color="#959595"/><stop offset=".965" stop-color="#828282"/><stop offset="1" stop-color="#767676"/></linearGradient>
<linearGradient id="r20" x2="0" y2="1"><stop offset="0" stop-color="#757575"/><stop offset=".046" stop-color="#858585"/><stop offset=".077" stop-color="#9e9e9e"/><stop offset=".095" stop-color="#bababa"/><stop offset=".102" stop-color="#d2d2d2"/><stop offset=".111" stop-color="#fafafa"/><stop offset=".118" stop-color="#fefefe"/><stop offset=".121" stop-color="#fcfcfc"/><stop offset=".122" stop-color="#f1f1f1"/><stop offset=".124" stop-color="#d9d9d9"/><stop offset=".129" stop-color="#8c8c8c"/><stop offset=".131" stop-color="#7a7a7a"/><stop offset=".135" stop-color="#686868"/><stop offset=".142" stop-color="#565656"/><stop offset=".150" stop-color="#4a4a4a"/><stop offset=".175" stop-color="#3e3e3e"/><stop offset=".840" stop-color="#3d3d3d"/><stop offset=".850" stop-color="#414141"/><stop offset=".857" stop-color="#4a4a4a"/><stop offset=".864" stop-color="#5a5a5a"/><stop offset=".873" stop-color="#777"/><stop offset=".877" stop-color="#8d8d8d"/><stop offset=".884" stop-color="#dfdfdf"/><stop offset=".886" stop-color="#e8e8e8"/><stop offset=".888" stop-color="#e9e9e9"/><stop offset=".899" stop-color="#ddd"/><stop offset=".923" stop-color="#ababab"/><stop offset=".939" stop-color="#959595"/><stop offset=".965" stop-color="#828282"/><stop offset="1" stop-color="#767676"/></linearGradient>
<linearGradient id="r21" x2="0" y2="1"><stop offset="0" stop-color="#757575"/><stop offset=".046" stop-color="#858585"/><stop offset=".077" stop-color="#9e9e9e"/><stop offset=".088" stop-color="#adadad"/><stop offset=".097" stop-color="#c0c0c0"/><stop offset=".102" stop-color="#d3d3d3"/><stop offset=".111" stop-color="#fbfbfb"/><stop offset=".118" stop-color="#fefefe"/><stop offset=".121" stop-color="#fbfbfb"/><stop offset=".122" stop-color="#eee"/><stop offset=".124" stop-color="#d4d4d4"/><stop offset=".127" stop-color="#a4a4a4"/><stop offset=".129" stop-color="#898989"/><stop offset=".131" stop-color="#787878"/><stop offset=".135" stop-color="#686868"/><stop offset=".142" stop-color="#565656"/><stop offset=".150" stop-color="#494949"/><stop offset=".175" stop-color="#3e3e3e"/><stop offset=".841" stop-color="#3d3d3d"/><stop offset=".851" stop-color="#414141"/><stop offset=".858" stop-color="#4b4b4b"/><stop offset=".865" stop-color="#5c5c5c"/><stop offset=".873" stop-color="#767676"/><stop offset=".877" stop-color="#8b8b8b"/><stop offset=".884" stop-color="#e0e0e0"/><stop offset=".886" stop-color="#eaeaea"/><stop offset=".888" stop-color="#ededed"/><stop offset=".898" stop-color="#e1e1e1"/><stop offset=".922" stop-color="#adadad"/><stop offset=".938" stop-color="#969696"/><stop offset=".964" stop-color="#828282"/><stop offset="1" stop-color="#767676"/></linearGradient>
<linearGradient id="r22" x2="0" y2="1"><stop offset="0" stop-color="#757575"/><stop offset=".046" stop-color="#858585"/><stop offset=".076" stop-color="#9d9d9d"/><stop offset=".094" stop-color="#b9b9b9"/><stop offset=".101" stop-color="#d1d1d1"/><stop offset=".110" stop-color="#f9f9f9"/><stop offset=".117" stop-color="#fefefe"/><stop offset=".120" stop-color="#fdfdfd"/><stop offset=".122" stop-color="#f4f4f4"/><stop offset=".123" stop-color="#dfdfdf"/><stop offset=".127" stop-color="#a0a0a0"/><stop offset=".129" stop-color="#878787"/><stop offset=".131" stop-color="#777"/><stop offset=".135" stop-color="#676767"/><stop offset=".142" stop-color="#555"/><stop offset=".150" stop-color="#494949"/><stop offset=".174" stop-color="#3e3e3e"/><stop offset=".842" stop-color="#3d3d3d"/><stop offset=".852" stop-color="#424242"/><stop offset=".859" stop-color="#4c4c4c"/><stop offset=".865" stop-color="#5a5a5a"/><stop offset=".874" stop-color="#787878"/><stop offset=".876" stop-color="#818181"/><stop offset=".878" stop-color="#919191"/><stop offset=".884" stop-color="#e1e1e1"/><stop offset=".886" stop-color="#ededed"/><stop offset=".888" stop-color="#f0f0f0"/><stop offset=".898" stop-color="#e3e3e3"/><stop offset=".922" stop-color="#adadad"/><stop offset=".938" stop-color="#969696"/><stop offset=".964" stop-color="#828282"/><stop offset="1" stop-color="#767676"/></linearGradient>
<linearGradient id="r23" x2="0" y2="1"><stop offset="0" stop-color="#757575"/><stop offset=".046" stop-color="#858585"/><stop offset=".076" stop-color="#9e9e9e"/><stop offset=".094" stop-color="#bababa"/><stop offset=".101" stop-color="#d2d2d2"/><stop offset=".110" stop-color="#fafafa"/><stop offset=".117" stop-color="#fefefe"/><stop offset=".120" stop-color="#fcfcfc"/><stop offset=".122" stop-color="#f3f3f3"/><stop offset=".123" stop-color="#dcdcdc"/><stop offset=".127" stop-color="#9c9c9c"/><stop offset=".129" stop-color="#848484"/><stop offset=".131" stop-color="#767676"/><stop offset=".135" stop-color="#666"/><stop offset=".142" stop-color="#555"/><stop offset=".150" stop-color="#494949"/><stop offset=".174" stop-color="#3e3e3e"/><stop offset=".843" stop-color="#3d3d3d"/><stop offset=".853" stop-color="#424242"/><stop offset=".859" stop-color="#4b4b4b"/><stop offset=".866" stop-color="#5c5c5c"/><stop offset=".874" stop-color="#777"/><stop offset=".878" stop-color="#8f8f8f"/><stop offset=".883" stop-color="#d8d8d8"/><stop offset=".885" stop-color="#ebebeb"/><stop offset=".888" stop-color="#f4f4f4"/><stop offset=".898" stop-color="#e5e5e5"/><stop offset=".921" stop-color="#afafaf"/><stop offset=".937" stop-color="#989898"/><stop offset=".963" stop-color="#838383"/><stop offset="1" stop-color="#767676"/></linearGradient>
<linearGradient id="r24" x2="0" y2="1"><stop offset="0" stop-color="#757575"/><stop offset=".046" stop-color="#858585"/><stop offset=".076" stop-color="#9e9e9e"/><stop offset=".087" stop-color="#adadad"/><stop offset=".096" stop-color="#c0c0c0"/><stop offset=".101" stop-color="#d3d3d3"/><stop offset=".110" stop-color="#fbfbfb"/><stop offset=".117" stop-color="#fefefe"/><stop offset=".120" stop-color="#fcfcfc"/><stop offset=".122" stop-color="#f1f1f1"/><stop offset=".123" stop-color="#d8d8d8"/><stop offset=".128" stop-color="#8c8c8c"/><stop offset=".130" stop-color="#7a7a7a"/><stop offset=".134" stop-color="#686868"/><stop offset=".141" stop-color="#565656"/><stop offset=".149" stop-color="#494949"/><stop offset=".174" stop-color="#3e3e3e"/><stop offset=".843" stop-color="#3d3d3d"/><stop offset=".853" stop-color="#424242"/><stop offset=".860" stop-color="#4c4c4c"/><stop offset=".867" stop-color="#5e5e5e"/><stop offset=".875" stop-color="#7a7a7a"/><stop offset=".877" stop-color="#848484"/><stop offset=".878" stop-color="#979797"/><stop offset=".883" stop-color="#d8d8d8"/><stop offset=".885" stop-color="#ededed"/><stop offset=".888" stop-color="#f7f7f7"/><stop offset=".897" stop-color="#eaeaea"/><stop offset=".920" stop-color="#b2b2b2"/><stop offset=".936" stop-color="#999"/><stop offset=".963" stop-color="#838383"/><stop offset="1" stop-color="#767676"/></linearGradient>
<linearGradient id="r25" x2="0" y2="1"><stop offset="0" stop-color="#757575"/><stop offset=".045" stop-color="#858585"/><stop offset=".075" stop-color="#9d9d9d"/><stop offset=".087" stop-color="#aeaeae"/><stop offset=".096" stop-color="#c1c1c1"/><stop offset=".101" stop-color="#d4d4d4"/><stop offset=".110" stop-color="#fbfbfb"/><stop offset=".117" stop-color="#fefefe"/><stop offset=".120" stop-color="#fbfbfb"/><stop offset=".122" stop-color="#eee"/><stop offset=".123" stop-color="#d4d4d4"/><stop offset=".126" stop-color="#a4a4a4"/><stop offset=".128" stop-color="#898989"/><stop offset=".130" stop-color="#787878"/><stop offset=".134" stop-color="#676767"/><stop offset=".141" stop-color="#565656"/><stop offset=".149" stop-color="#494949"/><stop offset=".174" stop-color="#3e3e3e"/><stop offset=".844" stop-color="#3d3d3d"/><stop offset=".854" stop-color="#424242"/><stop offset=".860" stop-color="#4c4c4c"/><stop offset=".867" stop-color="#5d5d5d"/><stop offset=".875" stop-color="#787878"/><stop offset=".877" stop-color="#838383"/><stop offset=".878" stop-color="#949494"/><stop offset=".885" stop-color="#ededed"/><stop offset=".888" stop-color="#fbfbfb"/><stop offset=".897" stop-color="#ececec"/><stop offset=".919" stop-color="#b4b4b4"/><stop offset=".936" stop-color="#999"/><stop offset=".963" stop-color="#838383"/><stop offset="1" stop-color="#767676"/></linearGradient>
<linearGradient id="r26" x2="0" y2="1"><stop offset="0" stop-color="#767676"/><stop offset=".045" stop-color="#858585"/><stop offset=".075" stop-color="#9e9e9e"/><stop offset=".093" stop-color="#bababa"/><stop offset=".100" stop-color="#d2d2d2"/><stop offset=".109" stop-color="#fafafa"/><stop offset=".116" stop-color="#fefefe"/><stop offset=".119" stop-color="#fdfdfd"/><stop offset=".121" stop-color="#f4f4f4"/><stop offset=".122" stop-color="#dfdfdf"/><stop offset=".126" stop-color="#a0a0a0"/><stop offset=".128" stop-color="#868686"/><stop offset=".130" stop-color="#777"/><stop offset=".134" stop-color="#676767"/><stop offset=".141" stop-color="#555"/><stop offset=".149" stop-color="#494949"/><stop offset=".173" stop-color="#3e3e3e"/><stop offset=".844" stop-color="#3d3d3d"/><stop offset=".854" stop-color="#424242"/><stop offset=".860" stop-color="#4b4b4b"/><stop offset=".867" stop-color="#5c5c5c"/><stop offset=".875" stop-color="#787878"/><stop offset=".877" stop-color="#818181"/><stop offset=".878" stop-color="#929292"/><stop offset=".885" stop-color="#ededed"/><stop offset=".887" stop-color="#fafafa"/><stop offset=".889" stop-color="#fdfdfd"/><stop offset=".896" stop-color="#f1f1f1"/><stop offset=".918" stop-color="#b7b7b7"/><stop offset=".935" stop-color="#9b9b9b"/><stop offset=".962" stop-color="#848484"/><stop offset="1" stop-color="#767676"/></linearGradient>
<linearGradient id="r27" x2="0" y2="1"><stop offset="0" stop-color="#767676"/><stop offset=".045" stop-color="#858585"/><stop offset=".075" stop-color="#9e9e9e"/><stop offset=".086" stop-color="#adadad"/><stop offset=".095" stop-color="#c0c0c0"/><stop offset=".100" stop-color="#d3d3d3"/><stop offset=".109" stop-color="#fbfbfb"/><stop offset=".116" stop-color="#fefefe"/><stop offset=".119" stop-color="#fcfcfc"/><stop offset=".121" stop-color="#f2f2f2"/><stop offset=".122" stop-color="#dcdcdc"/><stop offset=".126" stop-color="#9c9c9c"/><stop offset=".128" stop-color="#848484"/><stop offset=".130" stop-color="#757575"/><stop offset=".134" stop-color="#666"/><stop offset=".141" stop-color="#555"/><stop offset=".149" stop-color="#494949"/><stop offset=".173" stop-color="#3e3e3e"/><stop offset=".845" stop-color="#3d3d3d"/><stop offset=".854" stop-color="#434343"/><stop offset=".861" stop-color="#4c4c4c"/><stop offset=".867" stop-color="#5b5b5b"/><stop offset=".875" stop-color="#777"/><stop offset=".877" stop-color="#818181"/><stop offset=".878" stop-color="#919191"/><stop offset=".885" stop-color="#ececec"/><stop offset=".887" stop-color="#fafafa"/><stop offset=".889" stop-color="#fefefe"/><stop offset=".895" stop-color="#f6f6f6"/><stop offset=".918" stop-color="#b7b7b7"/><stop offset=".935" stop-color="#9b9b9b"/><stop offset=".962" stop-color="#848484"/><stop offset="1" stop-color="#767676"/></linearGradient>
<linearGradient id="r28" x2="0" y2="1"><stop offset="0" stop-color="#767676"/><stop offset=".045" stop-color="#858585"/><stop offset=".075" stop-color="#9e9e9e"/><stop offset=".086" stop-color="#aeaeae"/><stop offset=".095" stop-color="#c1c1c1"/><stop offset=".100" stop-color="#d4d4d4"/><stop offset=".109" stop-color="#fbfbfb"/><stop offset=".116" stop-color="#fefefe"/><stop offset=".119" stop-color="#fcfcfc"/><stop offset=".121" stop-color="#f1f1f1"/><stop offset=".122" stop-color="#d8d8d8"/><stop offset=".127" stop-color="#8c8c8c"/><stop offset=".129" stop-color="#7a7a7a"/><stop offset=".133" stop-color="#686868"/><stop offset=".140" stop-color="#565656"/><stop offset=".148" stop-color="#494949"/><stop offset=".173" stop-color="#3e3e3e"/><stop offset=".845" stop-color="#3d3d3d"/><stop offset=".854" stop-color="#424242"/><stop offset=".861" stop-color="#4c4c4c"/><stop offset=".867" stop-color="#5a5a5a"/><stop offset=".875" stop-color="#767676"/><stop offset=".877" stop-color="#808080"/><stop offset=".878" stop-color="#909090"/><stop offset=".884" stop-color="#e0e0e0"/><stop offset=".886" stop-color="#f4f4f4"/><stop offset=".888" stop-color="#fdfdfd"/><stop offset=".890" stop-color="#fefefe"/><stop offset=".896" stop-color="#f7f7f7"/><stop offset=".918" stop-color="#b8b8b8"/><stop offset=".935" stop-color="#9b9b9b"/><stop offset=".962" stop-color="#848484"/><stop offset="1" stop-color="#767676"/></linearGradient>
<linearGradient id="r29" x2="0" y2="1"><stop offset="0" stop-color="#767676"/><stop offset=".044" stop-color="#858585"/><stop offset=".074" stop-color="#9d9d9d"/><stop offset=".086" stop-color="#aeaeae"/><stop offset=".095" stop-color="#c1c1c1"/><stop offset=".100" stop-color="#d5d5d5"/><stop offset=".108" stop-color="#fafafa"/><stop offset=".116" stop-color="#fefefe"/><stop offset=".119" stop-color="#fbfbfb"/><stop offset=".121" stop-color="#eee"/><stop offset=".122" stop-color="#d5d5d5"/><stop offset=".125" stop-color="#a4a4a4"/><stop offset=".127" stop-color="#898989"/><stop offset=".129" stop-color="#787878"/><stop offset=".133" stop-color="#686868"/><stop offset=".140" stop-color="#565656"/><stop offset=".148" stop-color="#494949"/><stop offset=".173" stop-color="#3e3e3e"/><stop offset=".845" stop-color="#3d3d3d"/><stop offset=".854" stop-color="#424242"/><stop offset=".861" stop-color="#4b4b4b"/><stop offset=".867" stop-color="#5a5a5a"/><stop offset=".875" stop-color="#767676"/><stop offset=".877" stop-color="#7f7f7f"/><stop offset=".878" stop-color="#8e8e8e"/><stop offset=".884" stop-color="#dedede"/><stop offset=".886" stop-color="#f3f3f3"/><stop offset=".888" stop-color="#fcfcfc"/><stop offset=".890" stop-color="#fefefe"/><stop offset=".896" stop-color="#f9f9f9"/><stop offset=".909" stop-color="#cecece"/><stop offset=".918" stop-color="#b8b8b8"/><stop offset=".935" stop-color="#9b9b9b"/><stop offset=".962" stop-color="#848484"/><stop offset="1" stop-color="#767676"/></linearGradient>
<linearGradient id="r30" x2="0" y2="1"><stop offset="0" stop-color="#767676"/><stop offset=".044" stop-color="#858585"/><stop offset=".074" stop-color="#9e9e9e"/><stop offset=".092" stop-color="#bbb"/><stop offset=".099" stop-color="#d2d2d2"/><stop offset=".108" stop-color="#fafafa"/><stop offset=".115" stop-color="#fefefe"/><stop offset=".118" stop-color="#fdfdfd"/><stop offset=".120" stop-color="#f5f5f5"/><stop offset=".122" stop-color="#e0e0e0"/><stop offset=".125" stop-color="#a1a1a1"/><stop offset=".127" stop-color="#878787"/><stop offset=".129" stop-color="#777"/><stop offset=".133" stop-color="#676767"/><stop offset=".140" stop-color="#555"/><stop offset=".148" stop-color="#494949"/><stop offset=".172" stop-color="#3e3e3e"/><stop offset=".846" stop-color="#3d3d3d"/><stop offset=".855" stop-color="#434343"/><stop offset=".862" stop-color="#4d4d4d"/><stop offset=".868" stop-color="#5c5c5c"/><stop offset=".876" stop-color="#797979"/><stop offset=".878" stop-color="#848484"/><stop offset=".879" stop-color="#989898"/><stop offset=".884" stop-color="#ddd"/><stop offset=".886" stop-color="#f2f2f2"/><stop offset=".888" stop-color="#fcfcfc"/><stop offset=".891" stop-color="#fefefe"/><stop offset=".897" stop-color="#f9f9f9"/><stop offset=".909" stop-color="#cfcfcf"/><stop offset=".918" stop-color="#b9b9b9"/><stop offset=".935" stop-color="#9c9c9c"/><stop offset=".962" stop-color="#848484"/><stop offset="1" stop-color="#767676"/></linearGradient>
<linearGradient id="r31" x2="0" y2="1"><stop offset="0" stop-color="#767676"/><stop offset=".044" stop-color="#858585"/><stop offset=".074" stop-color="#9e9e9e"/><stop offset=".085" stop-color="#adadad"/><stop offset=".094" stop-color="#c0c0c0"/><stop offset=".099" stop-color="#d3d3d3"/><stop offset=".108" stop-color="#fbfbfb"/><stop offset=".115" stop-color="#fefefe"/><stop offset=".118" stop-color="#fdfdfd"/><stop offset=".120" stop-color="#f4f4f4"/><stop offset=".122" stop-color="#dedede"/><stop offset=".125" stop-color="#9e9e9e"/><stop offset=".127" stop-color="#858585"/><stop offset=".129" stop-color="#767676"/><stop offset=".133" stop-color="#666"/><stop offset=".140" stop-color="#555"/><stop offset=".148" stop-color="#494949"/><stop offset=".172" stop-color="#3e3e3e"/><stop offset=".846" stop-color="#3d3d3d"/><stop offset=".855" stop-color="#424242"/><stop offset=".862" stop-color="#4c4c4c"/><stop offset=".868" stop-color="#5c5c5c"/><stop offset=".876" stop-color="#787878"/><stop offset=".878" stop-color="#838383"/><stop offset=".879" stop-color="#969696"/><stop offset=".884" stop-color="#dcdcdc"/><stop offset=".886" stop-color="#f2f2f2"/><stop offset=".888" stop-color="#fcfcfc"/><stop offset=".891" stop-color="#fefefe"/><stop offset=".897" stop-color="#fafafa"/><stop offset=".909" stop-color="#d0d0d0"/><stop offset=".918" stop-color="#b9b9b9"/><stop offset=".936" stop-color="#9b9b9b"/><stop offset=".963" stop-color="#848484"/><stop offset="1" stop-color="#767676"/></linearGradient>
<linearGradient id="r32" x2="0" y2="1"><stop offset="0" stop-color="#767676"/><stop offset=".044" stop-color="#858585"/><stop offset=".074" stop-color="#9e9e9e"/><stop offset=".085" stop-color="#aeaeae"/><stop offset=".094" stop-color="#c0c0c0"/><stop offset=".099" stop-color="#d4d4d4"/><stop offset=".108" stop-color="#fbfbfb"/><stop offset=".115" stop-color="#fefefe"/><stop offset=".118" stop-color="#fcfcfc"/><stop offset=".120" stop-color="#f2f2f2"/><stop offset=".122" stop-color="#dcdcdc"/><stop offset=".125" stop-color="#9c9c9c"/><stop offset=".127" stop-color="#848484"/><stop offset=".129" stop-color="#757575"/><stop offset=".133" stop-color="#666"/><stop offset=".140" stop-color="#555"/><stop offset=".148" stop-color="#494949"/><stop offset=".172" stop-color="#3e3e3e"/><stop offset=".846" stop-color="#3d3d3d"/><stop offset=".855" stop-color="#424242"/><stop offset=".862" stop-color="#4c4c4c"/><stop offset=".868" stop-color="#5b5b5b"/><stop offset=".876" stop-color="#787878"/><stop offset=".878" stop-color="#828282"/><stop offset=".879" stop-color="#959595"/><stop offset=".884" stop-color="#dbdbdb"/><stop offset=".886" stop-color="#f1f1f1"/><stop offset=".888" stop-color="#fcfcfc"/><stop offset=".891" stop-color="#fefefe"/><stop offset=".898" stop-color="#f9f9f9"/><stop offset=".908" stop-color="#d4d4d4"/><stop offset=".916" stop-color="#bebebe"/><stop offset=".936" stop-color="#9b9b9b"/><stop offset=".963" stop-color="#848484"/><stop offset="1" stop-color="#767676"/></linearGradient>
<linearGradient id="r33" x2="0" y2="1"><stop offset="0" stop-color="#767676"/><stop offset=".044" stop-color="#858585"/><stop offset=".074" stop-color="#9e9e9e"/><stop offset=".085" stop-color="#aeaeae"/><stop offset=".094" stop-color="#c1c1c1"/><stop offset=".099" stop-color="#d4d4d4"/><stop offset=".108" stop-color="#fbfbfb"/><stop offset=".115" stop-color="#fefefe"/><stop offset=".118" stop-color="#fcfcfc"/><stop offset=".120" stop-color="#f2f2f2"/><stop offset=".122" stop-color="#dadada"/><stop offset=".125" stop-color="#9a9a9a"/><stop offset=".127" stop-color="#838383"/><stop offset=".129" stop-color="#757575"/><stop offset=".133" stop-color="#656565"/><stop offset=".140" stop-color="#555"/><stop offset=".148" stop-color="#494949"/><stop offset=".172" stop-color="#3e3e3e"/><stop offset=".846" stop-color="#3d3d3d"/><stop offset=".855" stop-color="#424242"/><stop offset=".862" stop-color="#4b4b4b"/><stop offset=".868" stop-color="#5b5b5b"/><stop offset=".876" stop-color="#777"/><stop offset=".878" stop-color="#828282"/><stop offset=".879" stop-color="#949494"/><stop offset=".884" stop-color="#dbdbdb"/><stop offset=".886" stop-color="#f1f1f1"/><stop offset=".888" stop-color="#fcfcfc"/><stop offset=".891" stop-color="#fefefe"/><stop offset=".898" stop-color="#fbfbfb"/><stop offset=".908" stop-color="#d5d5d5"/><stop offset=".916" stop-color="#bfbfbf"/><stop offset=".936" stop-color="#9b9b9b"/><stop offset=".962" stop-color="#858585"/><stop offset="1" stop-color="#767676"/></linearGradient>
<linearGradient id="r34" x2="0" y2="1"><stop offset="0" stop-color="#767676"/><stop offset=".044" stop-color="#868686"/><stop offset=".074" stop-color="#9f9f9f"/><stop offset=".085" stop-color="#aeaeae"/><stop offset=".094" stop-color="#c1c1c1"/><stop offset=".099" stop-color="#d5d5d5"/><stop offset=".108" stop-color="#fcfcfc"/><stop offset=".115" stop-color="#fefefe"/><stop offset=".118" stop-color="#fcfcfc"/><stop offset=".120" stop-color="#f1f1f1"/><stop offset=".122" stop-color="#d9d9d9"/><stop offset=".126" stop-color="#8c8c8c"/><stop offset=".128" stop-color="#7a7a7a"/><stop offset=".132" stop-color="#686868"/><stop offset=".139" stop-color="#565656"/><stop offset=".147" stop-color="#4a4a4a"/><stop offset=".172" stop-color="#3e3e3e"/><stop offset=".847" stop-color="#3d3d3d"/><stop offset=".855" stop-color="#424242"/><stop offset=".862" stop-color="#4b4b4b"/><stop offset=".868" stop-color="#5a5a5a"/><stop offset=".876" stop-color="#777"/><stop offset=".878" stop-color="#818181"/><stop offset=".879" stop-color="#939393"/><stop offset=".884" stop-color="#dadada"/><stop offset=".886" stop-color="#f1f1f1"/><stop offset=".888" stop-color="#fcfcfc"/><stop offset=".891" stop-color="#fefefe"/><stop offset=".898" stop-color="#fbfbfb"/><stop offset=".916" stop-color="#c0c0c0"/><stop offset=".936" stop-color="#9b9b9b"/><stop offset=".962" stop-color="#858585"/><stop offset="1" stop-color="#767676"/></linearGradient>
<linearGradient id="r35" x2="0" y2="1"><stop offset="0" stop-color="#767676"/><stop offset=".044" stop-color="#868686"/><stop offset=".074" stop-color="#9f9f9f"/><stop offset=".085" stop-color="#aeaeae"/><stop offset=".094" stop-color="#c1c1c1"/><stop offset=".099" stop-color="#d5d5d5"/><stop offset=".108" stop-color="#fcfcfc"/><stop offset=".115" stop-color="#fefefe"/><stop offset=".118" stop-color="#fcfcfc"/><stop offset=".120" stop-color="#f1f1f1"/><stop offset=".122" stop-color="#d8d8d8"/><stop offset=".126" stop-color="#8c8c8c"/><stop offset=".128" stop-color="#7a7a7a"/><stop offset=".132" stop-color="#686868"/><stop offset=".139" stop-color="#565656"/><stop offset=".147" stop-color="#494949"/><stop offset=".172" stop-color="#3e3e3e"/><stop offset=".847" stop-color="#3d3d3d"/><stop offset=".855" stop-color="#424242"/><stop offset=".862" stop-color="#4b4b4b"/><stop offset=".868" stop-color="#5a5a5a"/><stop offset=".876" stop-color="#777"/><stop offset=".878" stop-color="#818181"/><stop offset=".879" stop-color="#929292"/><stop offset=".884" stop-color="#d9d9d9"/><stop offset=".886" stop-color="#f0f0f0"/><stop offset=".888" stop-color="#fbfbfb"/><stop offset=".891" stop-color="#fefefe"/><stop offset=".899" stop-color="#fafafa"/><stop offset=".908" stop-color="#d7d7d7"/><stop offset=".916" stop-color="#c0c0c0"/><stop offset=".926" stop-color="#acacac"/><stop offset=".937" stop-color="#9b9b9b"/><stop offset=".963" stop-color="#848484"/><stop offset="1" stop-color="#767676"/></linearGradient>
<linearGradient id="r36" x2="0" y2="1"><stop offset="0" stop-color="#767676"/><stop offset=".044" stop-color="#868686"/><stop offset=".074" stop-color="#9f9f9f"/><stop offset=".085" stop-color="#aeaeae"/><stop offset=".094" stop-color="#c1c1c1"/><stop offset=".099" stop-color="#d5d5d5"/><stop offset=".108" stop-color="#fcfcfc"/><stop offset=".115" stop-color="#fefefe"/><stop offset=".118" stop-color="#fcfcfc"/><stop offset=".120" stop-color="#f1f1f1"/><stop offset=".122" stop-color="#d8d8d8"/><stop offset=".126" stop-color="#8c8c8c"/><stop offset=".128" stop-color="#7a7a7a"/><stop offset=".132" stop-color="#686868"/><stop offset=".139" stop-color="#565656"/><stop offset=".147" stop-color="#494949"/><stop offset=".172" stop-color="#3e3e3e"/><stop offset=".847" stop-color="#3d3d3d"/><stop offset=".855" stop-color="#424242"/><stop offset=".862" stop-color="#4b4b4b"/><stop offset=".868" stop-color="#5a5a5a"/><stop offset=".876" stop-color="#767676"/><stop offset=".878" stop-color="#808080"/><stop offset=".879" stop-color="#929292"/><stop offset=".884" stop-color="#d9d9d9"/><stop offset=".886" stop-color="#f0f0f0"/><stop offset=".888" stop-color="#fbfbfb"/><stop offset=".891" stop-color="#fefefe"/><stop offset=".899" stop-color="#fbfbfb"/><stop offset=".909" stop-color="#d5d5d5"/><stop offset=".917" stop-color="#bfbfbf"/><stop offset=".937" stop-color="#9b9b9b"/><stop offset=".963" stop-color="#848484"/><stop offset="1" stop-color="#767676"/></linearGradient>
<linearGradient id="r37" x2="0" y2="1"><stop offset="0" stop-color="#767676"/><stop offset=".044" stop-color="#868686"/><stop offset=".074" stop-color="#9f9f9f"/><stop offset=".085" stop-color="#aeaeae"/><stop offset=".094" stop-color="#c1c1c1"/><stop offset=".099" stop-color="#d5d5d5"/><stop offset=".108" stop-color="#fcfcfc"/><stop offset=".115" stop-color="#fefefe"/><stop offset=".118" stop-color="#fcfcfc"/><stop offset=".120" stop-color="#f1f1f1"/><stop offset=".122" stop-color="#d8d8d8"/><stop offset=".126" stop-color="#8c8c8c"/><stop offset=".128" stop-color="#7a7a7a"/><stop offset=".132" stop-color="#686868"/><stop offset=".139" stop-color="#565656"/><stop offset=".147" stop-color="#494949"/><stop offset=".172" stop-color="#3e3e3e"/><stop offset=".847" stop-color="#3d3d3d"/><stop offset=".855" stop-color="#414141"/><stop offset=".862" stop-color="#4b4b4b"/><stop offset=".868" stop-color="#595959"/><stop offset=".876" stop-color="#767676"/><stop offset=".878" stop-color="#808080"/><stop offset=".879" stop-color="#929292"/><stop offset=".884" stop-color="#dadada"/><stop offset=".886" stop-color="#f1f1f1"/><stop offset=".888" stop-color="#fcfcfc"/><stop offset=".891" stop-color="#fefefe"/><stop offset=".900" stop-color="#f9f9f9"/><stop offset=".909" stop-color="#d5d5d5"/><stop offset=".917" stop-color="#bfbfbf"/><stop offset=".937" stop-color="#9b9b9b"/><stop offset=".963" stop-color="#848484"/><stop offset="1" stop-color="#767676"/></linearGradient>
<linearGradient id="r38" x2="0" y2="1"><stop offset="0" stop-color="#767676"/><stop offset=".044" stop-color="#868686"/><stop offset=".074" stop-color="#9f9f9f"/><stop offset=".085" stop-color="#aeaeae"/><stop offset=".094" stop-color="#c1c1c1"/><stop offset=".099" stop-color="#d5d5d5"/><stop offset=".108" stop-color="#fcfcfc"/><stop offset=".115" stop-color="#fefefe"/><stop offset=".118" stop-color="#fcfcfc"/><stop offset=".120" stop-color="#f1f1f1"/><stop offset=".122" stop-color="#d8d8d8"/><stop offset=".126" stop-color="#8c8c8c"/><stop offset=".128" stop-color="#7a7a7a"/><stop offset=".132" stop-color="#686868"/><stop offset=".139" stop-color="#565656"/><stop offset=".147" stop-color="#494949"/><stop offset=".172" stop-color="#3e3e3e"/><stop offset=".847" stop-color="#3d3d3d"/><stop offset=".855" stop-color="#414141"/><stop offset=".862" stop-color="#4b4b4b"/><stop offset=".868" stop-color="#595959"/><stop offset=".876" stop-color="#767676"/><stop offset=".878" stop-color="#808080"/><stop offset=".879" stop-color="#929292"/><stop offset=".884" stop-color="#dbdbdb"/><stop offset=".886" stop-color="#f2f2f2"/><stop offset=".888" stop-color="#fcfcfc"/><stop offset=".891" stop-color="#fefefe"/><stop offset=".900" stop-color="#fafafa"/><stop offset=".909" stop-color="#d6d6d6"/><stop offset=".917" stop-color="#c0c0c0"/><stop offset=".927" stop-color="#ababab"/><stop offset=".937" stop-color="#9b9b9b"/><stop offset=".963" stop-color="#858585"/><stop offset="1" stop-color="#767676"/></linearGradient>
<linearGradient id="r39" x2="0" y2="1"><stop offset="0" stop-color="#767676"/><stop offset=".044" stop-color="#868686"/><stop offset=".074" stop-color="#9f9f9f"/><stop offset=".085" stop-color="#aeaeae"/><stop offset=".094" stop-color="#c1c1c1"/><stop offset=".099" stop-color="#d5d5d5"/><stop offset=".108" stop-color="#fcfcfc"/><stop offset=".115" stop-color="#fefefe"/><stop offset=".118" stop-color="#fcfcfc"/><stop offset=".120" stop-color="#f1f1f1"/><stop offset=".122" stop-color="#d8d8d8"/><stop offset=".126" stop-color="#8c8c8c"/><stop offset=".128" stop-color="#7a7a7a"/><stop offset=".132" stop-color="#686868"/><stop offset=".139" stop-color="#565656"/><stop offset=".147" stop-color="#494949"/><stop offset=".172" stop-color="#3e3e3e"/><stop offset=".847" stop-color="#3d3d3d"/><stop offset=".855" stop-color="#424242"/><stop offset=".862" stop-color="#4b4b4b"/><stop offset=".868" stop-color="#5a5a5a"/><stop offset=".876" stop-color="#767676"/><stop offset=".878" stop-color="#818181"/><stop offset=".879" stop-color="#939393"/><stop offset=".884" stop-color="#dcdcdc"/><stop offset=".886" stop-color="#f2f2f2"/><stop offset=".888" stop-color="#fcfcfc"/><stop offset=".890" stop-color="#fefefe"/><stop offset=".900" stop-color="#fbfbfb"/><stop offset=".910" stop-color="#d4d4d4"/><stop offset=".917" stop-color="#c0c0c0"/><stop offset=".927" stop-color="#acacac"/><stop offset=".938" stop-color="#9b9b9b"/><stop offset=".964" stop-color="#848484"/><stop offset="1" stop-color="#767676"/></linearGradient>
<linearGradient id="r40" x2="0" y2="1"><stop offset="0" stop-color="#767676"/><stop offset=".044" stop-color="#868686"/><stop offset=".074" stop-color="#9f9f9f"/><stop offset=".085" stop-color="#aeaeae"/><stop offset=".094" stop-color="#c1c1c1"/><stop offset=".099" stop-color="#d5d5d5"/><stop offset=".108" stop-color="#fcfcfc"/><stop offset=".115" stop-color="#fefefe"/><stop offset=".118" stop-color="#fcfcfc"/><stop offset=".120" stop-color="#f1f1f1"/><stop offset=".122" stop-color="#d8d8d8"/><stop offset=".126" stop-color="#8c8c8c"/><stop offset=".128" stop-color="#7a7a7a"/><stop offset=".132" stop-color="#686868"/><stop offset=".139" stop-color="#565656"/><stop offset=".147" stop-color="#494949"/><stop offset=".172" stop-color="#3e3e3e"/><stop offset=".847" stop-color="#3d3d3d"/><stop offset=".855" stop-color="#424242"/><stop offset=".862" stop-color="#4b4b4b"/><stop offset=".868" stop-color="#5a5a5a"/><stop offset=".876" stop-color="#777"/><stop offset=".878" stop-color="#818181"/><stop offset=".879" stop-color="#949494"/><stop offset=".884" stop-color="#dedede"/><stop offset=".886" stop-color="#f3f3f3"/><stop offset=".888" stop-color="#fdfdfd"/><stop offset=".890" stop-color="#fefefe"/><stop offset=".900" stop-color="#fbfbfb"/><stop offset=".910" stop-color="#d5d5d5"/><stop offset=".918" stop-color="#bebebe"/><stop offset=".938" stop-color="#9b9b9b"/><stop offset=".964" stop-color="#848484"/><stop offset="1" stop-color="#767676"/></linearGradient>
<linearGradient id="r41" x2="0" y2="1"><stop offset="0" stop-color="#767676"/><stop offset=".044" stop-color="#868686"/><stop offset=".074" stop-color="#9f9f9f"/><stop offset=".085" stop-color="#aeaeae"/><stop offset=".094" stop-color="#c1c1c1"/><stop offset=".099" stop-color="#d5d5d5"/><stop offset=".108" stop-color="#fcfcfc"/><stop offset=".115" stop-color="#fefefe"/><stop offset=".118" stop-color="#fcfcfc"/><stop offset=".120" stop-color="#f1f1f1"/><stop offset=".122" stop-color="#d8d8d8"/><stop offset=".126" stop-color="#8c8c8c"/><stop offset=".128" stop-color="#7a7a7a"/><stop offset=".132" stop-color="#686868"/><stop offset=".139" stop-color="#565656"/><stop offset=".147" stop-color="#494949"/><stop offset=".172" stop-color="#3e3e3e"/><stop offset=".847" stop-color="#3d3d3d"/><stop offset=".855" stop-color="#424242"/><stop offset=".862" stop-color="#4b4b4b"/><stop offset=".868" stop-color="#5a5a5a"/><stop offset=".876" stop-color="#777"/><stop offset=".878" stop-color="#828282"/><stop offset=".879" stop-color="#959595"/><stop offset=".885" stop-color="#ececec"/><stop offset=".887" stop-color="#fafafa"/><stop offset=".890" stop-color="#fefefe"/><stop offset=".901" stop-color="#fafafa"/><stop offset=".910" stop-color="#d5d5d5"/><stop offset=".918" stop-color="#bfbfbf"/><stop offset=".938" stop-color="#9b9b9b"/><stop offset=".964" stop-color="#848484"/><stop offset="1" stop-color="#767676"/></linearGradient>
<linearGradient id="r42" x2="0" y2="1"><stop offset="0" stop-color="#767676"/><stop offset=".044" stop-color="#868686"/><stop offset=".074" stop-color="#9f9f9f"/><stop offset=".085" stop-color="#aeaeae"/><stop offset=".094" stop-color="#c1c1c1"/><stop offset=".099" stop-color="#d5d5d5"/><stop offset=".108" stop-color="#fcfcfc"/><stop offset=".115" stop-color="#fefefe"/><stop offset=".118" stop-color="#fcfcfc"/><stop offset=".120" stop-color="#f1f1f1"/><stop offset=".122" stop-color="#d8d8d8"/><stop offset=".126" stop-color="#8c8c8c"/><stop offset=".128" stop-color="#7a7a7a"/><stop offset=".132" stop-color="#686868"/><stop offset=".139" stop-color="#565656"/><stop offset=".147" stop-color="#494949"/><stop offset=".172" stop-color="#3e3e3e"/><stop offset=".847" stop-color="#3d3d3d"/><stop offset=".855" stop-color="#424242"/><stop offset=".862" stop-color="#4b4b4b"/><stop offset=".868" stop-color="#5a5a5a"/><stop offset=".876" stop-color="#777"/><stop offset=".878" stop-color="#828282"/><stop offset=".879" stop-color="#969696"/><stop offset=".883" stop-color="#d4d4d4"/><stop offset=".885" stop-color="#eee"/><stop offset=".887" stop-color="#fbfbfb"/><stop offset=".890" stop-color="#fefefe"/><stop offset=".901" stop-color="#fafafa"/><stop offset=".910" stop-color="#d5d5d5"/><stop offset=".918" stop-color="#bfbfbf"/><stop offset=".927" stop-color="#ababab"/><stop offset=".939" stop-color="#9a9a9a"/><stop offset=".964" stop-color="#848484"/><stop offset="1" stop-color="#767676"/></linearGradient>
<linearGradient id="r43" x2="0" y2="1"><stop offset="0" stop-color="#767676"/><stop offset=".044" stop-color="#868686"/><stop offset=".074" stop-color="#9f9f9f"/><stop offset=".085" stop-color="#aeaeae"/><stop offset=".094" stop-color="#c1c1c1"/><stop offset=".099" stop-color="#d5d5d5"/><stop offset=".108" stop-color="#fcfcfc"/><stop offset=".115" stop-color="#fefefe"/><stop offset=".118" stop-color="#fcfcfc"/><stop offset=".120" stop-color="#f1f1f1"/><stop offset=".122" stop-color="#d8d8d8"/><stop offset=".126" stop-color="#8c8c8c"/><stop offset=".128" stop-color="#7a7a7a"/><stop offset=".132" stop-color="#686868"/><stop offset=".139" stop-color="#565656"/><stop offset=".147" stop-color="#494949"/><stop offset=".172" stop-color="#3e3e3e"/><stop offset=".846" stop-color="#3d3d3d"/><stop offset=".855" stop-color="#424242"/><stop offset=".862" stop-color="#4c4c4c"/><stop offset=".868" stop-color="#5b5b5b"/><stop offset=".876" stop-color="#787878"/><stop offset=".878" stop-color="#848484"/><stop offset=".879" stop-color="#989898"/><stop offset=".883" stop-color="#d7d7d7"/><stop offset=".885" stop-color="#f0f0f0"/><stop offset=".887" stop-color="#fbfbfb"/><stop offset=".890" stop-color="#fefefe"/><stop offset=".901" stop-color="#fafafa"/><stop offset=".910" stop-color="#d5d5d5"/><stop offset=".918" stop-color="#bfbfbf"/><stop offset=".927" stop-color="#ababab"/><stop offset=".939" stop-color="#9a9a9a"/><stop offset=".964" stop-color="#848484"/><stop offset="1" stop-color="#767676"/></linearGradient>
<linearGradient id="r44" x2="0" y2="1"><stop offset="0" stop-color="#767676"/><stop offset=".044" stop-color="#868686"/><stop offset=".074" stop-color="#9f9f9f"/><stop offset=".085" stop-color="#aeaeae"/><stop offset=".094" stop-color="#c1c1c1"/><stop offset=".099" stop-color="#d5d5d5"/><stop offset=".108" stop-color="#fcfcfc"/><stop offset=".115" stop-color="#fefefe"/><stop offset=".118" stop-color="#fcfcfc"/><stop offset=".120" stop-color="#f1f1f1"/><stop offset=".122" stop-color="#d8d8d8"/><stop offset=".126" stop-color="#8c8c8c"/><stop offset=".128" stop-color="#7a7a7a"/><stop offset=".132" stop-color="#686868"/><stop offset=".139" stop-color="#565656"/><stop offset=".147" stop-color="#494949"/><stop offset=".172" stop-color="#3e3e3e"/><stop offset=".846" stop-color="#3d3d3d"/><stop offset=".854" stop-color="#414141"/><stop offset=".861" stop-color="#4a4a4a"/><stop offset=".867" stop-color="#585858"/><stop offset=".875" stop-color="#747474"/><stop offset=".877" stop-color="#7e7e7e"/><stop offset=".878" stop-color="#8e8e8e"/><stop offset=".880" stop-color="#a9a9a9"/><stop offset=".883" stop-color="#d9d9d9"/><stop offset=".885" stop-color="#f1f1f1"/><stop offset=".887" stop-color="#fcfcfc"/><stop offset=".890" stop-color="#fefefe"/><stop offset=".901" stop-color="#fafafa"/><stop offset=".910" stop-color="#d5d5d5"/><stop offset=".918" stop-color="#bfbfbf"/><stop offset=".938" stop-color="#9b9b9b"/><stop offset=".964" stop-color="#848484"/><stop offset="1" stop-color="#767676"/></linearGradient>
<linearGradient id="r45" x2="0" y2="1"><stop offset="0" stop-color="#767676"/><stop offset=".044" stop-color="#868686"/><stop offset=".074" stop-color="#9f9f9f"/><stop offset=".085" stop-color="#aeaeae"/><stop offset=".094" stop-color="#c1c1c1"/><stop offset=".099" stop-color="#d5d5d5"/><stop offset=".108" stop-color="#fcfcfc"/><stop offset=".115" stop-color="#fefefe"/><stop offset=".118" stop-color="#fcfcfc"/><stop offset=".120" stop-color="#f1f1f1"/><stop offset=".122" stop-color="#d8d8d8"/><stop offset=".126" stop-color="#8c8c8c"/><stop offset=".128" stop-color="#7a7a7a"/><stop offset=".132" stop-color="#686868"/><stop offset=".139" stop-color="#565656"/><stop offset=".147" stop-color="#494949"/><stop offset=".172" stop-color="#3e3e3e"/><stop offset=".846" stop-color="#3d3d3d"/><stop offset=".854" stop-color="#414141"/><stop offset=".861" stop-color="#4a4a4a"/><stop offset=".867" stop-color="#595959"/><stop offset=".875" stop-color="#757575"/><stop offset=".877" stop-color="#7f7f7f"/><stop offset=".878" stop-color="#909090"/><stop offset=".883" stop-color="#dcdcdc"/><stop offset=".885" stop-color="#f3f3f3"/><stop offset=".887" stop-color="#fcfcfc"/><stop offset=".889" stop-color="#fefefe"/><stop offset=".900" stop-color="#fbfbfb"/><stop offset=".910" stop-color="#d5d5d5"/><stop offset=".918" stop-color="#bfbfbf"/><stop offset=".927" stop-color="#aaa"/><stop offset=".939" stop-color="#9a9a9a"/><stop offset=".964" stop-color="#848484"/><stop offset="1" stop-color="#767676"/></linearGradient>
<linearGradient id="r46" x2="0" y2="1"><stop offset="0" stop-color="#767676"/><stop offset=".044" stop-color="#868686"/><stop offset=".074" stop-color="#9f9f9f"/><stop offset=".085" stop-color="#aeaeae"/><stop offset=".094" stop-color="#c1c1c1"/><stop offset=".099" stop-color="#d5d5d5"/><stop offset=".108" stop-color="#fcfcfc"/><stop offset=".115" stop-color="#fefefe"/><stop offset=".118" stop-color="#fcfcfc"/><stop offset=".120" stop-color="#f1f1f1"/><stop offset=".122" stop-color="#d9d9d9"/><stop offset=".126" stop-color="#8c8c8c"/><stop offset=".128" stop-color="#7a7a7a"/><stop offset=".132" stop-color="#686868"/><stop offset=".139" stop-color="#565656"/><stop offset=".147" stop-color="#4a4a4a"/><stop offset=".172" stop-color="#3e3e3e"/><stop offset=".846" stop-color="#3d3d3d"/><stop offset=".854" stop-color="#414141"/><stop offset=".861" stop-color="#4b4b4b"/><stop offset=".867" stop-color="#595959"/><stop offset=".875" stop-color="#767676"/><stop offset=".877" stop-color="#808080"/><stop offset=".878" stop-color="#929292"/><stop offset=".883" stop-color="#dedede"/><stop offset=".885" stop-color="#f4f4f4"/><stop offset=".887" stop-color="#fdfdfd"/><stop offset=".889" stop-color="#fefefe"/><stop offset=".900" stop-color="#fbfbfb"/><stop offset=".910" stop-color="#d4d4d4"/><stop offset=".917" stop-color="#c0c0c0"/><stop offset=".927" stop-color="#acacac"/><stop offset=".938" stop-color="#9a9a9a"/><stop offset=".964" stop-color="#848484"/><stop offset="1" stop-color="#767676"/></linearGradient>
<linearGradient id="r47" x2="0" y2="1"><stop offset="0" stop-color="#767676"/><stop offset=".044" stop-color="#858585"/><stop offset=".074" stop-color="#9e9e9e"/><stop offset=".085" stop-color="#aeaeae"/><stop offset=".094" stop-color="#c1c1c1"/><stop offset=".099" stop-color="#d4d4d4"/><stop offset=".108" stop-color="#fbfbfb"/><stop offset=".115" stop-color="#fefefe"/><stop offset=".118" stop-color="#fcfcfc"/><stop offset=".120" stop-color="#f2f2f2"/><stop offset=".122" stop-color="#dbdbdb"/><stop offset=".125" stop-color="#9b9b9b"/><stop offset=".127" stop-color="#838383"/><stop offset=".129" stop-color="#757575"/><stop offset=".133" stop-color="#666"/><stop offset=".140" stop-color="#555"/><stop offset=".148" stop-color="#494949"/><stop offset=".172" stop-color="#3e3e3e"/><stop offset=".846" stop-color="#3d3d3d"/><stop offset=".854" stop-color="#424242"/><stop offset=".861" stop-color="#4b4b4b"/><stop offset=".867" stop-color="#5a5a5a"/><stop offset=".875" stop-color="#767676"/><stop offset=".877" stop-color="#818181"/><stop offset=".878" stop-color="#949494"/><stop offset=".884" stop-color="#ececec"/><stop offset=".886" stop-color="#fafafa"/><stop offset=".889" stop-color="#fefefe"/><stop offset=".900" stop-color="#fafafa"/><stop offset=".909" stop-color="#d6d6d6"/><stop offset=".917" stop-color="#c0c0c0"/><stop offset=".927" stop-color="#ababab"/><stop offset=".938" stop-color="#9a9a9a"/><stop offset=".964" stop-color="#848484"/><stop offset="1" stop-color="#767676"/></linearGradient>
<linearGradient id="r48" x2="0" y2="1"><stop offset="0" stop-color="#767676"/><stop offset=".044" stop-color="#858585"/><stop offset=".074" stop-color="#9e9e9e"/><stop offset=".092" stop-color="#bbb"/><stop offset=".099" stop-color="#d3d3d3"/><stop offset=".108" stop-color="#fafafa"/><stop offset=".115" stop-color="#fefefe"/><stop offset=".118" stop-color="#fdfdfd"/><stop offset=".120" stop-color="#f4f4f4"/><stop offset=".122" stop-color="#dedede"/><stop offset=".125" stop-color="#9f9f9f"/><stop offset=".127" stop-color="#868686"/><stop offset=".129" stop-color="#777"/><stop offset=".133" stop-color="#676767"/><stop offset=".140" stop-color="#555"/><stop offset=".148" stop-color="#494949"/><stop offset=".173" stop-color="#3e3e3e"/><stop offset=".846" stop-color="#3d3d3d"/><stop offset=".854" stop-color="#424242"/><stop offset=".861" stop-color="#4b4b4b"/><stop offset=".867" stop-color="#5a5a5a"/><stop offset=".875" stop-color="#777"/><stop offset=".877" stop-color="#828282"/><stop offset=".878" stop-color="#969696"/><stop offset=".882" stop-color="#d4d4d4"/><stop offset=".884" stop-color="#eee"/><stop offset=".886" stop-color="#fbfbfb"/><stop offset=".889" stop-color="#fefefe"/><stop offset=".900" stop-color="#fafafa"/><stop offset=".909" stop-color="#d5d5d5"/><stop offset=".917" stop-color="#bfbfbf"/><stop offset=".927" stop-color="#ababab"/><stop offset=".938" stop-color="#9a9a9a"/><stop offset=".964" stop-color="#848484"/><stop offset="1" stop-color="#767676"/></linearGradient>
<linearGradient id="r49" x2="0" y2="1"><stop offset="0" stop-color="#767676"/><stop offset=".044" stop-color="#858585"/><stop offset=".074" stop-color="#9e9e9e"/><stop offset=".086" stop-color="#aeaeae"/><stop offset=".095" stop-color="#c1c1c1"/><stop offset=".100" stop-color="#d5d5d5"/><stop offset=".109" stop-color="#fbfbfb"/><stop offset=".116" stop-color="#fefefe"/><stop offset=".119" stop-color="#fbfbfb"/><stop offset=".121" stop-color="#eee"/><stop offset=".127" stop-color="#898989"/><stop offset=".129" stop-color="#797979"/><stop offset=".133" stop-color="#686868"/><stop offset=".140" stop-color="#565656"/><stop offset=".148" stop-color="#4a4a4a"/><stop offset=".173" stop-color="#3e3e3e"/><stop offset=".845" stop-color="#3d3d3d"/><stop offset=".854" stop-color="#424242"/><stop offset=".861" stop-color="#4c4c4c"/><stop offset=".867" stop-color="#5b5b5b"/><stop offset=".875" stop-color="#787878"/><stop offset=".877" stop-color="#838383"/><stop offset=".878" stop-color="#989898"/><stop offset=".882" stop-color="#d7d7d7"/><stop offset=".884" stop-color="#f0f0f0"/><stop offset=".886" stop-color="#fcfcfc"/><stop offset=".889" stop-color="#fefefe"/><stop offset=".899" stop-color="#fbfbfb"/><stop offset=".909" stop-color="#d4d4d4"/><stop offset=".916" stop-color="#c1c1c1"/><stop offset=".926" stop-color="#acacac"/><stop offset=".937" stop-color="#9b9b9b"/><stop offset=".963" stop-color="#848484"/><stop offset="1" stop-color="#767676"/></linearGradient>
<linearGradient id="r50" x2="0" y2="1"><stop offset="0" stop-color="#767676"/><stop offset=".045" stop-color="#858585"/><stop offset=".075" stop-color="#9e9e9e"/><stop offset=".093" stop-color="#bbb"/><stop offset=".100" stop-color="#d3d3d3"/><stop offset=".109" stop-color="#fafafa"/><stop offset=".116" stop-color="#fefefe"/><stop offset=".119" stop-color="#fcfcfc"/><stop offset=".121" stop-color="#f1f1f1"/><stop offset=".122" stop-color="#dadada"/><stop offset=".126" stop-color="#9b9b9b"/><stop offset=".128" stop-color="#848484"/><stop offset=".130" stop-color="#767676"/><stop offset=".134" stop-color="#666"/><stop offset=".141" stop-color="#555"/><stop offset=".149" stop-color="#494949"/><stop offset=".174" stop-color="#3e3e3e"/><stop offset=".845" stop-color="#3d3d3d"/><stop offset=".854" stop-color="#414141"/><stop offset=".860" stop-color="#4a4a4a"/><stop offset=".866" stop-color="#585858"/><stop offset=".874" stop-color="#747474"/><stop offset=".876" stop-color="#7e7e7e"/><stop offset=".878" stop-color="#8e8e8e"/><stop offset=".879" stop-color="#a9a9a9"/><stop offset=".882" stop-color="#dadada"/><stop offset=".884" stop-color="#f1f1f1"/><stop offset=".886" stop-color="#fcfcfc"/><stop offset=".889" stop-color="#fefefe"/><stop offset=".899" stop-color="#fbfbfb"/><stop offset=".908" stop-color="#d7d7d7"/><stop offset=".916" stop-color="#c0c0c0"/><stop offset=".926" stop-color="#ababab"/><stop offset=".937" stop-color="#9a9a9a"/><stop offset=".963" stop-color="#848484"/><stop offset="1" stop-color="#767676"/></linearGradient>
<linearGradient id="r51" x2="0" y2="1"><stop offset="0" stop-color="#767676"/><stop offset=".045" stop-color="#858585"/><stop offset=".075" stop-color="#9e9e9e"/><stop offset=".094" stop-color="#bcbcbc"/><stop offset=".101" stop-color="#d4d4d4"/><stop offset=".109" stop-color="#f8f8f8"/><stop offset=".116" stop-color="#fefefe"/><stop offset=".119" stop-color="#fdfdfd"/><stop offset=".121" stop-color="#f4f4f4"/><stop offset=".122" stop-color="#dfdfdf"/><stop offset=".126" stop-color="#a2a2a2"/><stop offset=".128" stop-color="#888"/><stop offset=".130" stop-color="#787878"/><stop offset=".134" stop-color="#686868"/><stop offset=".141" stop-color="#565656"/><stop offset=".149" stop-color="#4a4a4a"/><stop offset=".174" stop-color="#3e3e3e"/><stop offset=".845" stop-color="#3d3d3d"/><stop offset=".854" stop-color="#414141"/><stop offset=".860" stop-color="#4a4a4a"/><stop offset=".866" stop-color="#595959"/><stop offset=".874" stop-color="#757575"/><stop offset=".876" stop-color="#7f7f7f"/><stop offset=".878" stop-color="#909090"/><stop offset=".882" stop-color="#dcdcdc"/><stop offset=".884" stop-color="#f3f3f3"/><stop offset=".886" stop-color="#fcfcfc"/><stop offset=".888" stop-color="#fefefe"/><stop offset=".899" stop-color="#fafafa"/><stop offset=".908" stop-color="#d5d5d5"/><stop offset=".916" stop-color="#bfbfbf"/><stop offset=".926" stop-color="#ababab"/><stop offset=".937" stop-color="#9a9a9a"/><stop offset=".963" stop-color="#848484"/><stop offset="1" stop-color="#767676"/></linearGradient>
<linearGradient id="r52" x2="0" y2="1"><stop offset="0" stop-color="#757575"/><stop offset=".046" stop-color="#868686"/><stop offset=".076" stop-color="#9e9e9e"/><stop offset=".094" stop-color="#bbb"/><stop offset=".101" stop-color="#d2d2d2"/><stop offset=".110" stop-color="#f9f9f9"/><stop offset=".117" stop-color="#fefefe"/><stop offset=".120" stop-color="#fbfbfb"/><stop offset=".122" stop-color="#efefef"/><stop offset=".123" stop-color="#d7d7d7"/><stop offset=".127" stop-color="#9a9a9a"/><stop offset=".129" stop-color="#838383"/><stop offset=".131" stop-color="#767676"/><stop offset=".135" stop-color="#666"/><stop offset=".142" stop-color="#565656"/><stop offset=".150" stop-color="#494949"/><stop offset=".175" stop-color="#3e3e3e"/><stop offset=".845" stop-color="#3d3d3d"/><stop offset=".854" stop-color="#414141"/><stop offset=".860" stop-color="#4b4b4b"/><stop offset=".866" stop-color="#595959"/><stop offset=".874" stop-color="#767676"/><stop offset=".876" stop-color="#808080"/><stop offset=".878" stop-color="#939393"/><stop offset=".882" stop-color="#dedede"/><stop offset=".884" stop-color="#f4f4f4"/><stop offset=".886" stop-color="#fdfdfd"/><stop offset=".888" stop-color="#fefefe"/><stop offset=".898" stop-color="#fbfbfb"/><stop offset=".908" stop-color="#d4d4d4"/><stop offset=".915" stop-color="#c0c0c0"/><stop offset=".925" stop-color="#acacac"/><stop offset=".936" stop-color="#9a9a9a"/><stop offset=".962" stop-color="#848484"/><stop offset="1" stop-color="#767676"/></linearGradient>
<linearGradient id="r53" x2="0" y2="1"><stop offset="0" stop-color="#757575"/><stop offset=".045" stop-color="#858585"/><stop offset=".076" stop-color="#9e9e9e"/><stop offset=".095" stop-color="#bcbcbc"/><stop offset=".102" stop-color="#d3d3d3"/><stop offset=".111" stop-color="#fafafa"/><stop offset=".117" stop-color="#fefefe"/><stop offset=".120" stop-color="#fcfcfc"/><stop offset=".122" stop-color="#f3f3f3"/><stop offset=".123" stop-color="#ddd"/><stop offset=".127" stop-color="#a1a1a1"/><stop offset=".129" stop-color="#888"/><stop offset=".131" stop-color="#787878"/><stop offset=".135" stop-color="#686868"/><stop offset=".142" stop-color="#575757"/><stop offset=".150" stop-color="#4a4a4a"/><stop offset=".176" stop-color="#3e3e3e"/><stop offset=".845" stop-color="#3d3d3d"/><stop offset=".854" stop-color="#424242"/><stop offset=".860" stop-color="#4b4b4b"/><stop offset=".866" stop-color="#5a5a5a"/><stop offset=".874" stop-color="#777"/><stop offset=".876" stop-color="#818181"/><stop offset=".878" stop-color="#959595"/><stop offset=".883" stop-color="#ededed"/><stop offset=".885" stop-color="#fafafa"/><stop offset=".888" stop-color="#fefefe"/><stop offset=".898" stop-color="#fbfbfb"/><stop offset=".907" stop-color="#d6d6d6"/><stop offset=".915" stop-color="#c0c0c0"/><stop offset=".925" stop-color="#ababab"/><stop offset=".936" stop-color="#9a9a9a"/><stop offset=".962" stop-color="#848484"/><stop offset="1" stop-color="#767676"/></linearGradient>
<linearGradient id="r54" x2="0" y2="1"><stop offset="0" stop-color="#757575"/><stop offset=".045" stop-color="#858585"/><stop offset=".076" stop-color="#9d9d9d"/><stop offset=".095" stop-color="#bbb"/><stop offset=".102" stop-color="#d1d1d1"/><stop offset=".112" stop-color="#fbfbfb"/><stop offset=".118" stop-color="#fefefe"/><stop offset=".121" stop-color="#fbfbfb"/><stop offset=".122" stop-color="#eee"/><stop offset=".124" stop-color="#d5d5d5"/><stop offset=".128" stop-color="#999"/><stop offset=".130" stop-color="#838383"/><stop offset=".132" stop-color="#767676"/><stop offset=".136" stop-color="#676767"/><stop offset=".143" stop-color="#565656"/><stop offset=".151" stop-color="#4a4a4a"/><stop offset=".177" stop-color="#3e3e3e"/><stop offset=".845" stop-color="#3d3d3d"/><stop offset=".854" stop-color="#424242"/><stop offset=".860" stop-color="#4b4b4b"/><stop offset=".866" stop-color="#5a5a5a"/><stop offset=".874" stop-color="#777"/><stop offset=".876" stop-color="#828282"/><stop offset=".878" stop-color="#979797"/><stop offset=".881" stop-color="#d5d5d5"/><stop offset=".883" stop-color="#efefef"/><stop offset=".885" stop-color="#fbfbfb"/><stop offset=".888" stop-color="#fefefe"/><stop offset=".898" stop-color="#fafafa"/><stop offset=".907" stop-color="#d5d5d5"/><stop offset=".915" stop-color="#bfbfbf"/><stop offset=".925" stop-color="#aaa"/><stop offset=".936" stop-color="#9a9a9a"/><stop offset=".962" stop-color="#848484"/><stop offset="1" stop-color="#767676"/></linearGradient>
<linearGradient id="r55" x2="0" y2="1"><stop offset="0" stop-color="#757575"/><stop offset=".046" stop-color="#858585"/><stop offset=".077" stop-color="#9e9e9e"/><stop offset=".096" stop-color="#bcbcbc"/><stop offset=".103" stop-color="#d2d2d2"/><stop offset=".112" stop-color="#f9f9f9"/><stop offset=".118" stop-color="#fefefe"/><stop offset=".121" stop-color="#fcfcfc"/><stop offset=".122" stop-color="#f1f1f1"/><stop offset=".124" stop-color="#dbdbdb"/><stop offset=".128" stop-color="#9f9f9f"/><stop offset=".130" stop-color="#878787"/><stop offset=".132" stop-color="#787878"/><stop offset=".136" stop-color="#686868"/><stop offset=".143" stop-color="#575757"/><stop offset=".151" stop-color="#4a4a4a"/><stop offset=".177" stop-color="#3e3e3e"/><stop offset=".844" stop-color="#3d3d3d"/><stop offset=".854" stop-color="#424242"/><stop offset=".860" stop-color="#4c4c4c"/><stop offset=".866" stop-color="#5b5b5b"/><stop offset=".874" stop-color="#787878"/><stop offset=".877" stop-color="#8d8d8d"/><stop offset=".878" stop-color="#a8a8a8"/><stop offset=".881" stop-color="#d8d8d8"/><stop offset=".883" stop-color="#f1f1f1"/><stop offset=".885" stop-color="#fcfcfc"/><stop offset=".888" stop-color="#fefefe"/><stop offset=".897" stop-color="#fbfbfb"/><stop offset=".907" stop-color="#d4d4d4"/><stop offset=".914" stop-color="#c0c0c0"/><stop offset=".924" stop-color="#acacac"/><stop offset=".935" stop-color="#9a9a9a"/><stop offset=".962" stop-color="#838383"/><stop offset="1" stop-color="#767676"/></linearGradient>
<linearGradient id="r56" x2="0" y2="1"><stop offset="0" stop-color="#757575"/><stop offset=".046" stop-color="#858585"/><stop offset=".077" stop-color="#9e9e9e"/><stop offset=".097" stop-color="#bdbdbd"/><stop offset=".104" stop-color="#d4d4d4"/><stop offset=".113" stop-color="#fafafa"/><stop offset=".118" stop-color="#fefefe"/><stop offset=".121" stop-color="#fdfdfd"/><stop offset=".122" stop-color="#f4f4f4"/><stop offset=".124" stop-color="#dfdfdf"/><stop offset=".129" stop-color="#979797"/><stop offset=".131" stop-color="#828282"/><stop offset=".133" stop-color="#757575"/><stop offset=".137" stop-color="#676767"/><stop offset=".144" stop-color="#565656"/><stop offset=".152" stop-color="#4a4a4a"/><stop offset=".178" stop-color="#3e3e3e"/><stop offset=".844" stop-color="#3d3d3d"/><stop offset=".853" stop-color="#414141"/><stop offset=".859" stop-color="#4a4a4a"/><stop offset=".865" stop-color="#585858"/><stop offset=".873" stop-color="#757575"/><stop offset=".875" stop-color="#7f7f7f"/><stop offset=".877" stop-color="#909090"/><stop offset=".881" stop-color="#dbdbdb"/><stop offset=".883" stop-color="#f2f2f2"/><stop offset=".885" stop-color="#fcfcfc"/><stop offset=".888" stop-color="#fefefe"/><stop offset=".897" stop-color="#fbfbfb"/><stop offset=".906" stop-color="#d6d6d6"/><stop offset=".914" stop-color="#bfbfbf"/><stop offset=".924" stop-color="#ababab"/><stop offset=".935" stop-color="#9a9a9a"/><stop offset=".962" stop-color="#838383"/><stop offset="1" stop-color="#767676"/></linearGradient>
<linearGradient id="r57" x2="0" y2="1"><stop offset="0" stop-color="#757575"/><stop offset=".046" stop-color="#858585"/><stop offset=".077" stop-color="#9e9e9e"/><stop offset=".097" stop-color="#bcbcbc"/><stop offset=".105" stop-color="#d6d6d6"/><stop offset=".113" stop-color="#f8f8f8"/><stop offset=".119" stop-color="#fefefe"/><stop offset=".122" stop-color="#fbfbfb"/><stop offset=".123" stop-color="#eee"/><stop offset=".131" stop-color="#878787"/><stop offset=".133" stop-color="#787878"/><stop offset=".137" stop-color="#686868"/><stop offset=".145" stop-color="#555"/><stop offset=".153" stop-color="#4a4a4a"/><stop offset=".179" stop-color="#3e3e3e"/><stop offset=".844" stop-color="#3d3d3d"/><stop offset=".853" stop-color="#414141"/><stop offset=".859" stop-color="#4b4b4b"/><stop offset=".865" stop-color="#595959"/><stop offset=".873" stop-color="#767676"/><stop offset=".875" stop-color="#808080"/><stop offset=".877" stop-color="#929292"/><stop offset=".881" stop-color="#dedede"/><stop offset=".883" stop-color="#f4f4f4"/><stop offset=".885" stop-color="#fdfdfd"/><stop offset=".887" stop-color="#fefefe"/><stop offset=".897" stop-color="#fafafa"/><stop offset=".906" stop-color="#d5d5d5"/><stop offset=".914" stop-color="#bebebe"/><stop offset=".924" stop-color="#aaa"/><stop offset=".935" stop-color="#999"/><stop offset=".962" stop-color="#838383"/><stop offset="1" stop-color="#757575"/></linearGradient>
<linearGradient id="r58" x2="0" y2="1"><stop offset="0" stop-color="#757575"/><stop offset=".047" stop-color="#858585"/><stop offset=".078" stop-color="#9e9e9e"/><stop offset=".098" stop-color="#c0c0c0"/><stop offset=".106" stop-color="#d7d7d7"/><stop offset=".114" stop-color="#f9f9f9"/><stop offset=".119" stop-color="#fefefe"/><stop offset=".122" stop-color="#fcfcfc"/><stop offset=".123" stop-color="#f2f2f2"/><stop offset=".125" stop-color="#ddd"/><stop offset=".130" stop-color="#989898"/><stop offset=".132" stop-color="#838383"/><stop offset=".134" stop-color="#767676"/><stop offset=".138" stop-color="#676767"/><stop offset=".146" stop-color="#555"/><stop offset=".154" stop-color="#494949"/><stop offset=".180" stop-color="#3e3e3e"/><stop offset=".844" stop-color="#3d3d3d"/><stop offset=".853" stop-color="#424242"/><stop offset=".859" stop-color="#4b4b4b"/><stop offset=".865" stop-color="#5a5a5a"/><stop offset=".873" stop-color="#767676"/><stop offset=".875" stop-color="#818181"/><stop offset=".877" stop-color="#949494"/><stop offset=".882" stop-color="#ececec"/><stop offset=".884" stop-color="#fafafa"/><stop offset=".887" stop-color="#fefefe"/><stop offset=".896" stop-color="#fbfbfb"/><stop offset=".906" stop-color="#d4d4d4"/><stop offset=".913" stop-color="#c0c0c0"/><stop offset=".923" stop-color="#ababab"/><stop offset=".934" stop-color="#9a9a9a"/><stop offset=".961" stop-color="#838383"/><stop offset="1" stop-color="#757575"/></linearGradient>
<linearGradient id="r59" x2="0" y2="1"><stop offset="0" stop-color="#757575"/><stop offset=".047" stop-color="#858585"/><stop offset=".078" stop-color="#9e9e9e"/><stop offset=".098" stop-color="#bfbfbf"/><stop offset=".106" stop-color="#d5d5d5"/><stop offset=".115" stop-color="#f9f9f9"/><stop offset=".120" stop-color="#fefefe"/><stop offset=".122" stop-color="#fdfdfd"/><stop offset=".123" stop-color="#f5f5f5"/><stop offset=".125" stop-color="#e2e2e2"/><stop offset=".132" stop-color="#888"/><stop offset=".135" stop-color="#757575"/><stop offset=".139" stop-color="#676767"/><stop offset=".146" stop-color="#555"/><stop offset=".155" stop-color="#494949"/><stop offset=".181" stop-color="#3e3e3e"/><stop offset=".844" stop-color="#3d3d3d"/><stop offset=".853" stop-color="#424242"/><stop offset=".859" stop-color="#4b4b4b"/><stop offset=".865" stop-color="#5a5a5a"/><stop offset=".873" stop-color="#777"/><stop offset=".875" stop-color="#828282"/><stop offset=".877" stop-color="#969696"/><stop offset=".880" stop-color="#d5d5d5"/><stop offset=".882" stop-color="#eee"/><stop offset=".884" stop-color="#fbfbfb"/><stop offset=".887" stop-color="#fefefe"/><stop offset=".896" stop-color="#fbfbfb"/><stop offset=".905" stop-color="#d6d6d6"/><stop offset=".913" stop-color="#bfbfbf"/><stop offset=".923" stop-color="#ababab"/><stop offset=".934" stop-color="#9a9a9a"/><stop offset=".961" stop-color="#838383"/><stop offset="1" stop-color="#757575"/></linearGradient>
<linearGradient id="r60" x2="0" y2="1"><stop offset="0" stop-color="#757575"/><stop offset=".047" stop-color="#858585"/><stop offset=".078" stop-color="#9e9e9e"/><stop offset=".099" stop-color="#c1c1c1"/><stop offset=".107" stop-color="#d6d6d6"/><stop offset=".116" stop-color="#fafafa"/><stop offset=".120" stop-color="#fefefe"/><stop offset=".122" stop-color="#fbfbfb"/><stop offset=".124" stop-color="#f0f0f0"/><stop offset=".133" stop-color="#858585"/><stop offset=".135" stop-color="#787878"/><stop offset=".139" stop-color="#696969"/><stop offset=".146" stop-color="#565656"/><stop offset=".155" stop-color="#4a4a4a"/><stop offset=".182" stop-color="#3e3e3e"/><stop offset=".844" stop-color="#3d3d3d"/><stop offset=".853" stop-color="#424242"/><stop offset=".859" stop-color="#4c4c4c"/><stop offset=".865" stop-color="#5b5b5b"/><stop offset=".873" stop-color="#787878"/><stop offset=".876" stop-color="#8d8d8d"/><stop offset=".878" stop-color="#a8a8a8"/><stop offset=".880" stop-color="#d8d8d8"/><stop offset=".882" stop-color="#f1f1f1"/><stop offset=".884" stop-color="#fcfcfc"/><stop offset=".887" stop-color="#fefefe"/><stop offset=".896" stop-color="#fafafa"/><stop offset=".905" stop-color="#d5d5d5"/><stop offset=".913" stop-color="#bebebe"/><stop offset=".923" stop-color="#aaa"/><stop offset=".934" stop-color="#999"/><stop offset=".961" stop-color="#838383"/><stop offset="1" stop-color="#757575"/></linearGradient>
<linearGradient id="r61" x2="0" y2="1"><stop offset="0" stop-color="#757575"/><stop offset=".047" stop-color="#858585"/><stop offset=".078" stop-color="#9e9e9e"/><stop offset=".099" stop-color="#c0c0c0"/><stop offset=".108" stop-color="#d8d8d8"/><stop offset=".117" stop-color="#f9f9f9"/><stop offset=".121" stop-color="#fefefe"/><stop offset=".122" stop-color="#fcfcfc"/><stop offset=".124" stop-color="#f3f3f3"/><stop offset=".126" stop-color="#e0e0e0"/><stop offset=".133" stop-color="#8b8b8b"/><stop offset=".136" stop-color="#767676"/><stop offset=".140" stop-color="#686868"/><stop offset=".147" stop-color="#565656"/><stop offset=".156" stop-color="#4a4a4a"/><stop offset=".183" stop-color="#3e3e3e"/><stop offset=".843" stop-color="#3d3d3d"/><stop offset=".852" stop-color="#414141"/><stop offset=".858" stop-color="#4a4a4a"/><stop offset=".864" stop-color="#595959"/><stop offset=".872" stop-color="#757575"/><stop offset=".874" stop-color="#7f7f7f"/><stop offset=".876" stop-color="#909090"/><stop offset=".880" stop-color="#dbdbdb"/><stop offset=".882" stop-color="#f2f2f2"/><stop offset=".884" stop-color="#fcfcfc"/><stop offset=".886" stop-color="#fefefe"/><stop offset=".895" stop-color="#fbfbfb"/><stop offset=".905" stop-color="#d4d4d4"/><stop offset=".912" stop-color="#c0c0c0"/><stop offset=".922" stop-color="#ababab"/><stop offset=".933" stop-color="#9a9a9a"/><stop offset=".960" stop-color="#838383"/><stop offset="1" stop-color="#757575"/></linearGradient>
<linearGradient id="r62" x2="0" y2="1"><stop offset="0" stop-color="#757575"/><stop offset=".046" stop-color="#848484"/><stop offset=".077" stop-color="#9d9d9d"/><stop offset=".099" stop-color="#bfbfbf"/><stop offset=".108" stop-color="#d6d6d6"/><stop offset=".118" stop-color="#f7f7f7"/><stop offset=".122" stop-color="#fefefe"/><stop offset=".123" stop-color="#fafafa"/><stop offset=".125" stop-color="#eee"/><stop offset=".134" stop-color="#888"/><stop offset=".136" stop-color="#7a7a7a"/><stop offset=".139" stop-color="#6e6e6e"/><stop offset=".146" stop-color="#5b5b5b"/><stop offset=".153" stop-color="#4e4e4e"/><stop offset=".175" stop-color="#404040"/><stop offset=".231" stop-color="#3c3c3c"/><stop offset=".839" stop-color="#3c3c3c"/><stop offset=".850" stop-color="#404040"/><stop offset=".857" stop-color="#494949"/><stop offset=".864" stop-color="#595959"/><stop offset=".871" stop-color="#727272"/><stop offset=".874" stop-color="#808080"/><stop offset=".876" stop-color="#939393"/><stop offset=".880" stop-color="#dedede"/><stop offset=".882" stop-color="#f4f4f4"/><stop offset=".884" stop-color="#fdfdfd"/><stop offset=".887" stop-color="#fefefe"/><stop offset=".895" stop-color="#fbfbfb"/><stop offset=".904" stop-color="#d6d6d6"/><stop offset=".912" stop-color="#bfbfbf"/><stop offset=".922" stop-color="#ababab"/><stop offset=".933" stop-color="#9a9a9a"/><stop offset=".960" stop-color="#838383"/><stop offset="1" stop-color="#757575"/></linearGradient>
<linearGradient id="r63" x2="0" y2="1"><stop offset="0" stop-color="#757575"/><stop offset=".046" stop-color="#848484"/><stop offset=".077" stop-color="#9c9c9c"/><stop offset=".099" stop-color="#bfbfbf"/><stop offset=".122" stop-color="#fcfcfc"/><stop offset=".124" stop-color="#f7f7f7"/><stop offset=".126" stop-color="#e8e8e8"/><stop offset=".133" stop-color="#979797"/><stop offset=".135" stop-color="#858585"/><stop offset=".140" stop-color="#6d6d6d"/><stop offset=".146" stop-color="#5b5b5b"/><stop offset=".154" stop-color="#4e4e4e"/><stop offset=".176" stop-color="#404040"/><stop offset=".233" stop-color="#3c3c3c"/><stop offset=".839" stop-color="#3c3c3c"/><stop offset=".850" stop-color="#404040"/><stop offset=".857" stop-color="#494949"/><stop offset=".863" stop-color="#575757"/><stop offset=".871" stop-color="#737373"/><stop offset=".875" stop-color="#8a8a8a"/><stop offset=".877" stop-color="#a4a4a4"/><stop offset=".879" stop-color="#d3d3d3"/><stop offset=".881" stop-color="#ededed"/><stop offset=".883" stop-color="#fbfbfb"/><stop offset=".886" stop-color="#fefefe"/><stop offset=".895" stop-color="#fafafa"/><stop offset=".904" stop-color="#d4d4d4"/><stop offset=".912" stop-color="#bebebe"/><stop offset=".922" stop-color="#aaa"/><stop offset=".933" stop-color="#999"/><stop offset=".960" stop-color="#838383"/><stop offset="1" stop-color="#757575"/></linearGradient>
<linearGradient id="r64" x2="0" y2="1"><stop offset="0" stop-color="#757575"/><stop offset=".045" stop-color="#838383"/><stop offset=".075" stop-color="#9a9a9a"/><stop offset=".098" stop-color="#bababa"/><stop offset=".123" stop-color="#f7f7f7"/><stop offset=".126" stop-color="#ebebeb"/><stop offset=".134" stop-color="#939393"/><stop offset=".136" stop-color="#828282"/><stop offset=".141" stop-color="#6b6b6b"/><stop offset=".147" stop-color="#5a5a5a"/><stop offset=".156" stop-color="#4d4d4d"/><stop offset=".178" stop-color="#404040"/><stop offset=".235" stop-color="#3c3c3c"/><stop offset=".839" stop-color="#3c3c3c"/><stop offset=".850" stop-color="#404040"/><stop offset=".857" stop-color="#4a4a4a"/><stop offset=".863" stop-color="#585858"/><stop offset=".871" stop-color="#747474"/><stop offset=".873" stop-color="#7d7d7d"/><stop offset=".875" stop-color="#8d8d8d"/><stop offset=".877" stop-color="#a7a7a7"/><stop offset=".879" stop-color="#d7d7d7"/><stop offset=".881" stop-color="#f0f0f0"/><stop offset=".883" stop-color="#fcfcfc"/><stop offset=".886" stop-color="#fefefe"/><stop offset=".894" stop-color="#fbfbfb"/><stop offset=".903" stop-color="#d6d6d6"/><stop offset=".911" stop-color="#bfbfbf"/><stop offset=".921" stop-color="#ababab"/><stop offset=".932" stop-color="#9a9a9a"/><stop offset=".960" stop-color="#838383"/><stop offset="1" stop-color="#757575"/></linearGradient>
<linearGradient id="r65" x2="0" y2="1"><stop offset="0" stop-color="#757575"/><stop offset=".043" stop-color="#828282"/><stop offset=".073" stop-color="#989898"/><stop offset=".094" stop-color="#b3b3b3"/><stop offset=".123" stop-color="#efefef"/><stop offset=".125" stop-color="#ebebeb"/><stop offset=".127" stop-color="#dedede"/><stop offset=".136" stop-color="#848484"/><stop offset=".138" stop-color="#797979"/><stop offset=".142" stop-color="#6a6a6a"/><stop offset=".148" stop-color="#595959"/><stop offset=".157" stop-color="#4c4c4c"/><stop offset=".179" stop-color="#404040"/><stop offset=".236" stop-color="#3c3c3c"/><stop offset=".838" stop-color="#3c3c3c"/><stop offset=".849" stop-color="#404040"/><stop offset=".856" stop-color="#494949"/><stop offset=".863" stop-color="#595959"/><stop offset=".870" stop-color="#717171"/><stop offset=".873" stop-color="#7f7f7f"/><stop offset=".875" stop-color="#909090"/><stop offset=".879" stop-color="#dbdbdb"/><stop offset=".881" stop-color="#f2f2f2"/><stop offset=".883" stop-color="#fcfcfc"/><stop offset=".886" stop-color="#fefefe"/><stop offset=".894" stop-color="#fafafa"/><stop offset=".903" stop-color="#d5d5d5"/><stop offset=".911" stop-color="#bebebe"/><stop offset=".921" stop-color="#aaa"/><stop offset=".932" stop-color="#999"/><stop offset=".960" stop-color="#838383"/><stop offset="1" stop-color="#757575"/></linearGradient>
<linearGradient id="r66" x2="0" y2="1"><stop offset="0" stop-color="#747474"/><stop offset=".042" stop-color="#828282"/><stop offset=".072" stop-color="#969696"/><stop offset=".091" stop-color="#aeaeae"/><stop offset=".115" stop-color="#ddd"/><stop offset=".123" stop-color="#e9e9e9"/><stop offset=".125" stop-color="#e6e6e6"/><stop offset=".127" stop-color="#dadada"/><stop offset=".134" stop-color="#989898"/><stop offset=".137" stop-color="#808080"/><stop offset=".143" stop-color="#696969"/><stop offset=".149" stop-color="#585858"/><stop offset=".158" stop-color="#4c4c4c"/><stop offset=".180" stop-color="#404040"/><stop offset=".238" stop-color="#3c3c3c"/><stop offset=".838" stop-color="#3c3c3c"/><stop offset=".849" stop-color="#404040"/><stop offset=".856" stop-color="#494949"/><stop offset=".862" stop-color="#575757"/><stop offset=".870" stop-color="#727272"/><stop offset=".873" stop-color="#818181"/><stop offset=".875" stop-color="#949494"/><stop offset=".879" stop-color="#dfdfdf"/><stop offset=".881" stop-color="#f4f4f4"/><stop offset=".883" stop-color="#fdfdfd"/><stop offset=".886" stop-color="#fefefe"/><stop offset=".893" stop-color="#fbfbfb"/><stop offset=".902" stop-color="#d6d6d6"/><stop offset=".910" stop-color="#bfbfbf"/><stop offset=".920" stop-color="#ababab"/><stop offset=".931" stop-color="#9a9a9a"/><stop offset=".959" stop-color="#838383"/><stop offset="1" stop-color="#757575"/></linearGradient>
<linearGradient id="r67" x2="0" y2="1"><stop offset="0" stop-color="#747474"/><stop offset=".041" stop-color="#818181"/><stop offset=".070" stop-color="#949494"/><stop offset=".089" stop-color="#ababab"/><stop offset=".114" stop-color="#d9d9d9"/><stop offset=".123" stop-color="#e5e5e5"/><stop offset=".125" stop-color="#e3e3e3"/><stop offset=".127" stop-color="#d9d9d9"/><stop offset=".137" stop-color="#828282"/><stop offset=".144" stop-color="#676767"/><stop offset=".150" stop-color="#575757"/><stop offset=".159" stop-color="#4b4b4b"/><stop offset=".181" stop-color="#404040"/><stop offset=".239" stop-color="#3c3c3c"/><stop offset=".838" stop-color="#3c3c3c"/><stop offset=".849" stop-color="#404040"/><stop offset=".856" stop-color="#4a4a4a"/><stop offset=".862" stop-color="#585858"/><stop offset=".870" stop-color="#747474"/><stop offset=".872" stop-color="#7c7c7c"/><stop offset=".874" stop-color="#8b8b8b"/><stop offset=".880" stop-color="#eee"/><stop offset=".882" stop-color="#fbfbfb"/><stop offset=".885" stop-color="#fefefe"/><stop offset=".893" stop-color="#fafafa"/><stop offset=".902" stop-color="#d5d5d5"/><stop offset=".910" stop-color="#bebebe"/><stop offset=".920" stop-color="#aaa"/><stop offset=".931" stop-color="#999"/><stop offset=".959" stop-color="#838383"/><stop offset="1" stop-color="#757575"/></linearGradient>
<linearGradient id="r68" x2="0" y2="1"><stop offset="0" stop-color="#747474"/><stop offset=".040" stop-color="#818181"/><stop offset=".069" stop-color="#939393"/><stop offset=".088" stop-color="#a9a9a9"/><stop offset=".113" stop-color="#d6d6d6"/><stop offset=".123" stop-color="#e3e3e3"/><stop offset=".125" stop-color="#e1e1e1"/><stop offset=".127" stop-color="#d8d8d8"/><stop offset=".135" stop-color="#929292"/><stop offset=".138" stop-color="#7d7d7d"/><stop offset=".144" stop-color="#686868"/><stop offset=".150" stop-color="#585858"/><stop offset=".159" stop-color="#4c4c4c"/><stop offset=".182" stop-color="#3f3f3f"/><stop offset=".241" stop-color="#3c3c3c"/><stop offset=".838" stop-color="#3c3c3c"/><stop offset=".848" stop-color="#404040"/><stop offset=".855" stop-color="#484848"/><stop offset=".862" stop-color="#585858"/><stop offset=".870" stop-color="#757575"/><stop offset=".872" stop-color="#7e7e7e"/><stop offset=".874" stop-color="#8f8f8f"/><stop offset=".878" stop-color="#d8d8d8"/><stop offset=".880" stop-color="#f0f0f0"/><stop offset=".882" stop-color="#fcfcfc"/><stop offset=".885" stop-color="#fefefe"/><stop offset=".892" stop-color="#fbfbfb"/><stop offset=".902" stop-color="#d6d6d6"/><stop offset=".909" stop-color="#bfbfbf"/><stop offset=".919" stop-color="#ababab"/><stop offset=".930" stop-color="#9a9a9a"/><stop offset=".958" stop-color="#838383"/><stop offset="1" stop-color="#757575"/></linearGradient>
<linearGradient id="r69" x2="0" y2="1"><stop offset="0" stop-color="#747474"/><stop offset=".039" stop-color="#808080"/><stop offset=".068" stop-color="#929292"/><stop offset=".086" stop-color="#a6a6a6"/><stop offset=".113" stop-color="#d5d5d5"/><stop offset=".124" stop-color="#e0e0e0"/><stop offset=".126" stop-color="#dcdcdc"/><stop offset=".128" stop-color="#d1d1d1"/><stop offset=".135" stop-color="#949494"/><stop offset=".138" stop-color="#7f7f7f"/><stop offset=".145" stop-color="#666"/><stop offset=".151" stop-color="#575757"/><stop offset=".160" stop-color="#4b4b4b"/><stop offset=".183" stop-color="#3f3f3f"/><stop offset=".242" stop-color="#3c3c3c"/><stop offset=".837" stop-color="#3c3c3c"/><stop offset=".848" stop-color="#404040"/><stop offset=".855" stop-color="#494949"/><stop offset=".862" stop-color="#595959"/><stop offset=".869" stop-color="#727272"/><stop offset=".872" stop-color="#808080"/><stop offset=".874" stop-color="#929292"/><stop offset=".878" stop-color="#dcdcdc"/><stop offset=".880" stop-color="#f3f3f3"/><stop offset=".882" stop-color="#fcfcfc"/><stop offset=".885" stop-color="#fefefe"/><stop offset=".892" stop-color="#fafafa"/><stop offset=".902" stop-color="#d1d1d1"/><stop offset=".912" stop-color="#b7b7b7"/><stop offset=".930" stop-color="#999"/><stop offset=".958" stop-color="#838383"/><stop offset="1" stop-color="#757575"/></linearGradient>
<linearGradient id="r70" x2="0" y2="1"><stop offset="0" stop-color="#747474"/><stop offset=".039" stop-color="#808080"/><stop offset=".067" stop-color="#919191"/><stop offset=".087" stop-color="#a8a8a8"/><stop offset=".114" stop-color="#d4d4d4"/><stop offset=".124" stop-color="#dedede"/><stop offset=".126" stop-color="#dadada"/><stop offset=".128" stop-color="#d0d0d0"/><stop offset=".138" stop-color="#808080"/><stop offset=".145" stop-color="#666"/><stop offset=".151" stop-color="#585858"/><stop offset=".160" stop-color="#4c4c4c"/><stop offset=".183" stop-color="#404040"/><stop offset=".242" stop-color="#3c3c3c"/><stop offset=".837" stop-color="#3c3c3c"/><stop offset=".848" stop-color="#404040"/><stop offset=".855" stop-color="#494949"/><stop offset=".861" stop-color="#575757"/><stop offset=".869" stop-color="#737373"/><stop offset=".873" stop-color="#8a8a8a"/><stop offset=".875" stop-color="#a3a3a3"/><stop offset=".878" stop-color="#e0e0e0"/><stop offset=".880" stop-color="#f4f4f4"/><stop offset=".882" stop-color="#fdfdfd"/><stop offset=".885" stop-color="#fefefe"/><stop offset=".892" stop-color="#f9f9f9"/><stop offset=".902" stop-color="#d3d3d3"/><stop offset=".911" stop-color="#b8b8b8"/><stop offset=".929" stop-color="#9a9a9a"/><stop offset=".958" stop-color="#828282"/><stop offset="1" stop-color="#747474"/></linearGradient>
<linearGradient id="r71" x2="0" y2="1"><stop offset="0" stop-color="#747474"/><stop offset=".038" stop-color="#808080"/><stop offset=".066" stop-color="#909090"/><stop offset=".086" stop-color="#a6a6a6"/><stop offset=".113" stop-color="#d1d1d1"/><stop offset=".124" stop-color="#dbdbdb"/><stop offset=".126" stop-color="#d8d8d8"/><stop offset=".128" stop-color="#cfcfcf"/><stop offset=".138" stop-color="#818181"/><stop offset=".146" stop-color="#656565"/><stop offset=".152" stop-color="#565656"/><stop offset=".161" stop-color="#4b4b4b"/><stop offset=".184" stop-color="#3f3f3f"/><stop offset=".244" stop-color="#3c3c3c"/><stop offset=".837" stop-color="#3c3c3c"/><stop offset=".847" stop-color="#404040"/><stop offset=".854" stop-color="#484848"/><stop offset=".861" stop-color="#585858"/><stop offset=".869" stop-color="#747474"/><stop offset=".871" stop-color="#7e7e7e"/><stop offset=".873" stop-color="#8e8e8e"/><stop offset=".879" stop-color="#eee"/><stop offset=".881" stop-color="#fbfbfb"/><stop offset=".884" stop-color="#fefefe"/><stop offset=".891" stop-color="#fafafa"/><stop offset=".902" stop-color="#d1d1d1"/><stop offset=".911" stop-color="#b7b7b7"/><stop offset=".929" stop-color="#999"/><stop offset=".958" stop-color="#828282"/><stop offset="1" stop-color="#747474"/></linearGradient>
<linearGradient id="r72" x2="0" y2="1"><stop offset="0" stop-color="#747474"/><stop offset=".037" stop-color="#7f7f7f"/><stop offset=".065" stop-color="#8f8f8f"/><stop offset=".085" stop-color="#a5a5a5"/><stop offset=".112" stop-color="#cfcfcf"/><stop offset=".124" stop-color="#d9d9d9"/><stop offset=".126" stop-color="#d7d7d7"/><stop offset=".128" stop-color="#cecece"/><stop offset=".136" stop-color="#909090"/><stop offset=".139" stop-color="#7d7d7d"/><stop offset=".146" stop-color="#636363"/><stop offset=".162" stop-color="#4b4b4b"/><stop offset=".185" stop-color="#3f3f3f"/><stop offset=".836" stop-color="#3c3c3c"/><stop offset=".847" stop-color="#404040"/><stop offset=".854" stop-color="#494949"/><stop offset=".861" stop-color="#595959"/><stop offset=".868" stop-color="#727272"/><stop offset=".871" stop-color="#808080"/><stop offset=".873" stop-color="#919191"/><stop offset=".878" stop-color="#d9d9d9"/><stop offset=".879" stop-color="#f1f1f1"/><stop offset=".881" stop-color="#fcfcfc"/><stop offset=".884" stop-color="#fefefe"/><stop offset=".890" stop-color="#fbfbfb"/><stop offset=".901" stop-color="#d3d3d3"/><stop offset=".910" stop-color="#b8b8b8"/><stop offset=".928" stop-color="#9a9a9a"/><stop offset=".957" stop-color="#828282"/><stop offset="1" stop-color="#747474"/></linearGradient>
<linearGradient id="r73" x2="0" y2="1"><stop offset="0" stop-color="#747474"/><stop offset=".037" stop-color="#7f7f7f"/><stop offset=".064" stop-color="#8f8f8f"/><stop offset=".084" stop-color="#a3a3a3"/><stop offset=".111" stop-color="#ccc"/><stop offset=".124" stop-color="#d7d7d7"/><stop offset=".128" stop-color="#cdcdcd"/><stop offset=".139" stop-color="#7e7e7e"/><stop offset=".146" stop-color="#646464"/><stop offset=".162" stop-color="#4b4b4b"/><stop offset=".185" stop-color="#3f3f3f"/><stop offset=".244" stop-color="#3c3c3c"/><stop offset=".836" stop-color="#3c3c3c"/><stop offset=".847" stop-color="#404040"/><stop offset=".854" stop-color="#494949"/><stop offset=".860" stop-color="#575757"/><stop offset=".868" stop-color="#737373"/><stop offset=".871" stop-color="#818181"/><stop offset=".873" stop-color="#949494"/><stop offset=".878" stop-color="#ddd"/><stop offset=".879" stop-color="#f3f3f3"/><stop offset=".881" stop-color="#fcfcfc"/><stop offset=".884" stop-color="#fefefe"/><stop offset=".890" stop-color="#f9f9f9"/><stop offset=".900" stop-color="#d4d4d4"/><stop offset=".909" stop-color="#b9b9b9"/><stop offset=".928" stop-color="#999"/><stop offset=".957" stop-color="#828282"/><stop offset="1" stop-color="#747474"/></linearGradient>
<linearGradient id="r74" x2="0" y2="1"><stop offset="0" stop-color="#747474"/><stop offset=".036" stop-color="#7e7e7e"/><stop offset=".063" stop-color="#8e8e8e"/><stop offset=".082" stop-color="#a1a1a1"/><stop offset=".111" stop-color="#cacaca"/><stop offset=".124" stop-color="#d4d4d4"/><stop offset=".127" stop-color="#d1d1d1"/><stop offset=".129" stop-color="#c7c7c7"/><stop offset=".139" stop-color="#7f7f7f"/><stop offset=".147" stop-color="#626262"/><stop offset=".163" stop-color="#4b4b4b"/><stop offset=".186" stop-color="#3f3f3f"/><stop offset=".246" stop-color="#3c3c3c"/><stop offset=".836" stop-color="#3c3c3c"/><stop offset=".847" stop-color="#404040"/><stop offset=".854" stop-color="#4a4a4a"/><stop offset=".860" stop-color="#585858"/><stop offset=".868" stop-color="#747474"/><stop offset=".872" stop-color="#8c8c8c"/><stop offset=".874" stop-color="#a5a5a5"/><stop offset=".878" stop-color="#e0e0e0"/><stop offset=".879" stop-color="#f4f4f4"/><stop offset=".881" stop-color="#fdfdfd"/><stop offset=".884" stop-color="#fefefe"/><stop offset=".889" stop-color="#fafafa"/><stop offset=".900" stop-color="#d2d2d2"/><stop offset=".908" stop-color="#bababa"/><stop offset=".927" stop-color="#9a9a9a"/><stop offset=".956" stop-color="#828282"/><stop offset="1" stop-color="#747474"/></linearGradient>
<linearGradient id="r75" x2="0" y2="1"><stop offset="0" stop-color="#747474"/><stop offset=".036" stop-color="#7e7e7e"/><stop offset=".063" stop-color="#8e8e8e"/><stop offset=".082" stop-color="#a1a1a1"/><stop offset=".110" stop-color="#c8c8c8"/><stop offset=".124" stop-color="#d3d3d3"/><stop offset=".127" stop-color="#cfcfcf"/><stop offset=".129" stop-color="#c6c6c6"/><stop offset=".137" stop-color="#8c8c8c"/><stop offset=".140" stop-color="#7b7b7b"/><stop offset=".147" stop-color="#636363"/><stop offset=".164" stop-color="#4a4a4a"/><stop offset=".187" stop-color="#3f3f3f"/><stop offset=".835" stop-color="#3c3c3c"/><stop offset=".846" stop-color="#404040"/><stop offset=".854" stop-color="#494949"/><stop offset=".860" stop-color="#595959"/><stop offset=".867" stop-color="#717171"/><stop offset=".870" stop-color="#7f7f7f"/><stop offset=".872" stop-color="#8f8f8f"/><stop offset=".878" stop-color="#eee"/><stop offset=".880" stop-color="#fbfbfb"/><stop offset=".883" stop-color="#fefefe"/><stop offset=".889" stop-color="#f8f8f8"/><stop offset=".899" stop-color="#d3d3d3"/><stop offset=".908" stop-color="#b9b9b9"/><stop offset=".927" stop-color="#999"/><stop offset=".956" stop-color="#828282"/><stop offset="1" stop-color="#747474"/></linearGradient>
<linearGradient id="r76" x2="0" y2="1"><stop offset="0" stop-color="#747474"/><stop offset=".035" stop-color="#7e7e7e"/><stop offset=".062" stop-color="#8d8d8d"/><stop offset=".081" stop-color="#9f9f9f"/><stop offset=".110" stop-color="#c7c7c7"/><stop offset=".124" stop-color="#d1d1d1"/><stop offset=".127" stop-color="#cecece"/><stop offset=".129" stop-color="#c6c6c6"/><stop offset=".137" stop-color="#8d8d8d"/><stop offset=".140" stop-color="#7c7c7c"/><stop offset=".148" stop-color="#616161"/><stop offset=".164" stop-color="#4a4a4a"/><stop offset=".187" stop-color="#3f3f3f"/><stop offset=".247" stop-color="#3c3c3c"/><stop offset=".835" stop-color="#3c3c3c"/><stop offset=".846" stop-color="#404040"/><stop offset=".854" stop-color="#494949"/><stop offset=".859" stop-color="#575757"/><stop offset=".867" stop-color="#727272"/><stop offset=".870" stop-color="#808080"/><stop offset=".872" stop-color="#929292"/><stop offset=".877" stop-color="#d9d9d9"/><stop offset=".878" stop-color="#f0f0f0"/><stop offset=".880" stop-color="#fbfbfb"/><stop offset=".883" stop-color="#fefefe"/><stop offset=".888" stop-color="#f9f9f9"/><stop offset=".898" stop-color="#d5d5d5"/><stop offset=".907" stop-color="#bababa"/><stop offset=".927" stop-color="#9a9a9a"/><stop offset=".956" stop-color="#828282"/><stop offset="1" stop-color="#747474"/></linearGradient>
<linearGradient id="r77" x2="0" y2="1"><stop offset="0" stop-color="#747474"/><stop offset=".035" stop-color="#7e7e7e"/><stop offset=".061" stop-color="#8c8c8c"/><stop offset=".080" stop-color="#9e9e9e"/><stop offset=".110" stop-color="#c6c6c6"/><stop offset=".125" stop-color="#d0d0d0"/><stop offset=".129" stop-color="#c6c6c6"/><stop offset=".140" stop-color="#7d7d7d"/><stop offset=".148" stop-color="#626262"/><stop offset=".165" stop-color="#4a4a4a"/><stop offset=".188" stop-color="#3f3f3f"/><stop offset=".835" stop-color="#3c3c3c"/><stop offset=".846" stop-color="#404040"/><stop offset=".854" stop-color="#4a4a4a"/><stop offset=".859" stop-color="#575757"/><stop offset=".867" stop-color="#737373"/><stop offset=".870" stop-color="#828282"/><stop offset=".872" stop-color="#949494"/><stop offset=".877" stop-color="#dcdcdc"/><stop offset=".878" stop-color="#f2f2f2"/><stop offset=".880" stop-color="#fcfcfc"/><stop offset=".883" stop-color="#fefefe"/><stop offset=".887" stop-color="#fafafa"/><stop offset=".898" stop-color="#d3d3d3"/><stop offset=".906" stop-color="#bbb"/><stop offset=".927" stop-color="#999"/><stop offset=".956" stop-color="#828282"/><stop offset="1" stop-color="#747474"/></linearGradient>
<linearGradient id="r78" x2="0" y2="1"><stop offset="0" stop-color="#747474"/><stop offset=".035" stop-color="#7d7d7d"/><stop offset=".061" stop-color="#8c8c8c"/><stop offset=".080" stop-color="#9d9d9d"/><stop offset=".110" stop-color="#c5c5c5"/><stop offset=".125" stop-color="#cfcfcf"/><stop offset=".129" stop-color="#c6c6c6"/><stop offset=".140" stop-color="#7e7e7e"/><stop offset=".148" stop-color="#626262"/><stop offset=".165" stop-color="#4a4a4a"/><stop offset=".189" stop-color="#3f3f3f"/><stop offset=".834" stop-color="#3c3c3c"/><stop offset=".845" stop-color="#404040"/><stop offset=".853" stop-color="#494949"/><stop offset=".859" stop-color="#585858"/><stop offset=".867" stop-color="#757575"/><stop offset=".871" stop-color="#8d8d8d"/><stop offset=".873" stop-color="#a5a5a5"/><stop offset=".877" stop-color="#dedede"/><stop offset=".878" stop-color="#f3f3f3"/><stop offset=".880" stop-color="#fcfcfc"/><stop offset=".882" stop-color="#fefefe"/><stop offset=".887" stop-color="#f8f8f8"/><stop offset=".898" stop-color="#d1d1d1"/><stop offset=".906" stop-color="#bababa"/><stop offset=".927" stop-color="#999"/><stop offset=".956" stop-color="#828282"/><stop offset="1" stop-color="#747474"/></linearGradient>
<linearGradient id="r79" x2="0" y2="1"><stop offset="0" stop-color="#737373"/><stop offset=".035" stop-color="#7d7d7d"/><stop offset=".061" stop-color="#8b8b8b"/><stop offset=".080" stop-color="#9d9d9d"/><stop offset=".110" stop-color="#c4c4c4"/><stop offset=".125" stop-color="#cecece"/><stop offset=".128" stop-color="#cacaca"/><stop offset=".130" stop-color="#c1c1c1"/><stop offset=".138" stop-color="#8a8a8a"/><stop offset=".141" stop-color="#7a7a7a"/><stop offset=".149" stop-color="#606060"/><stop offset=".166" stop-color="#4a4a4a"/><stop offset=".189" stop-color="#3f3f3f"/><stop offset=".834" stop-color="#3c3c3c"/><stop offset=".845" stop-color="#404040"/><stop offset=".853" stop-color="#494949"/><stop offset=".859" stop-color="#5a5a5a"/><stop offset=".867" stop-color="#767676"/><stop offset=".869" stop-color="#7f7f7f"/><stop offset=".871" stop-color="#8f8f8f"/><stop offset=".878" stop-color="#ececec"/><stop offset=".879" stop-color="#fafafa"/><stop offset=".882" stop-color="#fefefe"/><stop offset=".886" stop-color="#f8f8f8"/><stop offset=".897" stop-color="#d3d3d3"/><stop offset=".905" stop-color="#bcbcbc"/><stop offset=".926" stop-color="#9a9a9a"/><stop offset=".955" stop-color="#828282"/><stop offset="1" stop-color="#747474"/></linearGradient>
<linearGradient id="r80" x2="0" y2="1"><stop offset="0" stop-color="#737373"/><stop offset=".035" stop-color="#7d7d7d"/><stop offset=".061" stop-color="#8b8b8b"/><stop offset=".080" stop-color="#9d9d9d"/><stop offset=".110" stop-color="#c3c3c3"/><stop offset=".125" stop-color="#cdcdcd"/><stop offset=".128" stop-color="#cacaca"/><stop offset=".130" stop-color="#c1c1c1"/><stop offset=".138" stop-color="#8b8b8b"/><stop offset=".141" stop-color="#7b7b7b"/><stop offset=".149" stop-color="#616161"/><stop offset=".166" stop-color="#4a4a4a"/><stop offset=".189" stop-color="#3f3f3f"/><stop offset=".250" stop-color="#3c3c3c"/><stop offset=".833" stop-color="#3c3c3c"/><stop offset=".845" stop-color="#414141"/><stop offset=".853" stop-color="#4a4a4a"/><stop offset=".859" stop-color="#5b5b5b"/><stop offset=".867" stop-color="#777"/><stop offset=".869" stop-color="#818181"/><stop offset=".871" stop-color="#929292"/><stop offset=".878" stop-color="#eee"/><stop offset=".879" stop-color="#fafafa"/><stop offset=".881" stop-color="#fdfdfd"/><stop offset=".885" stop-color="#f6f6f6"/><stop offset=".906" stop-color="#b9b9b9"/><stop offset=".927" stop-color="#999"/><stop offset=".956" stop-color="#818181"/><stop offset="1" stop-color="#747474"/></linearGradient>
<linearGradient id="r81" x2="0" y2="1"><stop offset="0" stop-color="#737373"/><stop offset=".035" stop-color="#7d7d7d"/><stop offset=".061" stop-color="#8b8b8b"/><stop offset=".080" stop-color="#9c9c9c"/><stop offset=".110" stop-color="#c2c2c2"/><stop offset=".125" stop-color="#ccc"/><stop offset=".128" stop-color="#cacaca"/><stop offset=".130" stop-color="#c2c2c2"/><stop offset=".141" stop-color="#7c7c7c"/><stop offset=".149" stop-color="#616161"/><stop offset=".166" stop-color="#4a4a4a"/><stop offset=".190" stop-color="#3f3f3f"/><stop offset=".832" stop-color="#3c3c3c"/><stop offset=".844" stop-color="#404040"/><stop offset=".852" stop-color="#494949"/><stop offset=".858" stop-color="#595959"/><stop offset=".866" stop-color="#757575"/><stop offset=".870" stop-color="#8b8b8b"/><stop offset=".872" stop-color="#a1a1a1"/><stop offset=".876" stop-color="#d9d9d9"/><stop offset=".878" stop-color="#efefef"/><stop offset=".880" stop-color="#fafafa"/><stop offset=".887" stop-color="#ededed"/><stop offset=".907" stop-color="#b7b7b7"/><stop offset=".927" stop-color="#979797"/><stop offset=".956" stop-color="#818181"/><stop offset="1" stop-color="#747474"/></linearGradient>
<linearGradient id="r82" x2="0" y2="1"><stop offset="0" stop-color="#737373"/><stop offset=".035" stop-color="#7d7d7d"/><stop offset=".061" stop-color="#8b8b8b"/><stop offset=".080" stop-color="#9c9c9c"/><stop offset=".110" stop-color="#c2c2c2"/><stop offset=".126" stop-color="#ccc"/><stop offset=".130" stop-color="#c2c2c2"/><stop offset=".141" stop-color="#7d7d7d"/><stop offset=".149" stop-color="#626262"/><stop offset=".166" stop-color="#4a4a4a"/><stop offset=".190" stop-color="#3f3f3f"/><stop offset=".831" stop-color="#3c3c3c"/><stop offset=".843" stop-color="#404040"/><stop offset=".851" stop-color="#494949"/><stop offset=".857" stop-color="#585858"/><stop offset=".865" stop-color="#727272"/><stop offset=".868" stop-color="#7f7f7f"/><stop offset=".870" stop-color="#8d8d8d"/><stop offset=".876" stop-color="#d9d9d9"/><stop offset=".878" stop-color="#ececec"/><stop offset=".880" stop-color="#f5f5f5"/><stop offset=".888" stop-color="#e8e8e8"/><stop offset=".909" stop-color="#b3b3b3"/><stop offset=".928" stop-color="#969696"/><stop offset=".957" stop-color="#818181"/><stop offset="1" stop-color="#747474"/></linearGradient>
<linearGradient id="r83" x2="0" y2="1"><stop offset="0" stop-color="#737373"/><stop offset=".035" stop-color="#7d7d7d"/><stop offset=".061" stop-color="#8a8a8a"/><stop offset=".080" stop-color="#9c9c9c"/><stop offset=".110" stop-color="#c1c1c1"/><stop offset=".126" stop-color="#cbcbcb"/><stop offset=".130" stop-color="#c3c3c3"/><stop offset=".141" stop-color="#7d7d7d"/><stop offset=".150" stop-color="#606060"/><stop offset=".167" stop-color="#4a4a4a"/><stop offset=".191" stop-color="#3f3f3f"/><stop offset=".831" stop-color="#3c3c3c"/><stop offset=".843" stop-color="#404040"/><stop offset=".851" stop-color="#494949"/><stop offset=".857" stop-color="#595959"/><stop offset=".865" stop-color="#737373"/><stop offset=".868" stop-color="#808080"/><stop offset=".870" stop-color="#8f8f8f"/><stop offset=".877" stop-color="#e3e3e3"/><stop offset=".878" stop-color="#efefef"/><stop offset=".880" stop-color="#f2f2f2"/><stop offset=".888" stop-color="#e6e6e6"/><stop offset=".911" stop-color="#afafaf"/><stop offset=".929" stop-color="#959595"/><stop offset=".958" stop-color="#818181"/><stop offset="1" stop-color="#747474"/></linearGradient>
<linearGradient id="r84" x2="0" y2="1"><stop offset="0" stop-color="#737373"/><stop offset=".035" stop-color="#7d7d7d"/><stop offset=".061" stop-color="#8a8a8a"/><stop offset=".080" stop-color="#9b9b9b"/><stop offset=".110" stop-color="#c0c0c0"/><stop offset=".126" stop-color="#cbcbcb"/><stop offset=".130" stop-color="#c3c3c3"/><stop offset=".139" stop-color="#898989"/><stop offset=".142" stop-color="#7a7a7a"/><stop offset=".150" stop-color="#616161"/><stop offset=".167" stop-color="#4a4a4a"/><stop offset=".191" stop-color="#3f3f3f"/><stop offset=".830" stop-color="#3c3c3c"/><stop offset=".849" stop-color="#474747"/><stop offset=".854" stop-color="#525252"/><stop offset=".861" stop-color="#666"/><stop offset=".867" stop-color="#7c7c7c"/><stop offset=".869" stop-color="#888"/><stop offset=".871" stop-color="#9b9b9b"/><stop offset=".877" stop-color="#e1e1e1"/><stop offset=".878" stop-color="#ededed"/><stop offset=".880" stop-color="#efefef"/><stop offset=".889" stop-color="#e3e3e3"/><stop offset=".912" stop-color="#aeaeae"/><stop offset=".930" stop-color="#949494"/><stop offset=".959" stop-color="#808080"/><stop offset="1" stop-color="#747474"/></linearGradient>
<linearGradient id="r85" x2="0" y2="1"><stop offset="0" stop-color="#737373"/><stop offset=".035" stop-color="#7d7d7d"/><stop offset=".061" stop-color="#8a8a8a"/><stop offset=".080" stop-color="#9b9b9b"/><stop offset=".110" stop-color="#c0c0c0"/><stop offset=".126" stop-color="#cacaca"/><stop offset=".129" stop-color="#c7c7c7"/><stop offset=".131" stop-color="#bfbfbf"/><stop offset=".139" stop-color="#8a8a8a"/><stop offset=".142" stop-color="#7b7b7b"/><stop offset=".150" stop-color="#616161"/><stop offset=".167" stop-color="#4a4a4a"/><stop offset=".191" stop-color="#3f3f3f"/><stop offset=".253" stop-color="#3c3c3c"/><stop offset=".830" stop-color="#3c3c3c"/><stop offset=".848" stop-color="#464646"/><stop offset=".854" stop-color="#535353"/><stop offset=".860" stop-color="#646464"/><stop offset=".868" stop-color="#838383"/><stop offset=".870" stop-color="#939393"/><stop offset=".877" stop-color="#e0e0e0"/><stop offset=".878" stop-color="#eaeaea"/><stop offset=".880" stop-color="#ececec"/><stop offset=".890" stop-color="#e0e0e0"/><stop offset=".913" stop-color="#acacac"/><stop offset=".931" stop-color="#949494"/><stop offset=".959" stop-color="#808080"/><stop offset="1" stop-color="#747474"/></linearGradient>
<linearGradient id="r86" x2="0" y2="1"><stop offset="0" stop-color="#737373"/><stop offset=".035" stop-color="#7c7c7c"/><stop offset=".061" stop-color="#8a8a8a"/><stop offset=".080" stop-color="#9b9b9b"/><stop offset=".110" stop-color="#bfbfbf"/><stop offset=".126" stop-color="#cacaca"/><stop offset=".129" stop-color="#c7c7c7"/><stop offset=".131" stop-color="#bfbfbf"/><stop offset=".142" stop-color="#7b7b7b"/><stop offset=".151" stop-color="#606060"/><stop offset=".168" stop-color="#4a4a4a"/><stop offset=".192" stop-color="#3f3f3f"/><stop offset=".829" stop-color="#3c3c3c"/><stop offset=".847" stop-color="#454545"/><stop offset=".854" stop-color="#515151"/><stop offset=".859" stop-color="#626262"/><stop offset=".868" stop-color="#848484"/><stop offset=".870" stop-color="#949494"/><stop offset=".877" stop-color="#dfdfdf"/><stop offset=".878" stop-color="#e8e8e8"/><stop offset=".880" stop-color="#eaeaea"/><stop offset=".890" stop-color="#dedede"/><stop offset=".915" stop-color="#a9a9a9"/><stop offset=".932" stop-color="#939393"/><stop offset=".960" stop-color="#808080"/><stop offset="1" stop-color="#747474"/></linearGradient>
<linearGradient id="r87" x2="0" y2="1"><stop offset="0" stop-color="#737373"/><stop offset=".035" stop-color="#7c7c7c"/><stop offset=".061" stop-color="#8a8a8a"/><stop offset=".080" stop-color="#9a9a9a"/><stop offset=".110" stop-color="#bfbfbf"/><stop offset=".127" stop-color="#c9c9c9"/><stop offset=".131" stop-color="#c0c0c0"/><stop offset=".142" stop-color="#7c7c7c"/><stop offset=".151" stop-color="#606060"/><stop offset=".168" stop-color="#4a4a4a"/><stop offset=".192" stop-color="#3f3f3f"/><stop offset=".829" stop-color="#3c3c3c"/><stop offset=".846" stop-color="#444"/><stop offset=".853" stop-color="#505050"/><stop offset=".858" stop-color="#606060"/><stop offset=".868" stop-color="#868686"/><stop offset=".870" stop-color="#969696"/><stop offset=".875" stop-color="#cdcdcd"/><stop offset=".877" stop-color="#dedede"/><stop offset=".878" stop-color="#e6e6e6"/><stop offset=".880" stop-color="#e8e8e8"/><stop offset=".891" stop-color="#dcdcdc"/><stop offset=".916" stop-color="#a8a8a8"/><stop offset=".933" stop-color="#929292"/><stop offset=".961" stop-color="#7f7f7f"/><stop offset="1" stop-color="#747474"/></linearGradient>
<linearGradient id="r88" x2="0" y2="1"><stop offset="0" stop-color="#737373"/><stop offset=".035" stop-color="#7c7c7c"/><stop offset=".061" stop-color="#898989"/><stop offset=".080" stop-color="#9a9a9a"/><stop offset=".110" stop-color="#bfbfbf"/><stop offset=".127" stop-color="#c9c9c9"/><stop offset=".131" stop-color="#c1c1c1"/><stop offset=".142" stop-color="#7d7d7d"/><stop offset=".151" stop-color="#616161"/><stop offset=".168" stop-color="#4a4a4a"/><stop offset=".192" stop-color="#3f3f3f"/><stop offset=".254" stop-color="#3c3c3c"/><stop offset=".829" stop-color="#3c3c3c"/><stop offset=".846" stop-color="#444"/><stop offset=".853" stop-color="#505050"/><stop offset=".858" stop-color="#616161"/><stop offset=".867" stop-color="#818181"/><stop offset=".870" stop-color="#989898"/><stop offset=".876" stop-color="#d6d6d6"/><stop offset=".878" stop-color="#e2e2e2"/><stop offset=".880" stop-color="#e6e6e6"/><stop offset=".891" stop-color="#dbdbdb"/><stop offset=".918" stop-color="#a6a6a6"/><stop offset=".934" stop-color="#929292"/><stop offset=".961" stop-color="#808080"/><stop offset="1" stop-color="#747474"/></linearGradient>
<linearGradient id="r89" x2="0" y2="1"><stop offset="0" stop-color="#737373"/><stop offset=".035" stop-color="#7c7c7c"/><stop offset=".061" stop-color="#898989"/><stop offset=".080" stop-color="#9a9a9a"/><stop offset=".110" stop-color="#bebebe"/><stop offset=".127" stop-color="#c9c9c9"/><stop offset=".131" stop-color="#c1c1c1"/><stop offset=".142" stop-color="#7e7e7e"/><stop offset=".151" stop-color="#616161"/><stop offset=".168" stop-color="#4a4a4a"/><stop offset=".193" stop-color="#3f3f3f"/><stop offset=".829" stop-color="#3c3c3c"/><stop offset=".846" stop-color="#454545"/><stop offset=".857" stop-color="#5f5f5f"/><stop offset=".867" stop-color="#828282"/><stop offset=".870" stop-color="#999"/><stop offset=".876" stop-color="#d6d6d6"/><stop offset=".878" stop-color="#e2e2e2"/><stop offset=".880" stop-color="#e5e5e5"/><stop offset=".891" stop-color="#dadada"/><stop offset=".916" stop-color="#a9a9a9"/><stop offset=".935" stop-color="#919191"/><stop offset=".962" stop-color="#7f7f7f"/><stop offset="1" stop-color="#747474"/></linearGradient>

<linearGradient id="cb" x1="0" y1="1" x2="0" y2="0">
<stop offset="0.000" stop-color="#1c3f7a"/>
<stop offset="0.025" stop-color="#1b4482"/>
<stop offset="0.050" stop-color="#1b4e91"/>
<stop offset="0.075" stop-color="#1c5aa1"/>
<stop offset="0.100" stop-color="#1e66b0"/>
<stop offset="0.125" stop-color="#2571b7"/>
<stop offset="0.150" stop-color="#2c7cbd"/>
<stop offset="0.175" stop-color="#3687c2"/>
<stop offset="0.200" stop-color="#3f92c6"/>
<stop offset="0.225" stop-color="#549fcd"/>
<stop offset="0.250" stop-color="#68acd3"/>
<stop offset="0.275" stop-color="#7bb8d9"/>
<stop offset="0.300" stop-color="#8ec3de"/>
<stop offset="0.325" stop-color="#a0cce3"/>
<stop offset="0.350" stop-color="#b1d5e7"/>
<stop offset="0.375" stop-color="#c1ddec"/>
<stop offset="0.400" stop-color="#d1e5f0"/>
<stop offset="0.425" stop-color="#dbeaf2"/>
<stop offset="0.450" stop-color="#e4eef4"/>
<stop offset="0.475" stop-color="#edf3f6"/>
<stop offset="0.500" stop-color="#f6f7f7"/>
<stop offset="0.525" stop-color="#f8f0eb"/>
<stop offset="0.550" stop-color="#fae9df"/>
<stop offset="0.575" stop-color="#fce2d3"/>
<stop offset="0.600" stop-color="#fddbc7"/>
<stop offset="0.625" stop-color="#fbcdb5"/>
<stop offset="0.650" stop-color="#f8bfa4"/>
<stop offset="0.675" stop-color="#f6b192"/>
<stop offset="0.700" stop-color="#f3a481"/>
<stop offset="0.725" stop-color="#ec9374"/>
<stop offset="0.750" stop-color="#e58368"/>
<stop offset="0.775" stop-color="#dd715a"/>
<stop offset="0.800" stop-color="#d6604d"/>
<stop offset="0.825" stop-color="#cd4d44"/>
<stop offset="0.850" stop-color="#c43b3c"/>
<stop offset="0.875" stop-color="#ba2933"/>
<stop offset="0.900" stop-color="#b1182b"/>
<stop offset="0.925" stop-color="#9d1128"/>
<stop offset="0.950" stop-color="#8a0b25"/>
<stop offset="0.975" stop-color="#780522"/>
<stop offset="1.000" stop-color="#67001f"/>
</linearGradient>
</defs>

<g filter="url(#cm)"><g shape-rendering="crispEdges">
<rect x="132" y="15.0" width="8" height="1041.3" fill="url(#l0)"/>
<rect x="138" y="15.0" width="8" height="1041.3" fill="url(#l1)"/>
<rect x="144" y="15.0" width="8" height="1041.3" fill="url(#l2)"/>
<rect x="150" y="15.0" width="8" height="1041.3" fill="url(#l3)"/>
<rect x="156" y="15.0" width="8" height="1041.3" fill="url(#l4)"/>
<rect x="162" y="15.0" width="8" height="1041.3" fill="url(#l5)"/>
<rect x="168" y="15.0" width="8" height="1041.3" fill="url(#l6)"/>
<rect x="174" y="15.0" width="8" height="1041.3" fill="url(#l7)"/>
<rect x="180" y="15.0" width="8" height="1041.3" fill="url(#l8)"/>
<rect x="186" y="15.0" width="8" height="1041.3" fill="url(#l9)"/>
<rect x="192" y="15.0" width="8" height="1041.3" fill="url(#l10)"/>
<rect x="198" y="15.0" width="8" height="1041.3" fill="url(#l11)"/>
<rect x="204" y="15.0" width="8" height="1041.3" fill="url(#l12)"/>
<rect x="210" y="15.0" width="8" height="1041.3" fill="url(#l13)"/>
<rect x="216" y="15.0" width="8" height="1041.3" fill="url(#l14)"/>
<rect x="222" y="15.0" width="8" height="1041.3" fill="url(#l15)"/>
<rect x="228" y="15.0" width="8" height="1041.3" fill="url(#l16)"/>
<rect x="234" y="15.0" width="8" height="1041.3" fill="url(#l17)"/>
<rect x="240" y="15.0" width="8" height="1041.3" fill="url(#l18)"/>
<rect x="246" y="15.0" width="8" height="1041.3" fill="url(#l19)"/>
<rect x="252" y="15.0" width="8" height="1041.3" fill="url(#l20)"/>
<rect x="258" y="15.0" width="8" height="1041.3" fill="url(#l21)"/>
<rect x="264" y="15.0" width="8" height="1041.3" fill="url(#l22)"/>
<rect x="270" y="15.0" width="8" height="1041.3" fill="url(#l23)"/>
<rect x="276" y="15.0" width="8" height="1041.3" fill="url(#l24)"/>
<rect x="282" y="15.0" width="8" height="1041.3" fill="url(#l25)"/>
<rect x="288" y="15.0" width="8" height="1041.3" fill="url(#l26)"/>
<rect x="294" y="15.0" width="8" height="1041.3" fill="url(#l27)"/>
<rect x="300" y="15.0" width="8" height="1041.3" fill="url(#l28)"/>
<rect x="306" y="15.0" width="8" height="1041.3" fill="url(#l29)"/>
<rect x="312" y="15.0" width="8" height="1041.3" fill="url(#l30)"/>
<rect x="318" y="15.0" width="8" height="1041.3" fill="url(#l31)"/>
<rect x="324" y="15.0" width="8" height="1041.3" fill="url(#l32)"/>
<rect x="330" y="15.0" width="8" height="1041.3" fill="url(#l33)"/>
<rect x="336" y="15.0" width="8" height="1041.3" fill="url(#l34)"/>
<rect x="342" y="15.0" width="8" height="1041.3" fill="url(#l35)"/>
<rect x="348" y="15.0" width="8" height="1041.3" fill="url(#l36)"/>
<rect x="354" y="15.0" width="8" height="1041.3" fill="url(#l37)"/>
<rect x="360" y="15.0" width="8" height="1041.3" fill="url(#l38)"/>
<rect x="366" y="15.0" width="8" height="1041.3" fill="url(#l39)"/>
<rect x="372" y="15.0" width="8" height="1041.3" fill="url(#l40)"/>
<rect x="378" y="15.0" width="8" height="1041.3" fill="url(#l41)"/>
<rect x="384" y="15.0" width="8" height="1041.3" fill="url(#l42)"/>
<rect x="390" y="15.0" width="8" height="1041.3" fill="url(#l43)"/>
<rect x="396" y="15.0" width="8" height="1041.3" fill="url(#l44)"/>
<rect x="402" y="15.0" width="8" height="1041.3" fill="url(#l45)"/>
<rect x="408" y="15.0" width="8" height="1041.3" fill="url(#l46)"/>
<rect x="414" y="15.0" width="8" height="1041.3" fill="url(#l47)"/>
<rect x="420" y="15.0" width="8" height="1041.3" fill="url(#l48)"/>
<rect x="426" y="15.0" width="8" height="1041.3" fill="url(#l49)"/>
<rect x="432" y="15.0" width="8" height="1041.3" fill="url(#l50)"/>
<rect x="438" y="15.0" width="8" height="1041.3" fill="url(#l51)"/>
<rect x="444" y="15.0" width="8" height="1041.3" fill="url(#l52)"/>
<rect x="450" y="15.0" width="8" height="1041.3" fill="url(#l53)"/>
<rect x="456" y="15.0" width="8" height="1041.3" fill="url(#l54)"/>
<rect x="462" y="15.0" width="8" height="1041.3" fill="url(#l55)"/>
<rect x="468" y="15.0" width="8" height="1041.3" fill="url(#l56)"/>
<rect x="474" y="15.0" width="8" height="1041.3" fill="url(#l57)"/>
<rect x="480" y="15.0" width="8" height="1041.3" fill="url(#l58)"/>
<rect x="486" y="15.0" width="8" height="1041.3" fill="url(#l59)"/>
<rect x="492" y="15.0" width="8" height="1041.3" fill="url(#l60)"/>
<rect x="498" y="15.0" width="8" height="1041.3" fill="url(#l61)"/>
<rect x="504" y="15.0" width="8" height="1041.3" fill="url(#l62)"/>
<rect x="510" y="15.0" width="8" height="1041.3" fill="url(#l63)"/>
<rect x="516" y="15.0" width="8" height="1041.3" fill="url(#l64)"/>
<rect x="522" y="15.0" width="8" height="1041.3" fill="url(#l65)"/>
<rect x="528" y="15.0" width="8" height="1041.3" fill="url(#l66)"/>
<rect x="534" y="15.0" width="8" height="1041.3" fill="url(#l67)"/>
<rect x="540" y="15.0" width="8" height="1041.3" fill="url(#l68)"/>
<rect x="546" y="15.0" width="8" height="1041.3" fill="url(#l69)"/>
<rect x="552" y="15.0" width="8" height="1041.3" fill="url(#l70)"/>
<rect x="558" y="15.0" width="8" height="1041.3" fill="url(#l71)"/>
<rect x="564" y="15.0" width="8" height="1041.3" fill="url(#l72)"/>
<rect x="570" y="15.0" width="8" height="1041.3" fill="url(#l73)"/>
<rect x="576" y="15.0" width="8" height="1041.3" fill="url(#l74)"/>
<rect x="582" y="15.0" width="8" height="1041.3" fill="url(#l75)"/>
<rect x="588" y="15.0" width="8" height="1041.3" fill="url(#l76)"/>
<rect x="594" y="15.0" width="8" height="1041.3" fill="url(#l77)"/>
<rect x="600" y="15.0" width="8" height="1041.3" fill="url(#l78)"/>
<rect x="606" y="15.0" width="8" height="1041.3" fill="url(#l79)"/>
<rect x="612" y="15.0" width="8" height="1041.3" fill="url(#l80)"/>
<rect x="618" y="15.0" width="8" height="1041.3" fill="url(#l81)"/>
<rect x="624" y="15.0" width="8" height="1041.3" fill="url(#l82)"/>
<rect x="630" y="15.0" width="8" height="1041.3" fill="url(#l83)"/>
<rect x="636" y="15.0" width="8" height="1041.3" fill="url(#l84)"/>
<rect x="642" y="15.0" width="8" height="1041.3" fill="url(#l85)"/>
<rect x="648" y="15.0" width="8" height="1041.3" fill="url(#l86)"/>
<rect x="654" y="15.0" width="8" height="1041.3" fill="url(#l87)"/>
<rect x="660" y="15.0" width="8" height="1041.3" fill="url(#l88)"/>
<rect x="666" y="15.0" width="7" height="1041.3" fill="url(#l89)"/>
<rect x="132" y="224.0" width="6" height="26" fill="url(#gsu)"/>
<rect x="138" y="223.0" width="18" height="26" fill="url(#gsu)"/>
<rect x="156" y="222.0" width="27" height="26" fill="url(#gsu)"/>
<rect x="183" y="221.0" width="24" height="26" fill="url(#gsu)"/>
<rect x="207" y="218.0" width="6" height="26" fill="url(#gsu)"/>
<rect x="213" y="217.0" width="12" height="26" fill="url(#gsu)"/>
<rect x="225" y="216.0" width="9" height="26" fill="url(#gsu)"/>
<rect x="234" y="217.0" width="12" height="26" fill="url(#gsu)"/>
<rect x="246" y="218.0" width="15" height="26" fill="url(#gsu)"/>
<rect x="261" y="217.0" width="6" height="26" fill="url(#gsu)"/>
<rect x="267" y="215.0" width="3" height="26" fill="url(#gsu)"/>
<rect x="270" y="213.0" width="3" height="26" fill="url(#gsu)"/>
<rect x="273" y="212.0" width="3" height="26" fill="url(#gsu)"/>
<rect x="276" y="210.0" width="3" height="26" fill="url(#gsu)"/>
<rect x="279" y="209.0" width="6" height="26" fill="url(#gsu)"/>
<rect x="285" y="210.0" width="3" height="26" fill="url(#gsu)"/>
<rect x="288" y="211.0" width="3" height="26" fill="url(#gsu)"/>
<rect x="291" y="213.0" width="3" height="26" fill="url(#gsu)"/>
<rect x="294" y="215.0" width="3" height="26" fill="url(#gsu)"/>
<rect x="297" y="216.0" width="3" height="26" fill="url(#gsu)"/>
<rect x="300" y="217.0" width="3" height="26" fill="url(#gsu)"/>
<rect x="303" y="218.0" width="15" height="26" fill="url(#gsu)"/>
<rect x="318" y="217.0" width="3" height="26" fill="url(#gsu)"/>
<rect x="321" y="215.0" width="3" height="26" fill="url(#gsu)"/>
<rect x="324" y="212.0" width="3" height="26" fill="url(#gsu)"/>
<rect x="327" y="210.0" width="3" height="26" fill="url(#gsu)"/>
<rect x="330" y="207.0" width="3" height="26" fill="url(#gsu)"/>
<rect x="333" y="205.0" width="9" height="26" fill="url(#gsu)"/>
<rect x="342" y="206.0" width="3" height="26" fill="url(#gsu)"/>
<rect x="345" y="208.0" width="3" height="26" fill="url(#gsu)"/>
<rect x="348" y="211.0" width="3" height="26" fill="url(#gsu)"/>
<rect x="351" y="214.0" width="3" height="26" fill="url(#gsu)"/>
<rect x="354" y="216.0" width="3" height="26" fill="url(#gsu)"/>
<rect x="357" y="217.0" width="3" height="26" fill="url(#gsu)"/>
<rect x="360" y="218.0" width="15" height="26" fill="url(#gsu)"/>
<rect x="375" y="207.0" width="3" height="26" fill="url(#gsu)"/>
<rect x="378" y="205.0" width="3" height="26" fill="url(#gsu)"/>
<rect x="381" y="204.0" width="9" height="26" fill="url(#gsu)"/>
<rect x="390" y="206.0" width="3" height="26" fill="url(#gsu)"/>
<rect x="393" y="209.0" width="3" height="26" fill="url(#gsu)"/>
<rect x="396" y="212.0" width="3" height="26" fill="url(#gsu)"/>
<rect x="399" y="214.0" width="3" height="26" fill="url(#gsu)"/>
<rect x="402" y="217.0" width="4" height="26" fill="url(#gsu)"/>
<rect x="406" y="218.0" width="18" height="26" fill="url(#gsu)"/>
<rect x="424" y="217.0" width="3" height="26" fill="url(#gsu)"/>
<rect x="427" y="215.0" width="3" height="26" fill="url(#gsu)"/>
<rect x="430" y="212.0" width="3" height="26" fill="url(#gsu)"/>
<rect x="433" y="209.0" width="3" height="26" fill="url(#gsu)"/>
<rect x="436" y="207.0" width="3" height="26" fill="url(#gsu)"/>
<rect x="439" y="205.0" width="6" height="26" fill="url(#gsu)"/>
<rect x="445" y="206.0" width="3" height="26" fill="url(#gsu)"/>
<rect x="448" y="208.0" width="3" height="26" fill="url(#gsu)"/>
<rect x="451" y="211.0" width="3" height="26" fill="url(#gsu)"/>
<rect x="454" y="214.0" width="3" height="26" fill="url(#gsu)"/>
<rect x="457" y="217.0" width="3" height="26" fill="url(#gsu)"/>
<rect x="460" y="218.0" width="21" height="26" fill="url(#gsu)"/>
<rect x="481" y="217.0" width="3" height="26" fill="url(#gsu)"/>
<rect x="484" y="215.0" width="3" height="26" fill="url(#gsu)"/>
<rect x="487" y="213.0" width="3" height="26" fill="url(#gsu)"/>
<rect x="490" y="210.0" width="3" height="26" fill="url(#gsu)"/>
<rect x="493" y="209.0" width="3" height="26" fill="url(#gsu)"/>
<rect x="496" y="208.0" width="6" height="26" fill="url(#gsu)"/>
<rect x="502" y="210.0" width="3" height="26" fill="url(#gsu)"/>
<rect x="505" y="212.0" width="3" height="26" fill="url(#gsu)"/>
<rect x="508" y="214.0" width="3" height="26" fill="url(#gsu)"/>
<rect x="511" y="217.0" width="3" height="26" fill="url(#gsu)"/>
<rect x="514" y="218.0" width="18" height="26" fill="url(#gsu)"/>
<rect x="532" y="217.0" width="3" height="26" fill="url(#gsu)"/>
<rect x="535" y="216.0" width="3" height="26" fill="url(#gsu)"/>
<rect x="538" y="214.0" width="3" height="26" fill="url(#gsu)"/>
<rect x="541" y="213.0" width="3" height="26" fill="url(#gsu)"/>
<rect x="544" y="212.0" width="9" height="26" fill="url(#gsu)"/>
<rect x="553" y="213.0" width="3" height="26" fill="url(#gsu)"/>
<rect x="556" y="215.0" width="3" height="26" fill="url(#gsu)"/>
<rect x="559" y="217.0" width="3" height="26" fill="url(#gsu)"/>
<rect x="562" y="218.0" width="18" height="26" fill="url(#gsu)"/>
<rect x="580" y="217.0" width="3" height="26" fill="url(#gsu)"/>
<rect x="583" y="216.0" width="3" height="26" fill="url(#gsu)"/>
<rect x="586" y="217.0" width="18" height="26" fill="url(#gsu)"/>
<rect x="604" y="218.0" width="6" height="26" fill="url(#gsu)"/>
<rect x="610" y="219.0" width="6" height="26" fill="url(#gsu)"/>
<rect x="616" y="220.0" width="21" height="26" fill="url(#gsu)"/>
<rect x="637" y="221.0" width="24" height="26" fill="url(#gsu)"/>
<rect x="661" y="222.0" width="9" height="26" fill="url(#gsu)"/>
<rect x="670" y="223.0" width="3" height="26" fill="url(#gsu)"/>
<rect x="132" y="815.0" width="27" height="26" fill="url(#grd)"/>
<rect x="159" y="816.0" width="18" height="26" fill="url(#grd)"/>
<rect x="177" y="817.0" width="18" height="26" fill="url(#grd)"/>
<rect x="195" y="818.0" width="12" height="26" fill="url(#grd)"/>
<rect x="207" y="819.0" width="18" height="26" fill="url(#grd)"/>
<rect x="225" y="820.0" width="18" height="26" fill="url(#grd)"/>
<rect x="243" y="821.0" width="48" height="26" fill="url(#grd)"/>
<rect x="291" y="822.0" width="18" height="26" fill="url(#grd)"/>
<rect x="309" y="823.0" width="12" height="26" fill="url(#grd)"/>
<rect x="321" y="824.0" width="15" height="26" fill="url(#grd)"/>
<rect x="336" y="825.0" width="18" height="26" fill="url(#grd)"/>
<rect x="354" y="826.0" width="45" height="26" fill="url(#grd)"/>
<rect x="399" y="825.0" width="31" height="26" fill="url(#grd)"/>
<rect x="430" y="826.0" width="159" height="26" fill="url(#grd)"/>
<rect x="589" y="825.0" width="24" height="26" fill="url(#grd)"/>
<rect x="613" y="824.0" width="18" height="26" fill="url(#grd)"/>
<rect x="631" y="823.0" width="18" height="26" fill="url(#grd)"/>
<rect x="649" y="822.0" width="24" height="26" fill="url(#grd)"/>
<rect x="132" y="250.0" width="6" height="565.0" fill="url(#scl)"/>
<rect x="138" y="249.0" width="18" height="566.0" fill="url(#scl)"/>
<rect x="156" y="248.0" width="3" height="567.0" fill="url(#scl)"/>
<rect x="159" y="248.0" width="18" height="568.0" fill="url(#scl)"/>
<rect x="177" y="248.0" width="6" height="569.0" fill="url(#scl)"/>
<rect x="183" y="247.0" width="12" height="570.0" fill="url(#scl)"/>
<rect x="195" y="247.0" width="12" height="571.0" fill="url(#scl)"/>
<rect x="207" y="244.0" width="6" height="575.0" fill="url(#scl)"/>
<rect x="213" y="243.0" width="12" height="576.0" fill="url(#scl)"/>
<rect x="225" y="242.0" width="9" height="578.0" fill="url(#scl)"/>
<rect x="234" y="243.0" width="9" height="577.0" fill="url(#scl)"/>
<rect x="243" y="243.0" width="3" height="578.0" fill="url(#scl)"/>
<rect x="246" y="244.0" width="15" height="577.0" fill="url(#scl)"/>
<rect x="261" y="243.0" width="6" height="578.0" fill="url(#scl)"/>
<rect x="267" y="241.0" width="3" height="580.0" fill="url(#scl)"/>
<rect x="270" y="239.0" width="3" height="582.0" fill="url(#scl)"/>
<rect x="273" y="238.0" width="3" height="583.0" fill="url(#scl)"/>
<rect x="276" y="236.0" width="3" height="585.0" fill="url(#scl)"/>
<rect x="279" y="235.0" width="6" height="586.0" fill="url(#scl)"/>
<rect x="285" y="236.0" width="3" height="585.0" fill="url(#scl)"/>
<rect x="288" y="237.0" width="3" height="584.0" fill="url(#scl)"/>
<rect x="291" y="239.0" width="3" height="583.0" fill="url(#scl)"/>
<rect x="294" y="241.0" width="3" height="581.0" fill="url(#scl)"/>
<rect x="297" y="242.0" width="3" height="580.0" fill="url(#scl)"/>
<rect x="300" y="243.0" width="3" height="579.0" fill="url(#scl)"/>
<rect x="303" y="244.0" width="6" height="578.0" fill="url(#scl)"/>
<rect x="309" y="244.0" width="9" height="579.0" fill="url(#scl)"/>
<rect x="318" y="243.0" width="3" height="580.0" fill="url(#scl)"/>
<rect x="321" y="241.0" width="3" height="583.0" fill="url(#scl)"/>
<rect x="324" y="238.0" width="3" height="586.0" fill="url(#scl)"/>
<rect x="327" y="236.0" width="3" height="588.0" fill="url(#scl)"/>
<rect x="330" y="233.0" width="3" height="591.0" fill="url(#scl)"/>
<rect x="333" y="231.0" width="3" height="593.0" fill="url(#scl)"/>
<rect x="336" y="231.0" width="6" height="594.0" fill="url(#scl)"/>
<rect x="342" y="232.0" width="3" height="593.0" fill="url(#scl)"/>
<rect x="345" y="234.0" width="3" height="591.0" fill="url(#scl)"/>
<rect x="348" y="237.0" width="3" height="588.0" fill="url(#scl)"/>
<rect x="351" y="240.0" width="3" height="585.0" fill="url(#scl)"/>
<rect x="354" y="242.0" width="3" height="584.0" fill="url(#scl)"/>
<rect x="357" y="243.0" width="3" height="583.0" fill="url(#scl)"/>
<rect x="360" y="244.0" width="15" height="582.0" fill="url(#scl)"/>
<rect x="375" y="233.0" width="3" height="593.0" fill="url(#scl)"/>
<rect x="378" y="231.0" width="3" height="595.0" fill="url(#scl)"/>
<rect x="381" y="230.0" width="9" height="596.0" fill="url(#scl)"/>
<rect x="390" y="232.0" width="3" height="594.0" fill="url(#scl)"/>
<rect x="393" y="235.0" width="3" height="591.0" fill="url(#scl)"/>
<rect x="396" y="238.0" width="3" height="588.0" fill="url(#scl)"/>
<rect x="399" y="240.0" width="3" height="585.0" fill="url(#scl)"/>
<rect x="402" y="243.0" width="4" height="582.0" fill="url(#scl)"/>
<rect x="406" y="244.0" width="18" height="581.0" fill="url(#scl)"/>
<rect x="424" y="243.0" width="3" height="582.0" fill="url(#scl)"/>
<rect x="427" y="241.0" width="3" height="584.0" fill="url(#scl)"/>
<rect x="430" y="238.0" width="3" height="588.0" fill="url(#scl)"/>
<rect x="433" y="235.0" width="3" height="591.0" fill="url(#scl)"/>
<rect x="436" y="233.0" width="3" height="593.0" fill="url(#scl)"/>
<rect x="439" y="231.0" width="6" height="595.0" fill="url(#scl)"/>
<rect x="445" y="232.0" width="3" height="594.0" fill="url(#scl)"/>
<rect x="448" y="234.0" width="3" height="592.0" fill="url(#scl)"/>
<rect x="451" y="237.0" width="3" height="589.0" fill="url(#scl)"/>
<rect x="454" y="240.0" width="3" height="586.0" fill="url(#scl)"/>
<rect x="457" y="243.0" width="3" height="583.0" fill="url(#scl)"/>
<rect x="460" y="244.0" width="21" height="582.0" fill="url(#scl)"/>
<rect x="481" y="243.0" width="3" height="583.0" fill="url(#scl)"/>
<rect x="484" y="241.0" width="3" height="585.0" fill="url(#scl)"/>
<rect x="487" y="239.0" width="3" height="587.0" fill="url(#scl)"/>
<rect x="490" y="236.0" width="3" height="590.0" fill="url(#scl)"/>
<rect x="493" y="235.0" width="3" height="591.0" fill="url(#scl)"/>
<rect x="496" y="234.0" width="6" height="592.0" fill="url(#scl)"/>
<rect x="502" y="236.0" width="3" height="590.0" fill="url(#scl)"/>
<rect x="505" y="238.0" width="3" height="588.0" fill="url(#scl)"/>
<rect x="508" y="240.0" width="3" height="586.0" fill="url(#scl)"/>
<rect x="511" y="243.0" width="3" height="583.0" fill="url(#scl)"/>
<rect x="514" y="244.0" width="18" height="582.0" fill="url(#scl)"/>
<rect x="532" y="243.0" width="3" height="583.0" fill="url(#scl)"/>
<rect x="535" y="242.0" width="3" height="584.0" fill="url(#scl)"/>
<rect x="538" y="240.0" width="3" height="586.0" fill="url(#scl)"/>
<rect x="541" y="239.0" width="3" height="587.0" fill="url(#scl)"/>
<rect x="544" y="238.0" width="9" height="588.0" fill="url(#scl)"/>
<rect x="553" y="239.0" width="3" height="587.0" fill="url(#scl)"/>
<rect x="556" y="241.0" width="3" height="585.0" fill="url(#scl)"/>
<rect x="559" y="243.0" width="3" height="583.0" fill="url(#scl)"/>
<rect x="562" y="244.0" width="18" height="582.0" fill="url(#scl)"/>
<rect x="580" y="243.0" width="3" height="583.0" fill="url(#scl)"/>
<rect x="583" y="242.0" width="3" height="584.0" fill="url(#scl)"/>
<rect x="586" y="243.0" width="3" height="583.0" fill="url(#scl)"/>
<rect x="589" y="243.0" width="15" height="582.0" fill="url(#scl)"/>
<rect x="604" y="244.0" width="6" height="581.0" fill="url(#scl)"/>
<rect x="610" y="245.0" width="3" height="580.0" fill="url(#scl)"/>
<rect x="613" y="245.0" width="3" height="579.0" fill="url(#scl)"/>
<rect x="616" y="246.0" width="15" height="578.0" fill="url(#scl)"/>
<rect x="631" y="246.0" width="6" height="577.0" fill="url(#scl)"/>
<rect x="637" y="247.0" width="12" height="576.0" fill="url(#scl)"/>
<rect x="649" y="247.0" width="12" height="575.0" fill="url(#scl)"/>
<rect x="661" y="248.0" width="9" height="574.0" fill="url(#scl)"/>
<rect x="670" y="249.0" width="3" height="573.0" fill="url(#scl)"/>
<rect x="724" y="15.0" width="8" height="1041.3" fill="url(#r0)"/>
<rect x="730" y="15.0" width="8" height="1041.3" fill="url(#r1)"/>
<rect x="736" y="15.0" width="8" height="1041.3" fill="url(#r2)"/>
<rect x="742" y="15.0" width="8" height="1041.3" fill="url(#r3)"/>
<rect x="748" y="15.0" width="8" height="1041.3" fill="url(#r4)"/>
<rect x="754" y="15.0" width="8" height="1041.3" fill="url(#r5)"/>
<rect x="760" y="15.0" width="8" height="1041.3" fill="url(#r6)"/>
<rect x="766" y="15.0" width="8" height="1041.3" fill="url(#r7)"/>
<rect x="772" y="15.0" width="8" height="1041.3" fill="url(#r8)"/>
<rect x="778" y="15.0" width="8" height="1041.3" fill="url(#r9)"/>
<rect x="784" y="15.0" width="8" height="1041.3" fill="url(#r10)"/>
<rect x="790" y="15.0" width="8" height="1041.3" fill="url(#r11)"/>
<rect x="796" y="15.0" width="8" height="1041.3" fill="url(#r12)"/>
<rect x="802" y="15.0" width="8" height="1041.3" fill="url(#r13)"/>
<rect x="808" y="15.0" width="8" height="1041.3" fill="url(#r14)"/>
<rect x="814" y="15.0" width="8" height="1041.3" fill="url(#r15)"/>
<rect x="820" y="15.0" width="8" height="1041.3" fill="url(#r16)"/>
<rect x="826" y="15.0" width="8" height="1041.3" fill="url(#r17)"/>
<rect x="832" y="15.0" width="8" height="1041.3" fill="url(#r18)"/>
<rect x="838" y="15.0" width="8" height="1041.3" fill="url(#r19)"/>
<rect x="844" y="15.0" width="8" height="1041.3" fill="url(#r20)"/>
<rect x="850" y="15.0" width="8" height="1041.3" fill="url(#r21)"/>
<rect x="856" y="15.0" width="8" height="1041.3" fill="url(#r22)"/>
<rect x="862" y="15.0" width="8" height="1041.3" fill="url(#r23)"/>
<rect x="868" y="15.0" width="8" height="1041.3" fill="url(#r24)"/>
<rect x="874" y="15.0" width="8" height="1041.3" fill="url(#r25)"/>
<rect x="880" y="15.0" width="8" height="1041.3" fill="url(#r26)"/>
<rect x="886" y="15.0" width="8" height="1041.3" fill="url(#r27)"/>
<rect x="892" y="15.0" width="8" height="1041.3" fill="url(#r28)"/>
<rect x="898" y="15.0" width="8" height="1041.3" fill="url(#r29)"/>
<rect x="904" y="15.0" width="8" height="1041.3" fill="url(#r30)"/>
<rect x="910" y="15.0" width="8" height="1041.3" fill="url(#r31)"/>
<rect x="916" y="15.0" width="8" height="1041.3" fill="url(#r32)"/>
<rect x="922" y="15.0" width="9" height="1041.3" fill="url(#r33)"/>
<rect x="929" y="15.0" width="8" height="1041.3" fill="url(#r34)"/>
<rect x="935" y="15.0" width="8" height="1041.3" fill="url(#r35)"/>
<rect x="941" y="15.0" width="8" height="1041.3" fill="url(#r36)"/>
<rect x="947" y="15.0" width="8" height="1041.3" fill="url(#r37)"/>
<rect x="953" y="15.0" width="8" height="1041.3" fill="url(#r38)"/>
<rect x="959" y="15.0" width="8" height="1041.3" fill="url(#r39)"/>
<rect x="965" y="15.0" width="8" height="1041.3" fill="url(#r40)"/>
<rect x="971" y="15.0" width="8" height="1041.3" fill="url(#r41)"/>
<rect x="977" y="15.0" width="8" height="1041.3" fill="url(#r42)"/>
<rect x="983" y="15.0" width="8" height="1041.3" fill="url(#r43)"/>
<rect x="989" y="15.0" width="8" height="1041.3" fill="url(#r44)"/>
<rect x="995" y="15.0" width="8" height="1041.3" fill="url(#r45)"/>
<rect x="1001" y="15.0" width="8" height="1041.3" fill="url(#r46)"/>
<rect x="1007" y="15.0" width="8" height="1041.3" fill="url(#r47)"/>
<rect x="1013" y="15.0" width="8" height="1041.3" fill="url(#r48)"/>
<rect x="1019" y="15.0" width="8" height="1041.3" fill="url(#r49)"/>
<rect x="1025" y="15.0" width="8" height="1041.3" fill="url(#r50)"/>
<rect x="1031" y="15.0" width="8" height="1041.3" fill="url(#r51)"/>
<rect x="1037" y="15.0" width="8" height="1041.3" fill="url(#r52)"/>
<rect x="1043" y="15.0" width="8" height="1041.3" fill="url(#r53)"/>
<rect x="1049" y="15.0" width="8" height="1041.3" fill="url(#r54)"/>
<rect x="1055" y="15.0" width="8" height="1041.3" fill="url(#r55)"/>
<rect x="1061" y="15.0" width="8" height="1041.3" fill="url(#r56)"/>
<rect x="1067" y="15.0" width="8" height="1041.3" fill="url(#r57)"/>
<rect x="1073" y="15.0" width="8" height="1041.3" fill="url(#r58)"/>
<rect x="1079" y="15.0" width="8" height="1041.3" fill="url(#r59)"/>
<rect x="1085" y="15.0" width="8" height="1041.3" fill="url(#r60)"/>
<rect x="1091" y="15.0" width="8" height="1041.3" fill="url(#r61)"/>
<rect x="1097" y="15.0" width="8" height="1041.3" fill="url(#r62)"/>
<rect x="1103" y="15.0" width="8" height="1041.3" fill="url(#r63)"/>
<rect x="1109" y="15.0" width="8" height="1041.3" fill="url(#r64)"/>
<rect x="1115" y="15.0" width="8" height="1041.3" fill="url(#r65)"/>
<rect x="1121" y="15.0" width="8" height="1041.3" fill="url(#r66)"/>
<rect x="1127" y="15.0" width="8" height="1041.3" fill="url(#r67)"/>
<rect x="1133" y="15.0" width="8" height="1041.3" fill="url(#r68)"/>
<rect x="1139" y="15.0" width="8" height="1041.3" fill="url(#r69)"/>
<rect x="1145" y="15.0" width="8" height="1041.3" fill="url(#r70)"/>
<rect x="1151" y="15.0" width="8" height="1041.3" fill="url(#r71)"/>
<rect x="1157" y="15.0" width="8" height="1041.3" fill="url(#r72)"/>
<rect x="1163" y="15.0" width="8" height="1041.3" fill="url(#r73)"/>
<rect x="1169" y="15.0" width="8" height="1041.3" fill="url(#r74)"/>
<rect x="1175" y="15.0" width="8" height="1041.3" fill="url(#r75)"/>
<rect x="1181" y="15.0" width="8" height="1041.3" fill="url(#r76)"/>
<rect x="1187" y="15.0" width="8" height="1041.3" fill="url(#r77)"/>
<rect x="1193" y="15.0" width="8" height="1041.3" fill="url(#r78)"/>
<rect x="1199" y="15.0" width="8" height="1041.3" fill="url(#r79)"/>
<rect x="1205" y="15.0" width="8" height="1041.3" fill="url(#r80)"/>
<rect x="1211" y="15.0" width="8" height="1041.3" fill="url(#r81)"/>
<rect x="1217" y="15.0" width="8" height="1041.3" fill="url(#r82)"/>
<rect x="1223" y="15.0" width="8" height="1041.3" fill="url(#r83)"/>
<rect x="1229" y="15.0" width="8" height="1041.3" fill="url(#r84)"/>
<rect x="1235" y="15.0" width="8" height="1041.3" fill="url(#r85)"/>
<rect x="1241" y="15.0" width="8" height="1041.3" fill="url(#r86)"/>
<rect x="1247" y="15.0" width="8" height="1041.3" fill="url(#r87)"/>
<rect x="1253" y="15.0" width="8" height="1041.3" fill="url(#r88)"/>
<rect x="1259" y="15.0" width="7" height="1041.3" fill="url(#r89)"/>
<rect x="724" y="227.0" width="6" height="26" fill="url(#gru)"/>
<rect x="730" y="226.0" width="3" height="26" fill="url(#gru)"/>
<rect x="733" y="220.0" width="3" height="26" fill="url(#gru)"/>
<rect x="736" y="221.0" width="3" height="26" fill="url(#gru)"/>
<rect x="739" y="222.0" width="36" height="26" fill="url(#gru)"/>
<rect x="775" y="221.0" width="9" height="26" fill="url(#gru)"/>
<rect x="784" y="220.0" width="12" height="26" fill="url(#gru)"/>
<rect x="796" y="219.0" width="3" height="26" fill="url(#gru)"/>
<rect x="799" y="218.0" width="3" height="26" fill="url(#gru)"/>
<rect x="802" y="217.0" width="3" height="26" fill="url(#gru)"/>
<rect x="805" y="216.0" width="6" height="26" fill="url(#gru)"/>
<rect x="811" y="215.0" width="9" height="26" fill="url(#gru)"/>
<rect x="820" y="214.0" width="6" height="26" fill="url(#gru)"/>
<rect x="826" y="213.0" width="3" height="26" fill="url(#gru)"/>
<rect x="829" y="212.0" width="12" height="26" fill="url(#gru)"/>
<rect x="841" y="211.0" width="3" height="26" fill="url(#gru)"/>
<rect x="844" y="210.0" width="3" height="26" fill="url(#gru)"/>
<rect x="847" y="209.0" width="6" height="26" fill="url(#gru)"/>
<rect x="853" y="208.0" width="15" height="26" fill="url(#gru)"/>
<rect x="868" y="206.0" width="21" height="26" fill="url(#gru)"/>
<rect x="889" y="211.0" width="18" height="26" fill="url(#gru)"/>
<rect x="907" y="210.0" width="9" height="26" fill="url(#gru)"/>
<rect x="916" y="209.0" width="96" height="26" fill="url(#gru)"/>
<rect x="1012" y="213.0" width="6" height="26" fill="url(#gru)"/>
<rect x="1018" y="214.0" width="3" height="26" fill="url(#gru)"/>
<rect x="1021" y="215.0" width="9" height="26" fill="url(#gru)"/>
<rect x="1030" y="216.0" width="27" height="26" fill="url(#gru)"/>
<rect x="1057" y="217.0" width="26" height="26" fill="url(#gru)"/>
<rect x="1083" y="218.0" width="24" height="26" fill="url(#gru)"/>
<rect x="1107" y="219.0" width="12" height="26" fill="url(#gru)"/>
<rect x="1119" y="220.0" width="12" height="26" fill="url(#gru)"/>
<rect x="1131" y="221.0" width="30" height="26" fill="url(#gru)"/>
<rect x="1161" y="222.0" width="18" height="26" fill="url(#gru)"/>
<rect x="1179" y="223.0" width="12" height="26" fill="url(#gru)"/>
<rect x="1191" y="224.0" width="15" height="26" fill="url(#gru)"/>
<rect x="1206" y="225.0" width="30" height="26" fill="url(#gru)"/>
<rect x="1236" y="226.0" width="15" height="26" fill="url(#gru)"/>
<rect x="1251" y="227.0" width="15" height="26" fill="url(#gru)"/>
<rect x="724" y="805.0" width="3" height="26" fill="url(#gsd)"/>
<rect x="727" y="812.0" width="3" height="26" fill="url(#gsd)"/>
<rect x="730" y="819.0" width="3" height="26" fill="url(#gsd)"/>
<rect x="733" y="823.0" width="3" height="26" fill="url(#gsd)"/>
<rect x="736" y="822.0" width="12" height="26" fill="url(#gsd)"/>
<rect x="748" y="821.0" width="3" height="26" fill="url(#gsd)"/>
<rect x="751" y="822.0" width="6" height="26" fill="url(#gsd)"/>
<rect x="757" y="823.0" width="3" height="26" fill="url(#gsd)"/>
<rect x="760" y="824.0" width="3" height="26" fill="url(#gsd)"/>
<rect x="763" y="825.0" width="15" height="26" fill="url(#gsd)"/>
<rect x="778" y="826.0" width="9" height="26" fill="url(#gsd)"/>
<rect x="787" y="827.0" width="6" height="26" fill="url(#gsd)"/>
<rect x="793" y="828.0" width="12" height="26" fill="url(#gsd)"/>
<rect x="805" y="832.0" width="3" height="26" fill="url(#gsd)"/>
<rect x="808" y="833.0" width="21" height="26" fill="url(#gsd)"/>
<rect x="829" y="834.0" width="9" height="26" fill="url(#gsd)"/>
<rect x="838" y="835.0" width="3" height="26" fill="url(#gsd)"/>
<rect x="841" y="837.0" width="3" height="26" fill="url(#gsd)"/>
<rect x="844" y="839.0" width="3" height="26" fill="url(#gsd)"/>
<rect x="847" y="841.0" width="9" height="26" fill="url(#gsd)"/>
<rect x="856" y="842.0" width="3" height="26" fill="url(#gsd)"/>
<rect x="859" y="843.0" width="3" height="26" fill="url(#gsd)"/>
<rect x="862" y="844.0" width="9" height="26" fill="url(#gsd)"/>
<rect x="871" y="842.0" width="3" height="26" fill="url(#gsd)"/>
<rect x="874" y="840.0" width="3" height="26" fill="url(#gsd)"/>
<rect x="877" y="839.0" width="3" height="26" fill="url(#gsd)"/>
<rect x="880" y="837.0" width="6" height="26" fill="url(#gsd)"/>
<rect x="886" y="834.0" width="3" height="26" fill="url(#gsd)"/>
<rect x="889" y="833.0" width="12" height="26" fill="url(#gsd)"/>
<rect x="901" y="835.0" width="3" height="26" fill="url(#gsd)"/>
<rect x="904" y="838.0" width="3" height="26" fill="url(#gsd)"/>
<rect x="907" y="841.0" width="6" height="26" fill="url(#gsd)"/>
<rect x="913" y="842.0" width="3" height="26" fill="url(#gsd)"/>
<rect x="916" y="844.0" width="3" height="26" fill="url(#gsd)"/>
<rect x="919" y="845.0" width="6" height="26" fill="url(#gsd)"/>
<rect x="925" y="843.0" width="3" height="26" fill="url(#gsd)"/>
<rect x="928" y="840.0" width="3" height="26" fill="url(#gsd)"/>
<rect x="931" y="838.0" width="6" height="26" fill="url(#gsd)"/>
<rect x="937" y="836.0" width="3" height="26" fill="url(#gsd)"/>
<rect x="940" y="835.0" width="3" height="26" fill="url(#gsd)"/>
<rect x="943" y="834.0" width="12" height="26" fill="url(#gsd)"/>
<rect x="955" y="836.0" width="3" height="26" fill="url(#gsd)"/>
<rect x="958" y="840.0" width="3" height="26" fill="url(#gsd)"/>
<rect x="961" y="841.0" width="3" height="26" fill="url(#gsd)"/>
<rect x="964" y="846.0" width="3" height="26" fill="url(#gsd)"/>
<rect x="967" y="848.0" width="3" height="26" fill="url(#gsd)"/>
<rect x="970" y="847.0" width="3" height="26" fill="url(#gsd)"/>
<rect x="973" y="844.0" width="3" height="26" fill="url(#gsd)"/>
<rect x="976" y="841.0" width="3" height="26" fill="url(#gsd)"/>
<rect x="979" y="839.0" width="3" height="26" fill="url(#gsd)"/>
<rect x="982" y="838.0" width="3" height="26" fill="url(#gsd)"/>
<rect x="985" y="837.0" width="3" height="26" fill="url(#gsd)"/>
<rect x="988" y="835.0" width="3" height="26" fill="url(#gsd)"/>
<rect x="991" y="834.0" width="3" height="26" fill="url(#gsd)"/>
<rect x="994" y="833.0" width="9" height="26" fill="url(#gsd)"/>
<rect x="1003" y="834.0" width="6" height="26" fill="url(#gsd)"/>
<rect x="1009" y="835.0" width="3" height="26" fill="url(#gsd)"/>
<rect x="1012" y="838.0" width="3" height="26" fill="url(#gsd)"/>
<rect x="1015" y="840.0" width="3" height="26" fill="url(#gsd)"/>
<rect x="1018" y="841.0" width="3" height="26" fill="url(#gsd)"/>
<rect x="1021" y="842.0" width="3" height="26" fill="url(#gsd)"/>
<rect x="1024" y="841.0" width="3" height="26" fill="url(#gsd)"/>
<rect x="1027" y="837.0" width="3" height="26" fill="url(#gsd)"/>
<rect x="1030" y="832.0" width="3" height="26" fill="url(#gsd)"/>
<rect x="1033" y="830.0" width="3" height="26" fill="url(#gsd)"/>
<rect x="1036" y="829.0" width="3" height="26" fill="url(#gsd)"/>
<rect x="1039" y="828.0" width="3" height="26" fill="url(#gsd)"/>
<rect x="1042" y="826.0" width="3" height="26" fill="url(#gsd)"/>
<rect x="1045" y="825.0" width="3" height="26" fill="url(#gsd)"/>
<rect x="1048" y="824.0" width="3" height="26" fill="url(#gsd)"/>
<rect x="1051" y="825.0" width="6" height="26" fill="url(#gsd)"/>
<rect x="1057" y="826.0" width="3" height="26" fill="url(#gsd)"/>
<rect x="1060" y="827.0" width="3" height="26" fill="url(#gsd)"/>
<rect x="1063" y="830.0" width="3" height="26" fill="url(#gsd)"/>
<rect x="1066" y="833.0" width="3" height="26" fill="url(#gsd)"/>
<rect x="1069" y="834.0" width="3" height="26" fill="url(#gsd)"/>
<rect x="1072" y="835.0" width="2" height="26" fill="url(#gsd)"/>
<rect x="1074" y="836.0" width="3" height="26" fill="url(#gsd)"/>
<rect x="1077" y="837.0" width="3" height="26" fill="url(#gsd)"/>
<rect x="1080" y="836.0" width="3" height="26" fill="url(#gsd)"/>
<rect x="1083" y="833.0" width="3" height="26" fill="url(#gsd)"/>
<rect x="1086" y="830.0" width="6" height="26" fill="url(#gsd)"/>
<rect x="1092" y="828.0" width="3" height="26" fill="url(#gsd)"/>
<rect x="1095" y="827.0" width="3" height="26" fill="url(#gsd)"/>
<rect x="1098" y="825.0" width="3" height="26" fill="url(#gsd)"/>
<rect x="1101" y="824.0" width="3" height="26" fill="url(#gsd)"/>
<rect x="1104" y="825.0" width="6" height="26" fill="url(#gsd)"/>
<rect x="1110" y="826.0" width="6" height="26" fill="url(#gsd)"/>
<rect x="1116" y="829.0" width="3" height="26" fill="url(#gsd)"/>
<rect x="1119" y="831.0" width="3" height="26" fill="url(#gsd)"/>
<rect x="1122" y="832.0" width="3" height="26" fill="url(#gsd)"/>
<rect x="1125" y="833.0" width="3" height="26" fill="url(#gsd)"/>
<rect x="1128" y="834.0" width="6" height="26" fill="url(#gsd)"/>
<rect x="1134" y="832.0" width="3" height="26" fill="url(#gsd)"/>
<rect x="1137" y="829.0" width="3" height="26" fill="url(#gsd)"/>
<rect x="1140" y="827.0" width="6" height="26" fill="url(#gsd)"/>
<rect x="1146" y="826.0" width="3" height="26" fill="url(#gsd)"/>
<rect x="1149" y="825.0" width="12" height="26" fill="url(#gsd)"/>
<rect x="1161" y="826.0" width="9" height="26" fill="url(#gsd)"/>
<rect x="1170" y="827.0" width="6" height="26" fill="url(#gsd)"/>
<rect x="1176" y="826.0" width="12" height="26" fill="url(#gsd)"/>
<rect x="1188" y="825.0" width="18" height="26" fill="url(#gsd)"/>
<rect x="1206" y="824.0" width="6" height="26" fill="url(#gsd)"/>
<rect x="1212" y="823.0" width="6" height="26" fill="url(#gsd)"/>
<rect x="1218" y="822.0" width="24" height="26" fill="url(#gsd)"/>
<rect x="1242" y="821.0" width="24" height="26" fill="url(#gsd)"/>
<rect x="724" y="253.0" width="3" height="552.0" fill="url(#scr)"/>
<rect x="727" y="253.0" width="3" height="559.0" fill="url(#scr)"/>
<rect x="730" y="252.0" width="3" height="567.0" fill="url(#scr)"/>
<rect x="733" y="246.0" width="3" height="577.0" fill="url(#scr)"/>
<rect x="736" y="247.0" width="3" height="575.0" fill="url(#scr)"/>
<rect x="739" y="248.0" width="9" height="574.0" fill="url(#scr)"/>
<rect x="748" y="248.0" width="3" height="573.0" fill="url(#scr)"/>
<rect x="751" y="248.0" width="6" height="574.0" fill="url(#scr)"/>
<rect x="757" y="248.0" width="3" height="575.0" fill="url(#scr)"/>
<rect x="760" y="248.0" width="3" height="576.0" fill="url(#scr)"/>
<rect x="763" y="248.0" width="12" height="577.0" fill="url(#scr)"/>
<rect x="775" y="247.0" width="3" height="578.0" fill="url(#scr)"/>
<rect x="778" y="247.0" width="6" height="579.0" fill="url(#scr)"/>
<rect x="784" y="246.0" width="3" height="580.0" fill="url(#scr)"/>
<rect x="787" y="246.0" width="6" height="581.0" fill="url(#scr)"/>
<rect x="793" y="246.0" width="3" height="582.0" fill="url(#scr)"/>
<rect x="796" y="245.0" width="3" height="583.0" fill="url(#scr)"/>
<rect x="799" y="244.0" width="3" height="584.0" fill="url(#scr)"/>
<rect x="802" y="243.0" width="3" height="585.0" fill="url(#scr)"/>
<rect x="805" y="242.0" width="3" height="590.0" fill="url(#scr)"/>
<rect x="808" y="242.0" width="3" height="591.0" fill="url(#scr)"/>
<rect x="811" y="241.0" width="9" height="592.0" fill="url(#scr)"/>
<rect x="820" y="240.0" width="6" height="593.0" fill="url(#scr)"/>
<rect x="826" y="239.0" width="3" height="594.0" fill="url(#scr)"/>
<rect x="829" y="238.0" width="9" height="596.0" fill="url(#scr)"/>
<rect x="838" y="238.0" width="3" height="597.0" fill="url(#scr)"/>
<rect x="841" y="237.0" width="3" height="600.0" fill="url(#scr)"/>
<rect x="844" y="236.0" width="3" height="603.0" fill="url(#scr)"/>
<rect x="847" y="235.0" width="6" height="606.0" fill="url(#scr)"/>
<rect x="853" y="234.0" width="3" height="607.0" fill="url(#scr)"/>
<rect x="856" y="234.0" width="3" height="608.0" fill="url(#scr)"/>
<rect x="859" y="234.0" width="3" height="609.0" fill="url(#scr)"/>
<rect x="862" y="234.0" width="6" height="610.0" fill="url(#scr)"/>
<rect x="868" y="232.0" width="3" height="612.0" fill="url(#scr)"/>
<rect x="871" y="232.0" width="3" height="610.0" fill="url(#scr)"/>
<rect x="874" y="232.0" width="3" height="608.0" fill="url(#scr)"/>
<rect x="877" y="232.0" width="3" height="607.0" fill="url(#scr)"/>
<rect x="880" y="232.0" width="6" height="605.0" fill="url(#scr)"/>
<rect x="886" y="232.0" width="3" height="602.0" fill="url(#scr)"/>
<rect x="889" y="237.0" width="12" height="596.0" fill="url(#scr)"/>
<rect x="901" y="237.0" width="3" height="598.0" fill="url(#scr)"/>
<rect x="904" y="237.0" width="3" height="601.0" fill="url(#scr)"/>
<rect x="907" y="236.0" width="6" height="605.0" fill="url(#scr)"/>
<rect x="913" y="236.0" width="3" height="606.0" fill="url(#scr)"/>
<rect x="916" y="235.0" width="3" height="609.0" fill="url(#scr)"/>
<rect x="919" y="235.0" width="6" height="610.0" fill="url(#scr)"/>
<rect x="925" y="235.0" width="3" height="608.0" fill="url(#scr)"/>
<rect x="928" y="235.0" width="3" height="605.0" fill="url(#scr)"/>
<rect x="931" y="235.0" width="6" height="603.0" fill="url(#scr)"/>
<rect x="937" y="235.0" width="3" height="601.0" fill="url(#scr)"/>
<rect x="940" y="235.0" width="3" height="600.0" fill="url(#scr)"/>
<rect x="943" y="235.0" width="12" height="599.0" fill="url(#scr)"/>
<rect x="955" y="235.0" width="3" height="601.0" fill="url(#scr)"/>
<rect x="958" y="235.0" width="3" height="605.0" fill="url(#scr)"/>
<rect x="961" y="235.0" width="3" height="606.0" fill="url(#scr)"/>
<rect x="964" y="235.0" width="3" height="611.0" fill="url(#scr)"/>
<rect x="967" y="235.0" width="3" height="613.0" fill="url(#scr)"/>
<rect x="970" y="235.0" width="3" height="612.0" fill="url(#scr)"/>
<rect x="973" y="235.0" width="3" height="609.0" fill="url(#scr)"/>
<rect x="976" y="235.0" width="3" height="606.0" fill="url(#scr)"/>
<rect x="979" y="235.0" width="3" height="604.0" fill="url(#scr)"/>
<rect x="982" y="235.0" width="3" height="603.0" fill="url(#scr)"/>
<rect x="985" y="235.0" width="3" height="602.0" fill="url(#scr)"/>
<rect x="988" y="235.0" width="3" height="600.0" fill="url(#scr)"/>
<rect x="991" y="235.0" width="3" height="599.0" fill="url(#scr)"/>
<rect x="994" y="235.0" width="9" height="598.0" fill="url(#scr)"/>
<rect x="1003" y="235.0" width="6" height="599.0" fill="url(#scr)"/>
<rect x="1009" y="235.0" width="3" height="600.0" fill="url(#scr)"/>
<rect x="1012" y="239.0" width="3" height="599.0" fill="url(#scr)"/>
<rect x="1015" y="239.0" width="3" height="601.0" fill="url(#scr)"/>
<rect x="1018" y="240.0" width="3" height="601.0" fill="url(#scr)"/>
<rect x="1021" y="241.0" width="3" height="601.0" fill="url(#scr)"/>
<rect x="1024" y="241.0" width="3" height="600.0" fill="url(#scr)"/>
<rect x="1027" y="241.0" width="3" height="596.0" fill="url(#scr)"/>
<rect x="1030" y="242.0" width="3" height="590.0" fill="url(#scr)"/>
<rect x="1033" y="242.0" width="3" height="588.0" fill="url(#scr)"/>
<rect x="1036" y="242.0" width="3" height="587.0" fill="url(#scr)"/>
<rect x="1039" y="242.0" width="3" height="586.0" fill="url(#scr)"/>
<rect x="1042" y="242.0" width="3" height="584.0" fill="url(#scr)"/>
<rect x="1045" y="242.0" width="3" height="583.0" fill="url(#scr)"/>
<rect x="1048" y="242.0" width="3" height="582.0" fill="url(#scr)"/>
<rect x="1051" y="242.0" width="6" height="583.0" fill="url(#scr)"/>
<rect x="1057" y="243.0" width="3" height="583.0" fill="url(#scr)"/>
<rect x="1060" y="243.0" width="3" height="584.0" fill="url(#scr)"/>
<rect x="1063" y="243.0" width="3" height="587.0" fill="url(#scr)"/>
<rect x="1066" y="243.0" width="3" height="590.0" fill="url(#scr)"/>
<rect x="1069" y="243.0" width="3" height="591.0" fill="url(#scr)"/>
<rect x="1072" y="243.0" width="2" height="592.0" fill="url(#scr)"/>
<rect x="1074" y="243.0" width="3" height="593.0" fill="url(#scr)"/>
<rect x="1077" y="243.0" width="3" height="594.0" fill="url(#scr)"/>
<rect x="1080" y="243.0" width="3" height="593.0" fill="url(#scr)"/>
<rect x="1083" y="244.0" width="3" height="589.0" fill="url(#scr)"/>
<rect x="1086" y="244.0" width="6" height="586.0" fill="url(#scr)"/>
<rect x="1092" y="244.0" width="3" height="584.0" fill="url(#scr)"/>
<rect x="1095" y="244.0" width="3" height="583.0" fill="url(#scr)"/>
<rect x="1098" y="244.0" width="3" height="581.0" fill="url(#scr)"/>
<rect x="1101" y="244.0" width="3" height="580.0" fill="url(#scr)"/>
<rect x="1104" y="244.0" width="3" height="581.0" fill="url(#scr)"/>
<rect x="1107" y="245.0" width="3" height="580.0" fill="url(#scr)"/>
<rect x="1110" y="245.0" width="6" height="581.0" fill="url(#scr)"/>
<rect x="1116" y="245.0" width="3" height="584.0" fill="url(#scr)"/>
<rect x="1119" y="246.0" width="3" height="585.0" fill="url(#scr)"/>
<rect x="1122" y="246.0" width="3" height="586.0" fill="url(#scr)"/>
<rect x="1125" y="246.0" width="3" height="587.0" fill="url(#scr)"/>
<rect x="1128" y="246.0" width="3" height="588.0" fill="url(#scr)"/>
<rect x="1131" y="247.0" width="3" height="587.0" fill="url(#scr)"/>
<rect x="1134" y="247.0" width="3" height="585.0" fill="url(#scr)"/>
<rect x="1137" y="247.0" width="3" height="582.0" fill="url(#scr)"/>
<rect x="1140" y="247.0" width="6" height="580.0" fill="url(#scr)"/>
<rect x="1146" y="247.0" width="3" height="579.0" fill="url(#scr)"/>
<rect x="1149" y="247.0" width="12" height="578.0" fill="url(#scr)"/>
<rect x="1161" y="248.0" width="9" height="578.0" fill="url(#scr)"/>
<rect x="1170" y="248.0" width="6" height="579.0" fill="url(#scr)"/>
<rect x="1176" y="248.0" width="3" height="578.0" fill="url(#scr)"/>
<rect x="1179" y="249.0" width="9" height="577.0" fill="url(#scr)"/>
<rect x="1188" y="249.0" width="3" height="576.0" fill="url(#scr)"/>
<rect x="1191" y="250.0" width="15" height="575.0" fill="url(#scr)"/>
<rect x="1206" y="251.0" width="6" height="573.0" fill="url(#scr)"/>
<rect x="1212" y="251.0" width="6" height="572.0" fill="url(#scr)"/>
<rect x="1218" y="251.0" width="18" height="571.0" fill="url(#scr)"/>
<rect x="1236" y="252.0" width="6" height="570.0" fill="url(#scr)"/>
<rect x="1242" y="252.0" width="9" height="569.0" fill="url(#scr)"/>
<rect x="1251" y="253.0" width="15" height="568.0" fill="url(#scr)"/>
</g></g>
<path fill="none" stroke="#7d1022" stroke-width="1" d="M132.0 250.0H138.0V249.0H156.0V248.0H183.0V247.0H207.0V244.0H213.0V243.0H225.0V242.0H234.0V243.0H246.0V244.0H261.0V243.0H267.0V241.0H270.0V239.0H273.0V238.0H276.0V236.0H279.0V235.0H285.0V236.0H288.0V237.0H291.0V239.0H294.0V241.0H297.0V242.0H300.0V243.0H303.0V244.0H318.0V243.0H321.0V241.0H324.0V238.0H327.0V236.0H330.0V233.0H333.0V231.0H342.0V232.0H345.0V234.0H348.0V237.0H351.0V240.0H354.0V242.0H357.0V243.0H360.0V244.0H375.0V233.0H378.0V231.0H381.0V230.0H390.0V232.0H393.0V235.0H396.0V238.0H399.0V240.0H402.0V243.0H406.0V244.0H424.0V243.0H427.0V241.0H430.0V238.0H433.0V235.0H436.0V233.0H439.0V231.0H445.0V232.0H448.0V234.0H451.0V237.0H454.0V240.0H457.0V243.0H460.0V244.0H481.0V243.0H484.0V241.0H487.0V239.0H490.0V236.0H493.0V235.0H496.0V234.0H502.0V236.0H505.0V238.0H508.0V240.0H511.0V243.0H514.0V244.0H532.0V243.0H535.0V242.0H538.0V240.0H541.0V239.0H544.0V238.0H553.0V239.0H556.0V241.0H559.0V243.0H562.0V244.0H580.0V243.0H583.0V242.0H586.0V243.0H604.0V244.0H610.0V245.0H616.0V246.0H637.0V247.0H661.0V248.0H670.0V249.0H673.0"/>
<path fill="none" stroke="#7d1022" stroke-width="1.8" d="M132.0 815.0H159.0V816.0H177.0V817.0H195.0V818.0H207.0V819.0H225.0V820.0H243.0V821.0H291.0V822.0H309.0V823.0H321.0V824.0H336.0V825.0H354.0V826.0H399.0V825.0H430.0V826.0H589.0V825.0H613.0V824.0H631.0V823.0H649.0V822.0H673.0"/>
<path fill="none" stroke="#7d1022" stroke-width="1.8" d="M724.0 253.0H730.0V252.0H733.0V246.0H736.0V247.0H739.0V248.0H775.0V247.0H784.0V246.0H796.0V245.0H799.0V244.0H802.0V243.0H805.0V242.0H811.0V241.0H820.0V240.0H826.0V239.0H829.0V238.0H841.0V237.0H844.0V236.0H847.0V235.0H853.0V234.0H868.0V232.0H889.0V237.0H907.0V236.0H916.0V235.0H1012.0V239.0H1018.0V240.0H1021.0V241.0H1030.0V242.0H1057.0V243.0H1083.0V244.0H1107.0V245.0H1119.0V246.0H1131.0V247.0H1161.0V248.0H1179.0V249.0H1191.0V250.0H1206.0V251.0H1236.0V252.0H1251.0V253.0H1266.0"/>
<path fill="none" stroke="#7d1022" stroke-width="1" d="M724.0 805.0H727.0V812.0H730.0V819.0H733.0V823.0H736.0V822.0H748.0V821.0H751.0V822.0H757.0V823.0H760.0V824.0H763.0V825.0H778.0V826.0H787.0V827.0H793.0V828.0H805.0V832.0H808.0V833.0H829.0V834.0H838.0V835.0H841.0V837.0H844.0V839.0H847.0V841.0H856.0V842.0H859.0V843.0H862.0V844.0H871.0V842.0H874.0V840.0H877.0V839.0H880.0V837.0H886.0V834.0H889.0V833.0H901.0V835.0H904.0V838.0H907.0V841.0H913.0V842.0H916.0V844.0H919.0V845.0H925.0V843.0H928.0V840.0H931.0V838.0H937.0V836.0H940.0V835.0H943.0V834.0H955.0V836.0H958.0V840.0H961.0V841.0H964.0V846.0H967.0V848.0H970.0V847.0H973.0V844.0H976.0V841.0H979.0V839.0H982.0V838.0H985.0V837.0H988.0V835.0H991.0V834.0H994.0V833.0H1003.0V834.0H1009.0V835.0H1012.0V838.0H1015.0V840.0H1018.0V841.0H1021.0V842.0H1024.0V841.0H1027.0V837.0H1030.0V832.0H1033.0V830.0H1036.0V829.0H1039.0V828.0H1042.0V826.0H1045.0V825.0H1048.0V824.0H1051.0V825.0H1057.0V826.0H1060.0V827.0H1063.0V830.0H1066.0V833.0H1069.0V834.0H1072.0V835.0H1074.0V836.0H1077.0V837.0H1080.0V836.0H1083.0V833.0H1086.0V830.0H1092.0V828.0H1095.0V827.0H1098.0V825.0H1101.0V824.0H1104.0V825.0H1110.0V826.0H1116.0V829.0H1119.0V831.0H1122.0V832.0H1125.0V833.0H1128.0V834.0H1134.0V832.0H1137.0V829.0H1140.0V827.0H1146.0V826.0H1149.0V825.0H1161.0V826.0H1170.0V827.0H1176.0V826.0H1188.0V825.0H1206.0V824.0H1212.0V823.0H1218.0V822.0H1242.0V821.0H1266.0"/>

<rect x="1308.7" y="535.5" width="28.3" height="520.8" fill="url(#cb)"/>
<g fill="none" stroke="#000" stroke-width="2.2">
<rect x="132.0" y="15.0" width="541.0" height="1041.3"/>
<rect x="724.4" y="15.0" width="541.6" height="1041.3"/>
<rect x="1308.7" y="535.5" width="28.3" height="520.8"/>
<path d="M119.0 1056.3H132.0M711.4 1056.3H724.4M119.0 926.1H132.0M711.4 926.1H724.4M119.0 796.0H132.0M711.4 796.0H724.4M119.0 665.8H132.0M711.4 665.8H724.4M119.0 535.6H132.0M711.4 535.6H724.4M119.0 405.5H132.0M711.4 405.5H724.4M119.0 275.3H132.0M711.4 275.3H724.4M119.0 145.2H132.0M711.4 145.2H724.4M119.0 15.0H132.0M711.4 15.0H724.4M258.3 1056.3V1069.3M402.5 1056.3V1069.3M546.7 1056.3V1069.3M851.0 1056.3V1069.3M995.2 1056.3V1069.3M1139.4 1056.3V1069.3M1337.0 535.5H1349.0M1337.0 1056.3H1349.0"/>
</g>

<g class="t">
<text x="103" y="1066.7" text-anchor="end">−20</text>
<text x="103" y="936.5" text-anchor="end">−15</text>
<text x="103" y="806.4" text-anchor="end">−10</text>
<text x="103" y="676.2" text-anchor="end">−5</text>
<text x="103" y="546.0" text-anchor="end">0</text>
<text x="103" y="415.9" text-anchor="end">5</text>
<text x="103" y="285.7" text-anchor="end">10</text>
<text x="103" y="155.6" text-anchor="end">15</text>
<text x="103" y="25.4" text-anchor="end">20</text>
<text x="258.3" y="1105" text-anchor="middle">−2</text>
<text x="402.5" y="1105" text-anchor="middle">0</text>
<text x="546.7" y="1105" text-anchor="middle">2</text>
<text x="851.0" y="1105" text-anchor="middle">−2</text>
<text x="995.2" y="1105" text-anchor="middle">0</text>
<text x="1139.4" y="1105" text-anchor="middle">2</text>
<text x="1363" y="545.9">25</text>
<text x="1363" y="1066.7">1</text>
</g>

<g class="m">
<text x="402.0" y="1149.4" text-anchor="middle"><tspan class="i">B</tspan> (<tspan class="i">mT</tspan>)</text>
<text x="994.7" y="1149.4" text-anchor="middle"><tspan class="i">B</tspan> (<tspan class="i">mT</tspan>)</text>
<text transform="translate(29.3 535.6) rotate(-90)" text-anchor="middle"><tspan class="i">I</tspan><tspan class="i" font-size="20px" dy="4.4">dc</tspan><tspan dy="-4.4"> (</tspan><tspan class="i">nA</tspan>)</text>
<text transform="translate(1376 798.5) rotate(-90)" text-anchor="middle"><tspan class="i">R</tspan> (<tspan class="i">k</tspan>Ω)</text>
</g>

<path fill="#fff" d="M175.1 597.5H180.1V493.0L189.6 499.0L177.6 471.5L165.6 499.0L175.1 493.0V597.5Z"/>
<path fill="#fff" d="M778.1 476.5H783.1V582.0L792.6 576.0L780.6 603.5L768.6 576.0L778.1 582.0V476.5Z"/>
<text class="w" x="205.0" y="554" font-size="47.5px">I<tspan font-size="23.5px" dx="2.2" dy="9">DC</tspan></text>
<text class="w" x="808.2" y="554" font-size="47.5px">I<tspan font-size="23.5px" dx="2.2" dy="9">DC</tspan></text>
</svg>
</body></html>
